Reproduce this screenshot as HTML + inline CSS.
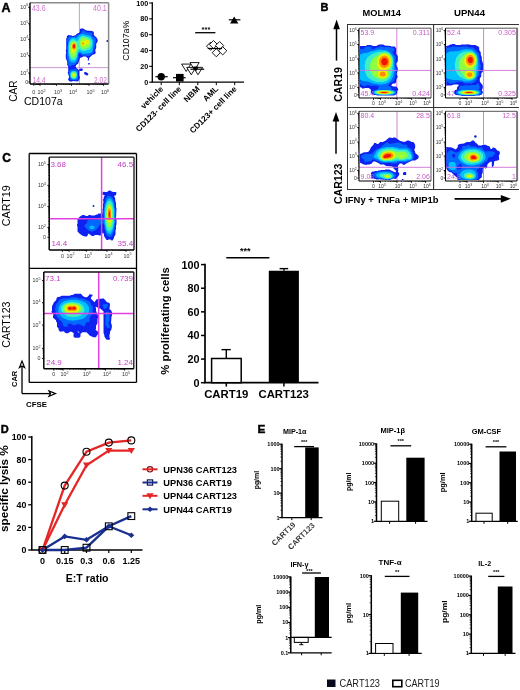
<!DOCTYPE html>
<html><head><meta charset="utf-8"><style>
html,body{margin:0;padding:0;background:#fff;width:520px;height:690px;overflow:hidden}
svg{display:block;font-family:"Liberation Sans", sans-serif;filter:blur(0.3px)}
</style></head><body>
<svg width="520" height="690" viewBox="0 0 520 690">
<defs><filter id="bl" x="-5%" y="-5%" width="110%" height="110%"><feGaussianBlur stdDeviation="0.45"/></filter></defs>
<rect width="520" height="690" fill="#fff"/>
<text x="1.5" y="11.6" font-size="12.5" font-weight="bold" fill="#000" stroke="#000" stroke-width="0.45">A</text>
<line x1="152.3" y1="2.2" x2="152.3" y2="82.2" stroke="#000" stroke-width="1.3"/>
<line x1="151.6" y1="82.2" x2="244" y2="82.2" stroke="#000" stroke-width="1.3"/>
<line x1="149.2" y1="82.2" x2="152.3" y2="82.2" stroke="#000" stroke-width="1.1"/>
<text x="148.3" y="84.8" font-size="7.2" font-weight="bold" text-anchor="end" fill="#000">0</text>
<line x1="149.2" y1="66.36" x2="152.3" y2="66.36" stroke="#000" stroke-width="1.1"/>
<text x="148.3" y="68.96" font-size="7.2" font-weight="bold" text-anchor="end" fill="#000">20</text>
<line x1="149.2" y1="50.52" x2="152.3" y2="50.52" stroke="#000" stroke-width="1.1"/>
<text x="148.3" y="53.120000000000005" font-size="7.2" font-weight="bold" text-anchor="end" fill="#000">40</text>
<line x1="149.2" y1="34.68" x2="152.3" y2="34.68" stroke="#000" stroke-width="1.1"/>
<text x="148.3" y="37.28" font-size="7.2" font-weight="bold" text-anchor="end" fill="#000">60</text>
<line x1="149.2" y1="18.840000000000003" x2="152.3" y2="18.840000000000003" stroke="#000" stroke-width="1.1"/>
<text x="148.3" y="21.440000000000005" font-size="7.2" font-weight="bold" text-anchor="end" fill="#000">80</text>
<line x1="149.2" y1="3.0" x2="152.3" y2="3.0" stroke="#000" stroke-width="1.1"/>
<text x="148.3" y="5.6" font-size="7.2" font-weight="bold" text-anchor="end" fill="#000">100</text>
<line x1="161.2" y1="82.2" x2="161.2" y2="85.2" stroke="#000" stroke-width="1"/>
<line x1="179.3" y1="82.2" x2="179.3" y2="85.2" stroke="#000" stroke-width="1"/>
<line x1="197.8" y1="82.2" x2="197.8" y2="85.2" stroke="#000" stroke-width="1"/>
<line x1="216.3" y1="82.2" x2="216.3" y2="85.2" stroke="#000" stroke-width="1"/>
<line x1="234.7" y1="82.2" x2="234.7" y2="85.2" stroke="#000" stroke-width="1"/>
<text x="128.7" y="40.7" font-size="9.8" text-anchor="middle" fill="#000" transform="rotate(-90 128.7 40.7)" textLength="40" lengthAdjust="spacingAndGlyphs">CD107a%</text>
<text x="163.7" y="89.5" font-size="8.2" font-weight="bold" text-anchor="end" fill="#000" transform="rotate(-45 163.7 89.5)">vehicle</text>
<text x="181.8" y="89.5" font-size="8.2" font-weight="bold" text-anchor="end" fill="#000" transform="rotate(-45 181.8 89.5)">CD123- cell line</text>
<text x="200.3" y="89.5" font-size="8.2" font-weight="bold" text-anchor="end" fill="#000" transform="rotate(-45 200.3 89.5)">NBM</text>
<text x="218.8" y="89.5" font-size="8.2" font-weight="bold" text-anchor="end" fill="#000" transform="rotate(-45 218.8 89.5)">AML</text>
<text x="237.2" y="89.5" font-size="8.2" font-weight="bold" text-anchor="end" fill="#000" transform="rotate(-45 237.2 89.5)">CD123+ cell line</text>
<circle cx="161.2" cy="76.7" r="3.7" fill="#000"/>
<line x1="155.4" y1="76.7" x2="167.7" y2="76.7" stroke="#000" stroke-width="1.2"/>
<rect x="176.0" y="73.9" width="7.6" height="7.6" fill="#000" stroke="none" stroke-width="1"/>
<line x1="173" y1="77.7" x2="185.6" y2="77.7" stroke="#000" stroke-width="1.2"/>
<path d="M181.6,64.08 L190.79999999999998,64.08 L186.2,71.44 Z" fill="#fff" stroke="#000" stroke-width="0.9"/>
<path d="M186.70000000000002,67.38 L195.9,67.38 L191.3,74.74 Z" fill="#fff" stroke="#000" stroke-width="0.9"/>
<path d="M190.0,62.58 L199.2,62.58 L194.6,69.94 Z" fill="#fff" stroke="#000" stroke-width="0.9"/>
<path d="M193.4,67.38 L202.6,67.38 L198,74.74 Z" fill="#fff" stroke="#000" stroke-width="0.9"/>
<path d="M193.4,67.02 L198.20000000000002,67.02 L195.8,70.86 Z" fill="#000" stroke="#000" stroke-width="0.9"/>
<line x1="190.4" y1="69.2" x2="204.2" y2="69.2" stroke="#000" stroke-width="1.2"/>
<path d="M210.6,42.1 L214.7,46.2 L210.6,50.300000000000004 L206.5,46.2 Z" fill="#fff" stroke="#000" stroke-width="0.9"/>
<path d="M213.5,40.5 L217.6,44.6 L213.5,48.7 L209.4,44.6 Z" fill="#fff" stroke="#000" stroke-width="0.9"/>
<path d="M219.6,41.5 L223.7,45.6 L219.6,49.7 L215.5,45.6 Z" fill="#fff" stroke="#000" stroke-width="0.9"/>
<path d="M216.3,48.6 L220.4,52.7 L216.3,56.800000000000004 L212.20000000000002,52.7 Z" fill="#fff" stroke="#000" stroke-width="0.9"/>
<path d="M222.7,46.699999999999996 L226.79999999999998,50.8 L222.7,54.9 L218.6,50.8 Z" fill="#fff" stroke="#000" stroke-width="0.9"/>
<line x1="207.7" y1="48.5" x2="222" y2="48.5" stroke="#000" stroke-width="1.2"/>
<path d="M234.2,16.6 L238.4,23.6 L230,23.6 Z" fill="#000"/>
<line x1="228.8" y1="19.8" x2="240.4" y2="19.8" stroke="#000" stroke-width="1.2"/>
<text x="206" y="32.2" font-size="7.5" font-weight="bold" text-anchor="middle" fill="#000">***</text>
<line x1="195.2" y1="32.7" x2="215.4" y2="32.7" stroke="#000" stroke-width="1.3"/>
<line x1="79.4" y1="2.7" x2="79.4" y2="84" stroke="#c080c8" stroke-width="0.8"/>
<line x1="30" y1="67.6" x2="108.6" y2="67.6" stroke="#c080c8" stroke-width="0.8"/>
<g filter="url(#bl)"><path d="M83.8,73.0 L84.8,74.5 L86.8,75.5 L88.2,75.0 L88.2,73.5 L85.8,72.0 L84.8,72.0ZM88.2,63.0 L88.2,64.5 L89.8,64.5 L89.8,63.0ZM92.2,30.9 L86.2,30.4 L83.2,28.4 L80.8,28.4 L79.8,29.4 L79.8,31.9 L78.8,33.0 L77.2,33.5 L75.2,35.5 L72.2,36.0 L71.8,35.5 L68.2,35.0 L66.8,36.5 L66.8,38.0 L66.2,38.5 L66.2,49.5 L65.8,50.0 L66.2,53.5 L65.8,54.0 L65.8,58.5 L67.2,61.5 L67.2,65.0 L68.2,66.5 L68.2,71.5 L67.8,72.0 L67.8,73.0 L69.2,77.0 L68.2,79.0 L68.2,80.0 L69.8,81.5 L72.2,81.5 L72.8,81.0 L77.8,81.5 L79.2,80.0 L79.2,79.0 L79.8,78.5 L79.8,76.5 L79.2,76.0 L79.2,71.0 L79.8,70.5 L80.2,71.0 L81.8,71.0 L82.8,70.0 L82.8,69.0 L82.2,68.5 L80.2,68.5 L78.8,70.0 L75.8,67.5 L75.8,66.0 L76.2,65.0 L78.2,63.5 L79.8,58.5 L80.8,57.5 L81.8,57.5 L83.2,56.5 L85.8,56.5 L88.2,58.5 L87.8,59.0 L87.8,60.5 L88.8,60.5 L89.2,58.0 L92.2,55.0 L94.8,54.0 L95.8,53.0 L95.2,50.0 L96.2,48.0 L96.2,43.5 L97.2,42.5 L97.8,40.0 L96.2,37.0 L95.8,37.0 L93.8,35.0 L93.8,31.9Z" fill="#1020f0" fill-rule="evenodd"/><path d="M70.2,69.5 L68.8,71.5 L68.8,74.0 L70.2,77.5 L70.2,79.5 L70.8,80.0 L77.2,80.5 L78.2,79.0 L78.2,77.0 L77.8,76.5 L78.2,71.5 L77.8,70.5 L75.8,69.0ZM88.8,63.5 L88.8,64.0 L89.2,64.0 L89.2,63.5ZM91.2,32.5 L86.8,32.5 L84.2,30.4 L82.2,30.4 L80.8,33.5 L77.2,35.0 L75.8,36.5 L74.8,36.5 L74.2,37.0 L69.2,36.5 L67.8,38.0 L67.8,39.5 L67.2,40.0 L67.2,41.5 L67.8,42.0 L67.8,45.5 L67.2,46.0 L67.2,54.5 L66.8,55.0 L66.8,58.5 L67.8,60.0 L67.8,61.0 L68.2,61.5 L68.2,64.0 L69.2,66.0 L70.2,66.5 L72.8,65.0 L74.2,65.0 L77.2,62.5 L78.2,60.0 L78.2,58.5 L78.8,58.0 L78.8,56.0 L78.2,55.5 L78.8,55.0 L78.8,54.0 L79.8,53.0 L82.2,55.5 L86.8,55.5 L87.2,56.0 L88.8,56.0 L93.2,53.0 L93.8,52.0 L93.8,51.0 L93.2,50.5 L94.8,47.5 L94.8,44.5 L95.8,42.0 L95.8,39.0 L94.8,37.5 L93.2,37.0 L92.2,36.0 L92.2,33.5Z" fill="#0068ff" fill-rule="evenodd"/><path d="M71.8,71.0 L70.2,73.0 L70.2,77.0 L71.8,79.0 L72.8,79.0 L73.2,79.5 L75.8,79.0 L77.2,77.0 L77.2,73.0 L76.8,72.0 L75.2,71.0ZM91.2,36.5 L89.2,35.5 L85.2,35.0 L83.8,34.0 L81.2,34.0 L78.8,35.5 L76.2,38.5 L74.2,37.5 L72.2,37.5 L69.8,39.5 L68.2,43.5 L68.2,55.5 L68.8,56.0 L69.2,60.0 L71.2,62.5 L74.2,62.5 L75.8,61.5 L77.8,56.5 L78.2,53.0 L79.2,52.0 L80.2,52.0 L81.2,53.0 L83.8,54.0 L84.8,53.5 L88.2,53.5 L88.8,53.0 L90.2,53.0 L91.8,52.0 L92.8,50.0 L92.8,47.0 L93.2,46.5 L93.2,40.5Z" fill="#00c0ff" fill-rule="evenodd"/><path d="M72.8,71.5 L71.8,72.0 L70.8,73.5 L70.8,76.5 L72.2,78.5 L75.2,78.5 L76.8,76.5 L76.8,73.5 L75.8,72.0 L74.8,71.5ZM90.2,38.0 L84.8,36.0 L81.8,36.0 L79.2,38.0 L78.8,39.5 L77.2,41.0 L76.2,41.0 L73.8,39.0 L71.8,39.5 L70.2,41.0 L69.2,43.0 L69.2,45.0 L68.8,45.5 L68.8,53.5 L69.2,54.0 L69.8,57.5 L71.8,60.0 L74.8,60.0 L75.8,59.0 L76.8,57.0 L77.8,51.5 L79.2,49.5 L80.2,49.5 L81.8,51.0 L85.2,51.0 L87.2,50.0 L88.8,50.0 L90.8,48.5 L92.2,44.5 L92.2,42.0 L91.8,41.5 L91.8,40.0Z" fill="#40f0c0" fill-rule="evenodd"/><path d="M74.8,72.5 L72.8,72.5 L71.2,74.0 L71.2,76.0 L72.2,77.5 L73.2,77.5 L73.8,78.0 L75.8,77.0 L76.2,74.5ZM72.2,41.5 L70.8,43.0 L70.2,45.5 L69.8,46.0 L69.8,52.5 L70.2,53.0 L70.8,56.0 L72.2,57.5 L74.2,57.5 L76.2,54.5 L76.2,53.0 L76.8,52.5 L76.8,47.0 L77.2,46.0 L76.8,45.5 L76.2,43.0 L74.8,41.5ZM82.8,37.5 L81.8,38.0 L80.2,40.0 L80.2,41.0 L79.8,41.5 L79.8,45.0 L80.2,45.5 L80.2,46.5 L81.8,48.5 L84.2,49.0 L88.2,47.5 L89.8,46.0 L90.2,45.0 L90.2,41.0 L87.2,38.5Z" fill="#90ff40" fill-rule="evenodd"/><path d="M73.8,73.5 L72.8,74.0 L72.8,76.0 L73.2,76.5 L74.2,76.5 L74.8,76.0 L74.8,74.0ZM75.2,42.5 L73.2,42.5 L72.2,43.5 L71.8,46.0 L71.2,46.5 L71.8,47.5 L71.8,51.5 L73.2,53.5 L74.2,53.0 L74.8,51.0 L76.2,48.5 L76.2,44.0ZM89.2,41.0 L88.2,40.0 L86.8,40.0 L85.2,41.0 L83.2,40.5 L81.2,42.5 L81.2,44.5 L81.8,45.5 L83.8,46.0 L86.2,44.0 L88.2,43.5 L89.2,42.5Z" fill="#f0f000" fill-rule="evenodd"/><path d="M73.8,43.0 L72.2,45.0 L72.2,48.0 L73.2,49.5 L74.8,49.5 L75.8,48.0 L75.8,44.5 L75.2,43.5ZM82.8,42.5 L82.2,43.0 L82.2,44.5 L83.8,44.5 L84.2,43.5 L83.8,42.5ZM87.8,41.5 L86.8,42.0 L87.8,42.0Z" fill="#ff8c00" fill-rule="evenodd"/><path d="M73.8,44.0 L72.8,45.5 L72.8,47.0 L73.2,48.0 L74.2,48.5 L75.2,47.5 L75.2,45.0Z" fill="#f01800" fill-rule="evenodd"/></g>
<circle cx="107.3" cy="41" r="0.9" fill="#102080"/>
<line x1="30" y1="2.7" x2="108.6" y2="2.7" stroke="#8a8a8a" stroke-width="1.5"/>
<line x1="108.6" y1="2.7" x2="108.6" y2="84" stroke="#8a8a8a" stroke-width="1.5"/>
<line x1="30" y1="2.7" x2="30" y2="84" stroke="#000" stroke-width="1.4"/>
<line x1="30" y1="84" x2="108.6" y2="84" stroke="#000" stroke-width="1.4"/>
<line x1="28.2" y1="7.3" x2="30" y2="7.3" stroke="#000" stroke-width="0.9"/>
<text x="28.3" y="8.9" font-size="5.4" text-anchor="end" fill="#333">10<tspan font-size="3.78" dy="-2.43">6</tspan></text>
<line x1="28.2" y1="23.7" x2="30" y2="23.7" stroke="#000" stroke-width="0.9"/>
<text x="28.3" y="25.3" font-size="5.4" text-anchor="end" fill="#333">10<tspan font-size="3.78" dy="-2.43">5</tspan></text>
<line x1="28.2" y1="39.3" x2="30" y2="39.3" stroke="#000" stroke-width="0.9"/>
<text x="28.3" y="40.9" font-size="5.4" text-anchor="end" fill="#333">10<tspan font-size="3.78" dy="-2.43">4</tspan></text>
<line x1="28.2" y1="55.7" x2="30" y2="55.7" stroke="#000" stroke-width="0.9"/>
<text x="28.3" y="57.300000000000004" font-size="5.4" text-anchor="end" fill="#333">10<tspan font-size="3.78" dy="-2.43">3</tspan></text>
<line x1="28.2" y1="73.0" x2="30" y2="73.0" stroke="#000" stroke-width="0.9"/>
<text x="28.3" y="74.6" font-size="5.4" text-anchor="end" fill="#333">10<tspan font-size="3.78" dy="-2.43">2</tspan></text>
<line x1="28.2" y1="82.0" x2="30" y2="82.0" stroke="#000" stroke-width="0.9"/>
<text x="28.3" y="83.6" font-size="5.4" text-anchor="end" fill="#333">0</text>
<line x1="33.8" y1="84" x2="33.8" y2="85.8" stroke="#000" stroke-width="0.9"/>
<text x="33.8" y="94.0" font-size="5.4" text-anchor="middle" fill="#333">0</text>
<line x1="40.0" y1="84" x2="40.0" y2="85.8" stroke="#000" stroke-width="0.9"/>
<text x="41.5" y="94.0" font-size="5.4" text-anchor="middle" fill="#333">10<tspan font-size="3.78" dy="-2.43">2</tspan></text>
<line x1="56.5" y1="84" x2="56.5" y2="85.8" stroke="#000" stroke-width="0.9"/>
<text x="58.0" y="94.0" font-size="5.4" text-anchor="middle" fill="#333">10<tspan font-size="3.78" dy="-2.43">3</tspan></text>
<line x1="71.5" y1="84" x2="71.5" y2="85.8" stroke="#000" stroke-width="0.9"/>
<text x="73.0" y="94.0" font-size="5.4" text-anchor="middle" fill="#333">10<tspan font-size="3.78" dy="-2.43">4</tspan></text>
<line x1="89.0" y1="84" x2="89.0" y2="85.8" stroke="#000" stroke-width="0.9"/>
<text x="90.5" y="94.0" font-size="5.4" text-anchor="middle" fill="#333">10<tspan font-size="3.78" dy="-2.43">5</tspan></text>
<line x1="103.5" y1="84" x2="103.5" y2="85.8" stroke="#000" stroke-width="0.9"/>
<text x="105.0" y="94.0" font-size="5.4" text-anchor="middle" fill="#333">10<tspan font-size="3.78" dy="-2.43">6</tspan></text>
<line x1="29.0" y1="18.763108071110707" x2="30" y2="18.763108071110707" stroke="#000" stroke-width="0.6"/>
<line x1="29.0" y1="15.875211422597536" x2="30" y2="15.875211422597536" stroke="#000" stroke-width="0.6"/>
<line x1="29.0" y1="13.826216142221417" x2="30" y2="13.826216142221417" stroke="#000" stroke-width="0.6"/>
<line x1="29.0" y1="12.23689192888929" x2="30" y2="12.23689192888929" stroke="#000" stroke-width="0.6"/>
<line x1="29.0" y1="10.938319493708244" x2="30" y2="10.938319493708244" stroke="#000" stroke-width="0.6"/>
<line x1="29.0" y1="9.84039214376619" x2="30" y2="9.84039214376619" stroke="#000" stroke-width="0.6"/>
<line x1="29.0" y1="8.889324213332127" x2="30" y2="8.889324213332127" stroke="#000" stroke-width="0.6"/>
<line x1="29.0" y1="8.050422845195072" x2="30" y2="8.050422845195072" stroke="#000" stroke-width="0.6"/>
<line x1="29.0" y1="34.60393206764189" x2="30" y2="34.60393206764189" stroke="#000" stroke-width="0.6"/>
<line x1="29.0" y1="31.856908426373266" x2="30" y2="31.856908426373266" stroke="#000" stroke-width="0.6"/>
<line x1="29.0" y1="29.907864135283784" x2="30" y2="29.907864135283784" stroke="#000" stroke-width="0.6"/>
<line x1="29.0" y1="28.396067932358104" x2="30" y2="28.396067932358104" stroke="#000" stroke-width="0.6"/>
<line x1="29.0" y1="27.160840494015158" x2="30" y2="27.160840494015158" stroke="#000" stroke-width="0.6"/>
<line x1="29.0" y1="26.11647057577759" x2="30" y2="26.11647057577759" stroke="#000" stroke-width="0.6"/>
<line x1="29.0" y1="25.21179620292568" x2="30" y2="25.21179620292568" stroke="#000" stroke-width="0.6"/>
<line x1="29.0" y1="24.413816852746532" x2="30" y2="24.413816852746532" stroke="#000" stroke-width="0.6"/>
<line x1="29.0" y1="50.76310807111071" x2="30" y2="50.76310807111071" stroke="#000" stroke-width="0.6"/>
<line x1="29.0" y1="47.87521142259754" x2="30" y2="47.87521142259754" stroke="#000" stroke-width="0.6"/>
<line x1="29.0" y1="45.82621614222141" x2="30" y2="45.82621614222141" stroke="#000" stroke-width="0.6"/>
<line x1="29.0" y1="44.23689192888929" x2="30" y2="44.23689192888929" stroke="#000" stroke-width="0.6"/>
<line x1="29.0" y1="42.93831949370824" x2="30" y2="42.93831949370824" stroke="#000" stroke-width="0.6"/>
<line x1="29.0" y1="41.84039214376619" x2="30" y2="41.84039214376619" stroke="#000" stroke-width="0.6"/>
<line x1="29.0" y1="40.889324213332124" x2="30" y2="40.889324213332124" stroke="#000" stroke-width="0.6"/>
<line x1="29.0" y1="40.05042284519507" x2="30" y2="40.05042284519507" stroke="#000" stroke-width="0.6"/>
<line x1="29.0" y1="67.79218107501313" x2="30" y2="67.79218107501313" stroke="#000" stroke-width="0.6"/>
<line x1="29.0" y1="64.74580229334984" x2="30" y2="64.74580229334984" stroke="#000" stroke-width="0.6"/>
<line x1="29.0" y1="62.58436215002625" x2="30" y2="62.58436215002625" stroke="#000" stroke-width="0.6"/>
<line x1="29.0" y1="60.90781892498688" x2="30" y2="60.90781892498688" stroke="#000" stroke-width="0.6"/>
<line x1="29.0" y1="59.537983368362966" x2="30" y2="59.537983368362966" stroke="#000" stroke-width="0.6"/>
<line x1="29.0" y1="58.379803907753356" x2="30" y2="58.379803907753356" stroke="#000" stroke-width="0.6"/>
<line x1="29.0" y1="57.37654322503938" x2="30" y2="57.37654322503938" stroke="#000" stroke-width="0.6"/>
<line x1="29.0" y1="56.49160458669968" x2="30" y2="56.49160458669968" stroke="#000" stroke-width="0.6"/>
<line x1="29.0" y1="79.29073003902417" x2="30" y2="79.29073003902417" stroke="#000" stroke-width="0.6"/>
<line x1="29.0" y1="77.70590870752304" x2="30" y2="77.70590870752304" stroke="#000" stroke-width="0.6"/>
<line x1="29.0" y1="76.58146007804834" x2="30" y2="76.58146007804834" stroke="#000" stroke-width="0.6"/>
<line x1="29.0" y1="75.70926996097583" x2="30" y2="75.70926996097583" stroke="#000" stroke-width="0.6"/>
<line x1="29.0" y1="74.9966387465472" x2="30" y2="74.9966387465472" stroke="#000" stroke-width="0.6"/>
<line x1="29.0" y1="74.3941176398717" x2="30" y2="74.3941176398717" stroke="#000" stroke-width="0.6"/>
<line x1="29.0" y1="73.8721901170725" x2="30" y2="73.8721901170725" stroke="#000" stroke-width="0.6"/>
<line x1="29.0" y1="73.41181741504607" x2="30" y2="73.41181741504607" stroke="#000" stroke-width="0.6"/>
<line x1="35.66638597311668" y1="84" x2="35.66638597311668" y2="85.0" stroke="#000" stroke-width="0.6"/>
<line x1="36.75815177926191" y1="84" x2="36.75815177926191" y2="85.0" stroke="#000" stroke-width="0.6"/>
<line x1="37.53277194623337" y1="84" x2="37.53277194623337" y2="85.0" stroke="#000" stroke-width="0.6"/>
<line x1="38.133614026883315" y1="84" x2="38.133614026883315" y2="85.0" stroke="#000" stroke-width="0.6"/>
<line x1="38.624537752378586" y1="84" x2="38.624537752378586" y2="85.0" stroke="#000" stroke-width="0.6"/>
<line x1="39.039607848088394" y1="84" x2="39.039607848088394" y2="85.0" stroke="#000" stroke-width="0.6"/>
<line x1="39.39915791935005" y1="84" x2="39.39915791935005" y2="85.0" stroke="#000" stroke-width="0.6"/>
<line x1="39.71630355852381" y1="84" x2="39.71630355852381" y2="85.0" stroke="#000" stroke-width="0.6"/>
<line x1="44.96699492845569" y1="84" x2="44.96699492845569" y2="85.0" stroke="#000" stroke-width="0.6"/>
<line x1="47.87250070287443" y1="84" x2="47.87250070287443" y2="85.0" stroke="#000" stroke-width="0.6"/>
<line x1="49.93398985691138" y1="84" x2="49.93398985691138" y2="85.0" stroke="#000" stroke-width="0.6"/>
<line x1="51.53300507154431" y1="84" x2="51.53300507154431" y2="85.0" stroke="#000" stroke-width="0.6"/>
<line x1="52.839495631330124" y1="84" x2="52.839495631330124" y2="85.0" stroke="#000" stroke-width="0.6"/>
<line x1="53.944117660235236" y1="84" x2="53.944117660235236" y2="85.0" stroke="#000" stroke-width="0.6"/>
<line x1="54.90098478536707" y1="84" x2="54.90098478536707" y2="85.0" stroke="#000" stroke-width="0.6"/>
<line x1="55.74500140574886" y1="84" x2="55.74500140574886" y2="85.0" stroke="#000" stroke-width="0.6"/>
<line x1="61.01544993495972" y1="84" x2="61.01544993495972" y2="85.0" stroke="#000" stroke-width="0.6"/>
<line x1="63.65681882079494" y1="84" x2="63.65681882079494" y2="85.0" stroke="#000" stroke-width="0.6"/>
<line x1="65.53089986991944" y1="84" x2="65.53089986991944" y2="85.0" stroke="#000" stroke-width="0.6"/>
<line x1="66.98455006504028" y1="84" x2="66.98455006504028" y2="85.0" stroke="#000" stroke-width="0.6"/>
<line x1="68.17226875575466" y1="84" x2="68.17226875575466" y2="85.0" stroke="#000" stroke-width="0.6"/>
<line x1="69.17647060021385" y1="84" x2="69.17647060021385" y2="85.0" stroke="#000" stroke-width="0.6"/>
<line x1="70.04634980487916" y1="84" x2="70.04634980487916" y2="85.0" stroke="#000" stroke-width="0.6"/>
<line x1="70.81363764158988" y1="84" x2="70.81363764158988" y2="85.0" stroke="#000" stroke-width="0.6"/>
<line x1="76.76802492411967" y1="84" x2="76.76802492411967" y2="85.0" stroke="#000" stroke-width="0.6"/>
<line x1="79.8496219575941" y1="84" x2="79.8496219575941" y2="85.0" stroke="#000" stroke-width="0.6"/>
<line x1="82.03604984823934" y1="84" x2="82.03604984823934" y2="85.0" stroke="#000" stroke-width="0.6"/>
<line x1="83.73197507588033" y1="84" x2="83.73197507588033" y2="85.0" stroke="#000" stroke-width="0.6"/>
<line x1="85.11764688171377" y1="84" x2="85.11764688171377" y2="85.0" stroke="#000" stroke-width="0.6"/>
<line x1="86.2892157002495" y1="84" x2="86.2892157002495" y2="85.0" stroke="#000" stroke-width="0.6"/>
<line x1="87.30407477235902" y1="84" x2="87.30407477235902" y2="85.0" stroke="#000" stroke-width="0.6"/>
<line x1="88.19924391518819" y1="84" x2="88.19924391518819" y2="85.0" stroke="#000" stroke-width="0.6"/>
<line x1="93.36493493712773" y1="84" x2="93.36493493712773" y2="85.0" stroke="#000" stroke-width="0.6"/>
<line x1="95.91825819343511" y1="84" x2="95.91825819343511" y2="85.0" stroke="#000" stroke-width="0.6"/>
<line x1="97.72986987425546" y1="84" x2="97.72986987425546" y2="85.0" stroke="#000" stroke-width="0.6"/>
<line x1="99.13506506287227" y1="84" x2="99.13506506287227" y2="85.0" stroke="#000" stroke-width="0.6"/>
<line x1="100.28319313056284" y1="84" x2="100.28319313056284" y2="85.0" stroke="#000" stroke-width="0.6"/>
<line x1="101.25392158020672" y1="84" x2="101.25392158020672" y2="85.0" stroke="#000" stroke-width="0.6"/>
<line x1="102.09480481138318" y1="84" x2="102.09480481138318" y2="85.0" stroke="#000" stroke-width="0.6"/>
<line x1="102.83651638687022" y1="84" x2="102.83651638687022" y2="85.0" stroke="#000" stroke-width="0.6"/>
<text x="31.9" y="11.1" font-size="8.4" fill="#d070d0" textLength="13.7" lengthAdjust="spacingAndGlyphs">43.6</text>
<text x="106.8" y="11.1" font-size="8.4" text-anchor="end" fill="#d070d0" textLength="13.8" lengthAdjust="spacingAndGlyphs">40.1</text>
<text x="32.4" y="83.3" font-size="8.4" fill="#d070d0" textLength="13.2" lengthAdjust="spacingAndGlyphs">14.4</text>
<text x="106.8" y="83.3" font-size="8.4" text-anchor="end" fill="#d070d0" textLength="12.8" lengthAdjust="spacingAndGlyphs">2.02</text>
<text x="17.0" y="91.0" font-size="10.2" text-anchor="middle" fill="#000" transform="rotate(-90 17.0 91.0)" textLength="21.4" lengthAdjust="spacingAndGlyphs">CAR</text>
<text x="24.0" y="105.3" font-size="10.5" fill="#000" textLength="38.6" lengthAdjust="spacingAndGlyphs">CD107a</text>
<text x="320.6" y="11.0" font-size="11" font-weight="bold" fill="#000" stroke="#000" stroke-width="0.45">B</text>
<text x="362.5" y="16.3" font-size="9.25" font-weight="bold" fill="#000" textLength="38.5" lengthAdjust="spacingAndGlyphs">MOLM14</text>
<text x="454" y="16.3" font-size="9.5" font-weight="bold" fill="#000" textLength="31" lengthAdjust="spacingAndGlyphs">UPN44</text>
<line x1="347" y1="24.5" x2="519" y2="24.5" stroke="#333" stroke-width="1.0"/>
<line x1="347.5" y1="24.5" x2="347.5" y2="189.5" stroke="#333" stroke-width="1.0"/>
<line x1="433.6" y1="24.5" x2="433.6" y2="189.5" stroke="#333" stroke-width="1.1"/>
<line x1="347" y1="107.5" x2="519" y2="107.5" stroke="#333" stroke-width="1.0"/>
<line x1="347" y1="189.5" x2="519" y2="189.5" stroke="#333" stroke-width="1.0"/>
<line x1="517.2" y1="27.8" x2="517.2" y2="98" stroke="#999" stroke-width="1.8"/>
<line x1="517.2" y1="111.3" x2="517.2" y2="181" stroke="#999" stroke-width="1.8"/>
<line x1="396.8" y1="28.2" x2="396.8" y2="98" stroke="#d070d8" stroke-width="0.9"/>
<g filter="url(#bl)"><path d="M359.8,46.0 L359.8,87.0 L361.2,87.5 L362.2,88.5 L364.2,88.5 L364.8,88.0 L368.8,88.0 L371.2,90.0 L370.8,91.0 L370.8,93.0 L371.8,94.0 L374.2,95.0 L376.2,95.0 L376.8,95.5 L393.8,95.5 L396.2,94.5 L397.2,93.0 L397.2,91.0 L398.2,90.0 L398.2,89.0 L396.8,87.0 L395.8,86.5 L393.2,86.5 L391.2,85.5 L392.2,84.0 L393.2,83.5 L395.2,83.5 L396.2,82.0 L396.2,79.5 L396.8,79.0 L396.8,78.0 L397.8,77.0 L396.8,74.5 L396.8,73.0 L397.8,70.5 L397.8,68.5 L396.2,65.0 L396.2,63.5 L397.8,61.0 L397.8,56.0 L396.2,54.0 L396.2,48.5 L394.8,46.5 L391.2,46.5 L390.8,46.0 L384.8,45.5 L383.2,44.5 L379.2,44.5 L376.2,46.0 L373.2,46.0 L370.8,45.0 L367.2,45.0 L365.8,46.0Z" fill="#1020f0" fill-rule="evenodd"/><path d="M359.8,49.0 L359.8,84.0 L361.2,84.5 L362.8,86.0 L365.2,86.0 L366.8,85.0 L369.2,85.0 L370.8,86.0 L372.2,86.0 L372.8,85.5 L378.2,86.0 L378.8,86.5 L377.8,89.0 L377.2,89.5 L373.2,90.5 L372.2,92.0 L372.8,93.5 L374.8,94.5 L376.2,94.5 L376.8,95.0 L393.2,95.0 L395.8,94.0 L396.2,91.5 L395.2,90.5 L392.2,90.0 L391.2,87.5 L390.2,86.5 L387.8,85.5 L390.8,82.5 L393.8,81.0 L395.2,77.0 L395.2,75.0 L395.8,74.5 L395.8,71.5 L396.2,71.0 L396.2,68.0 L395.2,65.5 L395.8,57.0 L392.2,52.0 L394.2,50.5 L394.2,48.5 L392.2,47.5 L390.2,47.5 L389.8,47.0 L385.2,47.0 L384.8,47.5 L382.2,46.5 L379.8,46.5 L379.2,47.0 L376.8,47.5 L375.2,48.5 L371.8,49.0 L371.2,48.5 L371.8,48.0 L371.2,47.0 L370.2,46.5 L366.8,46.5 L364.8,47.5 L363.2,49.5 L362.2,49.0Z" fill="#0068ff" fill-rule="evenodd"/><path d="M373.8,91.5 L373.8,93.0 L374.2,93.5 L376.8,94.5 L380.2,94.5 L380.8,95.0 L387.8,95.0 L388.2,94.5 L392.2,94.5 L395.2,93.0 L395.2,92.0 L393.2,90.5 L391.2,90.5 L390.8,90.0 L377.8,90.0ZM392.2,55.0 L388.8,51.5 L384.8,50.0 L382.2,50.0 L381.8,49.5 L375.8,50.0 L375.2,50.5 L370.2,51.5 L366.8,53.0 L363.8,53.0 L363.2,53.5 L360.8,54.0 L359.8,55.0 L359.8,79.0 L360.8,80.0 L363.2,81.0 L368.2,81.5 L373.2,83.5 L377.8,84.0 L378.2,84.5 L382.8,84.5 L383.2,84.0 L385.2,84.0 L389.2,82.0 L391.2,80.0 L393.2,76.0 L393.8,72.5 L394.2,72.0 L394.2,62.0 L393.8,61.5 L393.8,59.0Z" fill="#00c0ff" fill-rule="evenodd"/><path d="M374.8,92.0 L374.8,93.0 L375.2,93.5 L378.2,94.0 L378.8,94.5 L389.8,94.5 L390.2,94.0 L392.2,94.0 L393.8,93.0 L393.8,92.0 L392.8,91.0 L391.2,91.0 L390.8,90.5 L386.8,90.5 L386.2,90.0 L377.2,90.5 L376.8,91.0 L375.8,91.0ZM385.8,51.5 L377.2,52.0 L376.8,52.5 L375.2,52.5 L373.8,53.5 L372.8,53.5 L367.8,57.0 L365.2,61.5 L365.2,64.0 L364.8,64.5 L364.8,69.5 L365.2,70.0 L365.2,72.5 L365.8,73.0 L365.8,74.0 L367.2,76.5 L369.2,78.5 L373.8,81.0 L374.8,81.0 L376.8,82.0 L383.8,82.0 L384.2,81.5 L385.2,81.5 L387.2,80.5 L389.8,78.0 L391.2,75.0 L391.8,72.0 L392.2,71.5 L392.2,67.0 L392.8,66.5 L392.8,63.5 L393.2,63.0 L392.8,58.5 L390.8,54.5 L389.2,53.0Z" fill="#40f0c0" fill-rule="evenodd"/><path d="M375.8,92.0 L376.8,93.5 L377.8,93.5 L378.2,94.0 L382.8,94.0 L383.2,94.5 L384.8,94.5 L385.2,94.0 L389.8,94.0 L390.2,93.5 L391.8,93.5 L392.8,92.5 L390.8,91.0 L388.2,91.0 L387.8,90.5 L380.2,90.5 L379.8,91.0 L377.8,91.0ZM385.2,52.5 L381.2,53.0 L377.2,56.0 L374.8,57.0 L371.2,61.0 L371.2,62.0 L370.2,64.0 L370.2,70.0 L371.8,74.0 L374.8,77.0 L380.8,79.5 L384.2,79.5 L386.2,78.5 L388.2,76.5 L388.8,75.5 L388.8,71.0 L391.8,65.5 L391.8,63.5 L392.2,63.0 L392.2,60.5 L391.8,60.0 L391.2,57.0 L388.8,54.0Z" fill="#90ff40" fill-rule="evenodd"/><path d="M377.2,92.0 L377.8,93.0 L378.8,93.5 L380.8,93.5 L381.2,94.0 L386.8,94.0 L387.2,93.5 L390.8,93.0 L390.8,92.0 L388.2,91.5 L387.8,91.0 L380.2,91.0 L379.8,91.5ZM385.8,54.0 L382.8,54.0 L380.8,55.0 L378.2,57.5 L377.2,60.0 L377.2,65.0 L378.2,67.5 L379.8,69.0 L379.8,70.0 L377.8,72.5 L377.8,75.0 L378.2,76.0 L380.8,78.0 L384.8,78.0 L386.8,76.5 L387.2,75.5 L387.2,72.5 L386.2,71.0 L386.2,70.0 L389.2,67.5 L390.8,64.5 L390.8,59.0 L388.8,55.5Z" fill="#f0f000" fill-rule="evenodd"/><path d="M379.2,92.0 L379.8,93.0 L380.8,93.0 L381.2,93.5 L386.8,93.5 L389.2,92.5 L387.2,91.5 L380.8,91.5 L380.2,92.0ZM380.8,72.0 L379.8,73.5 L379.8,75.0 L381.2,76.5 L384.2,76.5 L385.8,75.0 L385.2,72.5 L383.8,71.5ZM383.8,55.5 L383.2,56.0 L382.2,56.0 L380.2,58.0 L379.2,60.0 L379.2,63.5 L380.8,66.5 L382.2,67.5 L384.8,68.0 L387.2,67.0 L388.2,66.0 L389.2,64.0 L389.2,59.0 L387.2,56.5 L385.2,55.5Z" fill="#ff8c00" fill-rule="evenodd"/><path d="M381.2,92.5 L382.2,93.0 L385.8,93.0 L386.8,92.5 L386.2,92.0 L381.8,92.0ZM383.2,58.0 L381.2,60.5 L381.2,62.5 L381.8,63.0 L381.8,64.0 L382.8,65.0 L384.8,65.5 L386.8,64.5 L387.8,62.5 L387.8,60.5 L385.8,58.0Z" fill="#f01800" fill-rule="evenodd"/></g>
<line x1="359" y1="70.4" x2="431" y2="70.4" stroke="#d070d8" stroke-width="0.9"/>
<line x1="359" y1="28.2" x2="431" y2="28.2" stroke="#555" stroke-width="1.0"/>
<line x1="431" y1="28.2" x2="431" y2="98" stroke="#555" stroke-width="1.0"/>
<line x1="359" y1="28.2" x2="359" y2="98" stroke="#000" stroke-width="1.1"/>
<line x1="359" y1="98" x2="431" y2="98" stroke="#000" stroke-width="1.1"/>
<line x1="357.2" y1="30.599999999999998" x2="359" y2="30.599999999999998" stroke="#000" stroke-width="0.9"/>
<text x="356.8" y="32.199999999999996" font-size="5.0" text-anchor="end" fill="#333">10<tspan font-size="3.50" dy="-2.25">6</tspan></text>
<line x1="357.2" y1="44.5" x2="359" y2="44.5" stroke="#000" stroke-width="0.9"/>
<text x="356.8" y="46.1" font-size="5.0" text-anchor="end" fill="#333">10<tspan font-size="3.50" dy="-2.25">5</tspan></text>
<line x1="357.2" y1="59.0" x2="359" y2="59.0" stroke="#000" stroke-width="0.9"/>
<text x="356.8" y="60.6" font-size="5.0" text-anchor="end" fill="#333">10<tspan font-size="3.50" dy="-2.25">4</tspan></text>
<line x1="357.2" y1="72.9" x2="359" y2="72.9" stroke="#000" stroke-width="0.9"/>
<text x="356.8" y="74.5" font-size="5.0" text-anchor="end" fill="#333">10<tspan font-size="3.50" dy="-2.25">3</tspan></text>
<line x1="357.2" y1="87.4" x2="359" y2="87.4" stroke="#000" stroke-width="0.9"/>
<text x="356.8" y="89.0" font-size="5.0" text-anchor="end" fill="#333">10<tspan font-size="3.50" dy="-2.25">2</tspan></text>
<line x1="357.2" y1="94.9" x2="359" y2="94.9" stroke="#000" stroke-width="0.9"/>
<text x="356.8" y="96.5" font-size="5.0" text-anchor="end" fill="#333">0</text>
<line x1="373.5" y1="98" x2="373.5" y2="99.8" stroke="#000" stroke-width="0.9"/>
<text x="373.5" y="105.2" font-size="5.0" text-anchor="middle" fill="#333">0</text>
<line x1="380.5" y1="98" x2="380.5" y2="99.8" stroke="#000" stroke-width="0.9"/>
<text x="382.0" y="105.2" font-size="5.0" text-anchor="middle" fill="#333">10<tspan font-size="3.50" dy="-2.25">3</tspan></text>
<line x1="397" y1="98" x2="397" y2="99.8" stroke="#000" stroke-width="0.9"/>
<text x="398.5" y="105.2" font-size="5.0" text-anchor="middle" fill="#333">10<tspan font-size="3.50" dy="-2.25">4</tspan></text>
<line x1="411.6" y1="98" x2="411.6" y2="99.8" stroke="#000" stroke-width="0.9"/>
<text x="413.1" y="105.2" font-size="5.0" text-anchor="middle" fill="#333">10<tspan font-size="3.50" dy="-2.25">5</tspan></text>
<line x1="425.5" y1="98" x2="425.5" y2="99.8" stroke="#000" stroke-width="0.9"/>
<text x="427.0" y="105.2" font-size="5.0" text-anchor="middle" fill="#333">10<tspan font-size="3.50" dy="-2.25">6</tspan></text>
<line x1="358.0" y1="40.31568306027066" x2="359" y2="40.31568306027066" stroke="#000" stroke-width="0.6"/>
<line x1="358.0" y1="37.86801455939669" x2="359" y2="37.86801455939669" stroke="#000" stroke-width="0.6"/>
<line x1="358.0" y1="36.13136612054132" x2="359" y2="36.13136612054132" stroke="#000" stroke-width="0.6"/>
<line x1="358.0" y1="34.78431693972934" x2="359" y2="34.78431693972934" stroke="#000" stroke-width="0.6"/>
<line x1="358.0" y1="33.683697619667356" x2="359" y2="33.683697619667356" stroke="#000" stroke-width="0.6"/>
<line x1="358.0" y1="32.75313724380183" x2="359" y2="32.75313724380183" stroke="#000" stroke-width="0.6"/>
<line x1="358.0" y1="31.94704918081198" x2="359" y2="31.94704918081198" stroke="#000" stroke-width="0.6"/>
<line x1="358.0" y1="31.236029118793383" x2="359" y2="31.236029118793383" stroke="#000" stroke-width="0.6"/>
<line x1="358.0" y1="54.63506506287227" x2="359" y2="54.63506506287227" stroke="#000" stroke-width="0.6"/>
<line x1="358.0" y1="52.08174180656489" x2="359" y2="52.08174180656489" stroke="#000" stroke-width="0.6"/>
<line x1="358.0" y1="50.270130125744544" x2="359" y2="50.270130125744544" stroke="#000" stroke-width="0.6"/>
<line x1="358.0" y1="48.86493493712773" x2="359" y2="48.86493493712773" stroke="#000" stroke-width="0.6"/>
<line x1="358.0" y1="47.716806869437164" x2="359" y2="47.716806869437164" stroke="#000" stroke-width="0.6"/>
<line x1="358.0" y1="46.74607841979328" x2="359" y2="46.74607841979328" stroke="#000" stroke-width="0.6"/>
<line x1="358.0" y1="45.905195188616815" x2="359" y2="45.905195188616815" stroke="#000" stroke-width="0.6"/>
<line x1="358.0" y1="45.16348361312979" x2="359" y2="45.16348361312979" stroke="#000" stroke-width="0.6"/>
<line x1="358.0" y1="68.71568306027066" x2="359" y2="68.71568306027066" stroke="#000" stroke-width="0.6"/>
<line x1="358.0" y1="66.26801455939669" x2="359" y2="66.26801455939669" stroke="#000" stroke-width="0.6"/>
<line x1="358.0" y1="64.53136612054132" x2="359" y2="64.53136612054132" stroke="#000" stroke-width="0.6"/>
<line x1="358.0" y1="63.18431693972934" x2="359" y2="63.18431693972934" stroke="#000" stroke-width="0.6"/>
<line x1="358.0" y1="62.083697619667355" x2="359" y2="62.083697619667355" stroke="#000" stroke-width="0.6"/>
<line x1="358.0" y1="61.15313724380183" x2="359" y2="61.15313724380183" stroke="#000" stroke-width="0.6"/>
<line x1="358.0" y1="60.347049180811986" x2="359" y2="60.347049180811986" stroke="#000" stroke-width="0.6"/>
<line x1="358.0" y1="59.63602911879339" x2="359" y2="59.63602911879339" stroke="#000" stroke-width="0.6"/>
<line x1="358.0" y1="83.03506506287228" x2="359" y2="83.03506506287228" stroke="#000" stroke-width="0.6"/>
<line x1="358.0" y1="80.4817418065649" x2="359" y2="80.4817418065649" stroke="#000" stroke-width="0.6"/>
<line x1="358.0" y1="78.67013012574455" x2="359" y2="78.67013012574455" stroke="#000" stroke-width="0.6"/>
<line x1="358.0" y1="77.26493493712773" x2="359" y2="77.26493493712773" stroke="#000" stroke-width="0.6"/>
<line x1="358.0" y1="76.11680686943717" x2="359" y2="76.11680686943717" stroke="#000" stroke-width="0.6"/>
<line x1="358.0" y1="75.14607841979328" x2="359" y2="75.14607841979328" stroke="#000" stroke-width="0.6"/>
<line x1="358.0" y1="74.30519518861682" x2="359" y2="74.30519518861682" stroke="#000" stroke-width="0.6"/>
<line x1="358.0" y1="73.56348361312979" x2="359" y2="73.56348361312979" stroke="#000" stroke-width="0.6"/>
<line x1="358.0" y1="92.64227503252015" x2="359" y2="92.64227503252015" stroke="#000" stroke-width="0.6"/>
<line x1="358.0" y1="91.32159058960254" x2="359" y2="91.32159058960254" stroke="#000" stroke-width="0.6"/>
<line x1="358.0" y1="90.38455006504029" x2="359" y2="90.38455006504029" stroke="#000" stroke-width="0.6"/>
<line x1="358.0" y1="89.65772496747987" x2="359" y2="89.65772496747987" stroke="#000" stroke-width="0.6"/>
<line x1="358.0" y1="89.06386562212268" x2="359" y2="89.06386562212268" stroke="#000" stroke-width="0.6"/>
<line x1="358.0" y1="88.56176469989308" x2="359" y2="88.56176469989308" stroke="#000" stroke-width="0.6"/>
<line x1="358.0" y1="88.12682509756043" x2="359" y2="88.12682509756043" stroke="#000" stroke-width="0.6"/>
<line x1="358.0" y1="87.74318117920507" x2="359" y2="87.74318117920507" stroke="#000" stroke-width="0.6"/>
<line x1="375.60720996964784" y1="98" x2="375.60720996964784" y2="99.0" stroke="#000" stroke-width="0.6"/>
<line x1="376.8398487830376" y1="98" x2="376.8398487830376" y2="99.0" stroke="#000" stroke-width="0.6"/>
<line x1="377.71441993929574" y1="98" x2="377.71441993929574" y2="99.0" stroke="#000" stroke-width="0.6"/>
<line x1="378.39279003035216" y1="98" x2="378.39279003035216" y2="99.0" stroke="#000" stroke-width="0.6"/>
<line x1="378.9470587526855" y1="98" x2="378.9470587526855" y2="99.0" stroke="#000" stroke-width="0.6"/>
<line x1="379.4156862800998" y1="98" x2="379.4156862800998" y2="99.0" stroke="#000" stroke-width="0.6"/>
<line x1="379.8216299089436" y1="98" x2="379.8216299089436" y2="99.0" stroke="#000" stroke-width="0.6"/>
<line x1="380.1796975660753" y1="98" x2="380.1796975660753" y2="99.0" stroke="#000" stroke-width="0.6"/>
<line x1="385.4669949284557" y1="98" x2="385.4669949284557" y2="99.0" stroke="#000" stroke-width="0.6"/>
<line x1="388.37250070287445" y1="98" x2="388.37250070287445" y2="99.0" stroke="#000" stroke-width="0.6"/>
<line x1="390.43398985691135" y1="98" x2="390.43398985691135" y2="99.0" stroke="#000" stroke-width="0.6"/>
<line x1="392.0330050715443" y1="98" x2="392.0330050715443" y2="99.0" stroke="#000" stroke-width="0.6"/>
<line x1="393.3394956313301" y1="98" x2="393.3394956313301" y2="99.0" stroke="#000" stroke-width="0.6"/>
<line x1="394.44411766023524" y1="98" x2="394.44411766023524" y2="99.0" stroke="#000" stroke-width="0.6"/>
<line x1="395.4009847853671" y1="98" x2="395.4009847853671" y2="99.0" stroke="#000" stroke-width="0.6"/>
<line x1="396.24500140574884" y1="98" x2="396.24500140574884" y2="99.0" stroke="#000" stroke-width="0.6"/>
<line x1="401.3950379366941" y1="98" x2="401.3950379366941" y2="99.0" stroke="#000" stroke-width="0.6"/>
<line x1="403.96597031890707" y1="98" x2="403.96597031890707" y2="99.0" stroke="#000" stroke-width="0.6"/>
<line x1="405.7900758733883" y1="98" x2="405.7900758733883" y2="99.0" stroke="#000" stroke-width="0.6"/>
<line x1="407.2049620633059" y1="98" x2="407.2049620633059" y2="99.0" stroke="#000" stroke-width="0.6"/>
<line x1="408.36100825560123" y1="98" x2="408.36100825560123" y2="99.0" stroke="#000" stroke-width="0.6"/>
<line x1="409.33843138420815" y1="98" x2="409.33843138420815" y2="99.0" stroke="#000" stroke-width="0.6"/>
<line x1="410.1851138100824" y1="98" x2="410.1851138100824" y2="99.0" stroke="#000" stroke-width="0.6"/>
<line x1="410.93194063781414" y1="98" x2="410.93194063781414" y2="99.0" stroke="#000" stroke-width="0.6"/>
<line x1="415.78431693972937" y1="98" x2="415.78431693972937" y2="99.0" stroke="#000" stroke-width="0.6"/>
<line x1="418.2319854406033" y1="98" x2="418.2319854406033" y2="99.0" stroke="#000" stroke-width="0.6"/>
<line x1="419.9686338794587" y1="98" x2="419.9686338794587" y2="99.0" stroke="#000" stroke-width="0.6"/>
<line x1="421.31568306027066" y1="98" x2="421.31568306027066" y2="99.0" stroke="#000" stroke-width="0.6"/>
<line x1="422.41630238033264" y1="98" x2="422.41630238033264" y2="99.0" stroke="#000" stroke-width="0.6"/>
<line x1="423.34686275619816" y1="98" x2="423.34686275619816" y2="99.0" stroke="#000" stroke-width="0.6"/>
<line x1="424.152950819188" y1="98" x2="424.152950819188" y2="99.0" stroke="#000" stroke-width="0.6"/>
<line x1="424.8639708812066" y1="98" x2="424.8639708812066" y2="99.0" stroke="#000" stroke-width="0.6"/>
<text x="360.6" y="34.5" font-size="7.0" fill="#c858c8">53.9</text>
<text x="429.8" y="34.5" font-size="7.0" text-anchor="end" fill="#c858c8">0.311</text>
<text x="360.6" y="96.2" font-size="7.0" fill="#c858c8">45.4</text>
<text x="429.8" y="96.2" font-size="7.0" text-anchor="end" fill="#c858c8">0.424</text>
<line x1="483.6" y1="28.2" x2="483.6" y2="98" stroke="#d070d8" stroke-width="0.9"/>
<g filter="url(#bl)"><path d="M446.2,46.0 L446.2,86.0 L447.2,85.5 L451.2,85.5 L453.8,84.5 L458.2,84.5 L458.8,85.5 L457.2,87.0 L456.8,89.5 L456.2,90.0 L455.2,90.0 L454.2,91.0 L454.2,93.5 L455.8,95.0 L461.2,95.5 L461.8,96.0 L466.2,96.0 L466.8,95.5 L467.8,96.0 L474.2,96.0 L474.8,95.5 L479.8,95.5 L480.2,95.0 L481.2,95.0 L482.8,93.0 L482.8,91.5 L481.8,90.5 L482.8,88.0 L482.8,85.5 L479.8,81.5 L479.8,78.5 L481.2,76.5 L481.2,73.5 L483.2,71.0 L483.2,68.0 L482.8,67.5 L483.2,67.0 L483.2,64.0 L481.8,60.0 L481.8,57.0 L480.8,55.0 L480.8,52.5 L479.2,50.0 L479.2,47.5 L478.2,46.5 L475.2,45.0 L470.8,45.0 L470.2,44.5 L467.8,44.5 L467.2,44.0 L466.8,44.5 L461.2,44.5 L460.8,45.0 L456.2,45.0 L454.2,44.0 L452.2,44.0 L451.8,44.5 L450.2,44.5 L448.8,45.5Z" fill="#1020f0" fill-rule="evenodd"/><path d="M481.2,92.0 L480.8,91.0 L478.8,89.5 L479.2,89.0 L479.8,86.5 L478.8,85.5 L478.8,84.0 L478.2,83.5 L477.2,83.5 L476.2,85.0 L470.2,85.0 L469.8,85.5 L466.2,85.5 L465.2,85.0 L464.8,85.5 L460.2,86.0 L458.8,88.0 L459.8,89.5 L457.2,90.5 L456.2,91.5 L455.8,93.0 L456.2,94.0 L457.2,94.5 L458.2,94.5 L458.8,95.0 L461.2,95.0 L461.8,95.5 L475.8,95.5 L476.2,95.0 L478.8,95.0 L480.8,94.0ZM446.2,48.0 L446.2,81.5 L450.2,83.5 L452.8,83.5 L453.2,83.0 L454.8,83.0 L457.2,82.0 L461.8,82.0 L464.8,83.5 L471.8,83.5 L475.2,81.5 L476.2,80.5 L477.2,77.5 L479.2,75.0 L479.2,71.0 L480.8,67.5 L480.8,65.5 L479.8,63.0 L479.8,58.0 L479.2,57.5 L479.2,55.0 L478.8,54.5 L478.8,53.5 L473.8,48.0 L472.8,47.5 L468.8,47.5 L467.2,46.5 L461.2,46.5 L460.8,47.0 L452.2,46.5 L450.2,47.5 L447.8,47.5 L447.2,48.0Z" fill="#0068ff" fill-rule="evenodd"/><path d="M457.2,92.5 L458.2,94.0 L459.2,94.5 L461.2,94.5 L461.8,95.0 L475.8,95.0 L476.2,94.5 L477.8,94.5 L479.8,93.0 L479.8,92.0 L478.8,91.0 L475.8,90.5 L475.2,90.0 L461.8,90.0 L461.2,90.5 L458.2,91.0ZM475.8,53.0 L472.8,50.5 L470.8,49.5 L468.8,49.5 L468.2,49.0 L462.8,49.5 L459.2,51.0 L450.2,51.5 L446.8,53.0 L446.2,53.5 L446.2,77.5 L448.2,79.0 L449.2,79.0 L449.8,79.5 L452.2,79.5 L452.8,80.0 L459.8,80.0 L460.2,80.5 L461.8,80.5 L464.2,81.5 L469.2,81.5 L469.8,81.0 L472.2,80.5 L474.8,79.0 L476.8,76.0 L476.8,74.0 L477.2,73.5 L477.8,69.0 L478.2,68.5 L478.2,59.5 L477.8,59.0 L477.2,55.5Z" fill="#00c0ff" fill-rule="evenodd"/><path d="M458.8,92.5 L458.8,93.0 L460.2,94.0 L461.2,94.0 L461.8,94.5 L464.2,94.5 L464.8,95.0 L473.2,95.0 L473.8,94.5 L476.2,94.5 L478.8,93.0 L478.8,92.5 L476.8,91.0 L475.8,91.0 L475.2,90.5 L471.8,90.5 L471.2,90.0 L462.2,90.5 L461.8,91.0 L460.2,91.0ZM469.8,51.0 L468.8,51.5 L464.2,51.5 L459.2,54.0 L456.8,57.0 L455.8,59.0 L455.2,62.5 L454.8,63.0 L455.2,70.0 L457.8,75.0 L460.8,77.5 L465.8,79.5 L467.2,79.5 L467.8,80.0 L470.8,80.0 L471.2,79.5 L472.2,79.5 L474.2,78.5 L475.8,76.5 L475.8,70.5 L476.2,70.0 L476.2,66.5 L476.8,66.0 L476.8,64.0 L477.2,63.5 L477.2,57.5 L476.2,55.0 L473.2,52.0 L472.2,51.5 L470.2,51.5Z" fill="#40f0c0" fill-rule="evenodd"/><path d="M460.2,92.5 L460.8,93.5 L463.8,94.0 L464.2,94.5 L473.8,94.5 L474.2,94.0 L475.8,94.0 L477.2,93.0 L477.2,92.0 L475.2,91.0 L472.8,91.0 L472.2,90.5 L465.8,90.5 L465.2,91.0 L462.8,91.0 L462.2,91.5 L461.2,91.5ZM468.2,52.5 L464.8,54.5 L460.8,58.5 L459.2,62.5 L459.2,67.5 L461.2,72.5 L463.2,74.5 L464.8,77.5 L467.2,79.0 L471.8,79.0 L474.8,76.5 L474.8,75.5 L475.2,75.0 L474.8,72.5 L473.2,69.5 L474.8,66.0 L475.8,65.0 L476.2,62.0 L476.8,61.5 L476.8,59.0 L475.2,55.0 L473.2,53.0 L472.2,53.0 L471.8,52.5Z" fill="#90ff40" fill-rule="evenodd"/><path d="M462.2,92.0 L462.2,93.0 L464.2,94.0 L473.8,94.0 L475.8,93.0 L475.2,92.0 L472.8,91.5 L472.2,91.0 L465.8,91.0 L465.2,91.5 L463.2,91.5ZM467.2,70.5 L465.2,72.5 L465.2,73.5 L464.8,74.0 L465.2,76.0 L467.8,78.0 L471.8,78.0 L473.8,76.0 L473.8,73.0 L470.8,70.5ZM469.2,53.5 L468.8,54.0 L467.8,54.0 L465.2,56.5 L464.8,59.0 L464.2,59.5 L464.2,62.5 L465.8,66.0 L467.8,67.5 L471.2,67.5 L474.2,65.0 L475.8,61.5 L475.8,58.5 L474.8,56.0 L472.8,54.0Z" fill="#f0f000" fill-rule="evenodd"/><path d="M464.2,92.5 L464.2,93.0 L465.2,93.5 L472.8,93.5 L473.8,93.0 L473.2,92.0 L472.2,92.0 L471.8,91.5 L466.2,91.5ZM466.8,74.0 L467.2,76.0 L469.2,77.0 L470.2,77.0 L472.2,75.5 L472.2,74.0 L471.8,73.0 L470.8,72.5 L468.2,72.5ZM469.2,55.0 L468.2,55.5 L466.2,58.0 L466.2,62.5 L468.2,65.0 L469.2,65.5 L471.2,65.5 L473.2,64.0 L474.2,62.0 L474.2,58.0 L472.2,55.5 L471.2,55.0Z" fill="#ff8c00" fill-rule="evenodd"/><path d="M466.2,92.5 L466.2,93.0 L471.8,93.0 L471.8,92.5 L470.8,92.0 L467.2,92.0ZM471.2,57.0 L469.2,57.0 L467.8,59.0 L467.8,61.5 L470.2,63.5 L470.8,63.0 L471.8,63.0 L472.8,61.5 L472.8,58.5Z" fill="#f01800" fill-rule="evenodd"/></g>
<line x1="445.5" y1="70.4" x2="517" y2="70.4" stroke="#d070d8" stroke-width="0.9"/>
<line x1="445.5" y1="28.2" x2="517" y2="28.2" stroke="#555" stroke-width="1.0"/>
<line x1="517" y1="28.2" x2="517" y2="98" stroke="#555" stroke-width="1.0"/>
<line x1="445.5" y1="28.2" x2="445.5" y2="98" stroke="#000" stroke-width="1.1"/>
<line x1="445.5" y1="98" x2="517" y2="98" stroke="#000" stroke-width="1.1"/>
<line x1="443.7" y1="30.599999999999998" x2="445.5" y2="30.599999999999998" stroke="#000" stroke-width="0.9"/>
<text x="443.3" y="32.199999999999996" font-size="5.0" text-anchor="end" fill="#333">10<tspan font-size="3.50" dy="-2.25">6</tspan></text>
<line x1="443.7" y1="44.5" x2="445.5" y2="44.5" stroke="#000" stroke-width="0.9"/>
<text x="443.3" y="46.1" font-size="5.0" text-anchor="end" fill="#333">10<tspan font-size="3.50" dy="-2.25">5</tspan></text>
<line x1="443.7" y1="59.0" x2="445.5" y2="59.0" stroke="#000" stroke-width="0.9"/>
<text x="443.3" y="60.6" font-size="5.0" text-anchor="end" fill="#333">10<tspan font-size="3.50" dy="-2.25">4</tspan></text>
<line x1="443.7" y1="72.9" x2="445.5" y2="72.9" stroke="#000" stroke-width="0.9"/>
<text x="443.3" y="74.5" font-size="5.0" text-anchor="end" fill="#333">10<tspan font-size="3.50" dy="-2.25">3</tspan></text>
<line x1="443.7" y1="87.4" x2="445.5" y2="87.4" stroke="#000" stroke-width="0.9"/>
<text x="443.3" y="89.0" font-size="5.0" text-anchor="end" fill="#333">10<tspan font-size="3.50" dy="-2.25">2</tspan></text>
<line x1="443.7" y1="94.9" x2="445.5" y2="94.9" stroke="#000" stroke-width="0.9"/>
<text x="443.3" y="96.5" font-size="5.0" text-anchor="end" fill="#333">0</text>
<line x1="460.0" y1="98" x2="460.0" y2="99.8" stroke="#000" stroke-width="0.9"/>
<text x="460.0" y="105.2" font-size="5.0" text-anchor="middle" fill="#333">0</text>
<line x1="467.0" y1="98" x2="467.0" y2="99.8" stroke="#000" stroke-width="0.9"/>
<text x="468.5" y="105.2" font-size="5.0" text-anchor="middle" fill="#333">10<tspan font-size="3.50" dy="-2.25">3</tspan></text>
<line x1="483.5" y1="98" x2="483.5" y2="99.8" stroke="#000" stroke-width="0.9"/>
<text x="485.0" y="105.2" font-size="5.0" text-anchor="middle" fill="#333">10<tspan font-size="3.50" dy="-2.25">4</tspan></text>
<line x1="498.1" y1="98" x2="498.1" y2="99.8" stroke="#000" stroke-width="0.9"/>
<text x="499.6" y="105.2" font-size="5.0" text-anchor="middle" fill="#333">10<tspan font-size="3.50" dy="-2.25">5</tspan></text>
<line x1="512.0" y1="98" x2="512.0" y2="99.8" stroke="#000" stroke-width="0.9"/>
<text x="513.5" y="105.2" font-size="5.0" text-anchor="middle" fill="#333">10<tspan font-size="3.50" dy="-2.25">6</tspan></text>
<line x1="444.5" y1="40.31568306027066" x2="445.5" y2="40.31568306027066" stroke="#000" stroke-width="0.6"/>
<line x1="444.5" y1="37.86801455939669" x2="445.5" y2="37.86801455939669" stroke="#000" stroke-width="0.6"/>
<line x1="444.5" y1="36.13136612054132" x2="445.5" y2="36.13136612054132" stroke="#000" stroke-width="0.6"/>
<line x1="444.5" y1="34.78431693972934" x2="445.5" y2="34.78431693972934" stroke="#000" stroke-width="0.6"/>
<line x1="444.5" y1="33.683697619667356" x2="445.5" y2="33.683697619667356" stroke="#000" stroke-width="0.6"/>
<line x1="444.5" y1="32.75313724380183" x2="445.5" y2="32.75313724380183" stroke="#000" stroke-width="0.6"/>
<line x1="444.5" y1="31.94704918081198" x2="445.5" y2="31.94704918081198" stroke="#000" stroke-width="0.6"/>
<line x1="444.5" y1="31.236029118793383" x2="445.5" y2="31.236029118793383" stroke="#000" stroke-width="0.6"/>
<line x1="444.5" y1="54.63506506287227" x2="445.5" y2="54.63506506287227" stroke="#000" stroke-width="0.6"/>
<line x1="444.5" y1="52.08174180656489" x2="445.5" y2="52.08174180656489" stroke="#000" stroke-width="0.6"/>
<line x1="444.5" y1="50.270130125744544" x2="445.5" y2="50.270130125744544" stroke="#000" stroke-width="0.6"/>
<line x1="444.5" y1="48.86493493712773" x2="445.5" y2="48.86493493712773" stroke="#000" stroke-width="0.6"/>
<line x1="444.5" y1="47.716806869437164" x2="445.5" y2="47.716806869437164" stroke="#000" stroke-width="0.6"/>
<line x1="444.5" y1="46.74607841979328" x2="445.5" y2="46.74607841979328" stroke="#000" stroke-width="0.6"/>
<line x1="444.5" y1="45.905195188616815" x2="445.5" y2="45.905195188616815" stroke="#000" stroke-width="0.6"/>
<line x1="444.5" y1="45.16348361312979" x2="445.5" y2="45.16348361312979" stroke="#000" stroke-width="0.6"/>
<line x1="444.5" y1="68.71568306027066" x2="445.5" y2="68.71568306027066" stroke="#000" stroke-width="0.6"/>
<line x1="444.5" y1="66.26801455939669" x2="445.5" y2="66.26801455939669" stroke="#000" stroke-width="0.6"/>
<line x1="444.5" y1="64.53136612054132" x2="445.5" y2="64.53136612054132" stroke="#000" stroke-width="0.6"/>
<line x1="444.5" y1="63.18431693972934" x2="445.5" y2="63.18431693972934" stroke="#000" stroke-width="0.6"/>
<line x1="444.5" y1="62.083697619667355" x2="445.5" y2="62.083697619667355" stroke="#000" stroke-width="0.6"/>
<line x1="444.5" y1="61.15313724380183" x2="445.5" y2="61.15313724380183" stroke="#000" stroke-width="0.6"/>
<line x1="444.5" y1="60.347049180811986" x2="445.5" y2="60.347049180811986" stroke="#000" stroke-width="0.6"/>
<line x1="444.5" y1="59.63602911879339" x2="445.5" y2="59.63602911879339" stroke="#000" stroke-width="0.6"/>
<line x1="444.5" y1="83.03506506287228" x2="445.5" y2="83.03506506287228" stroke="#000" stroke-width="0.6"/>
<line x1="444.5" y1="80.4817418065649" x2="445.5" y2="80.4817418065649" stroke="#000" stroke-width="0.6"/>
<line x1="444.5" y1="78.67013012574455" x2="445.5" y2="78.67013012574455" stroke="#000" stroke-width="0.6"/>
<line x1="444.5" y1="77.26493493712773" x2="445.5" y2="77.26493493712773" stroke="#000" stroke-width="0.6"/>
<line x1="444.5" y1="76.11680686943717" x2="445.5" y2="76.11680686943717" stroke="#000" stroke-width="0.6"/>
<line x1="444.5" y1="75.14607841979328" x2="445.5" y2="75.14607841979328" stroke="#000" stroke-width="0.6"/>
<line x1="444.5" y1="74.30519518861682" x2="445.5" y2="74.30519518861682" stroke="#000" stroke-width="0.6"/>
<line x1="444.5" y1="73.56348361312979" x2="445.5" y2="73.56348361312979" stroke="#000" stroke-width="0.6"/>
<line x1="444.5" y1="92.64227503252015" x2="445.5" y2="92.64227503252015" stroke="#000" stroke-width="0.6"/>
<line x1="444.5" y1="91.32159058960254" x2="445.5" y2="91.32159058960254" stroke="#000" stroke-width="0.6"/>
<line x1="444.5" y1="90.38455006504029" x2="445.5" y2="90.38455006504029" stroke="#000" stroke-width="0.6"/>
<line x1="444.5" y1="89.65772496747987" x2="445.5" y2="89.65772496747987" stroke="#000" stroke-width="0.6"/>
<line x1="444.5" y1="89.06386562212268" x2="445.5" y2="89.06386562212268" stroke="#000" stroke-width="0.6"/>
<line x1="444.5" y1="88.56176469989308" x2="445.5" y2="88.56176469989308" stroke="#000" stroke-width="0.6"/>
<line x1="444.5" y1="88.12682509756043" x2="445.5" y2="88.12682509756043" stroke="#000" stroke-width="0.6"/>
<line x1="444.5" y1="87.74318117920507" x2="445.5" y2="87.74318117920507" stroke="#000" stroke-width="0.6"/>
<line x1="462.10720996964784" y1="98" x2="462.10720996964784" y2="99.0" stroke="#000" stroke-width="0.6"/>
<line x1="463.3398487830376" y1="98" x2="463.3398487830376" y2="99.0" stroke="#000" stroke-width="0.6"/>
<line x1="464.21441993929574" y1="98" x2="464.21441993929574" y2="99.0" stroke="#000" stroke-width="0.6"/>
<line x1="464.89279003035216" y1="98" x2="464.89279003035216" y2="99.0" stroke="#000" stroke-width="0.6"/>
<line x1="465.4470587526855" y1="98" x2="465.4470587526855" y2="99.0" stroke="#000" stroke-width="0.6"/>
<line x1="465.9156862800998" y1="98" x2="465.9156862800998" y2="99.0" stroke="#000" stroke-width="0.6"/>
<line x1="466.3216299089436" y1="98" x2="466.3216299089436" y2="99.0" stroke="#000" stroke-width="0.6"/>
<line x1="466.6796975660753" y1="98" x2="466.6796975660753" y2="99.0" stroke="#000" stroke-width="0.6"/>
<line x1="471.9669949284557" y1="98" x2="471.9669949284557" y2="99.0" stroke="#000" stroke-width="0.6"/>
<line x1="474.87250070287445" y1="98" x2="474.87250070287445" y2="99.0" stroke="#000" stroke-width="0.6"/>
<line x1="476.93398985691135" y1="98" x2="476.93398985691135" y2="99.0" stroke="#000" stroke-width="0.6"/>
<line x1="478.5330050715443" y1="98" x2="478.5330050715443" y2="99.0" stroke="#000" stroke-width="0.6"/>
<line x1="479.8394956313301" y1="98" x2="479.8394956313301" y2="99.0" stroke="#000" stroke-width="0.6"/>
<line x1="480.94411766023524" y1="98" x2="480.94411766023524" y2="99.0" stroke="#000" stroke-width="0.6"/>
<line x1="481.9009847853671" y1="98" x2="481.9009847853671" y2="99.0" stroke="#000" stroke-width="0.6"/>
<line x1="482.74500140574884" y1="98" x2="482.74500140574884" y2="99.0" stroke="#000" stroke-width="0.6"/>
<line x1="487.8950379366941" y1="98" x2="487.8950379366941" y2="99.0" stroke="#000" stroke-width="0.6"/>
<line x1="490.46597031890707" y1="98" x2="490.46597031890707" y2="99.0" stroke="#000" stroke-width="0.6"/>
<line x1="492.2900758733883" y1="98" x2="492.2900758733883" y2="99.0" stroke="#000" stroke-width="0.6"/>
<line x1="493.7049620633059" y1="98" x2="493.7049620633059" y2="99.0" stroke="#000" stroke-width="0.6"/>
<line x1="494.86100825560123" y1="98" x2="494.86100825560123" y2="99.0" stroke="#000" stroke-width="0.6"/>
<line x1="495.83843138420815" y1="98" x2="495.83843138420815" y2="99.0" stroke="#000" stroke-width="0.6"/>
<line x1="496.6851138100824" y1="98" x2="496.6851138100824" y2="99.0" stroke="#000" stroke-width="0.6"/>
<line x1="497.43194063781414" y1="98" x2="497.43194063781414" y2="99.0" stroke="#000" stroke-width="0.6"/>
<line x1="502.28431693972937" y1="98" x2="502.28431693972937" y2="99.0" stroke="#000" stroke-width="0.6"/>
<line x1="504.7319854406033" y1="98" x2="504.7319854406033" y2="99.0" stroke="#000" stroke-width="0.6"/>
<line x1="506.4686338794587" y1="98" x2="506.4686338794587" y2="99.0" stroke="#000" stroke-width="0.6"/>
<line x1="507.81568306027066" y1="98" x2="507.81568306027066" y2="99.0" stroke="#000" stroke-width="0.6"/>
<line x1="508.91630238033264" y1="98" x2="508.91630238033264" y2="99.0" stroke="#000" stroke-width="0.6"/>
<line x1="509.84686275619816" y1="98" x2="509.84686275619816" y2="99.0" stroke="#000" stroke-width="0.6"/>
<line x1="510.652950819188" y1="98" x2="510.652950819188" y2="99.0" stroke="#000" stroke-width="0.6"/>
<line x1="511.3639708812066" y1="98" x2="511.3639708812066" y2="99.0" stroke="#000" stroke-width="0.6"/>
<text x="447.1" y="34.5" font-size="7.0" fill="#c858c8">52.4</text>
<text x="515.8" y="34.5" font-size="7.0" text-anchor="end" fill="#c858c8">0.305</text>
<text x="447.1" y="96.2" font-size="7.0" fill="#c858c8">47</text>
<text x="515.8" y="96.2" font-size="7.0" text-anchor="end" fill="#c858c8">0.325</text>
<line x1="397" y1="111.3" x2="397" y2="181" stroke="#d070d8" stroke-width="0.9"/>
<g filter="url(#bl)"><path d="M401.8,179.6 L401.8,180.1 L403.8,180.1 L403.2,179.1 L402.2,179.1ZM403.8,172.1 L402.8,173.6 L403.2,175.1 L405.8,175.1 L406.2,174.6 L406.2,172.6 L405.8,172.1ZM414.2,143.1 L413.2,142.1 L411.8,142.1 L408.8,140.6 L407.2,140.6 L405.8,141.6 L403.2,142.1 L402.8,141.6 L400.2,141.1 L395.2,137.6 L393.2,137.6 L392.8,138.1 L389.2,137.6 L385.8,140.6 L382.8,142.1 L380.2,142.1 L378.2,144.1 L377.2,144.1 L375.8,143.1 L374.2,143.1 L373.2,145.1 L370.8,147.6 L369.8,150.1 L368.2,152.1 L363.2,152.6 L361.8,153.6 L360.8,153.6 L359.8,154.6 L359.8,162.6 L363.8,164.6 L366.8,165.1 L367.2,164.6 L369.8,164.6 L370.2,164.1 L371.2,164.1 L373.2,161.6 L375.2,161.6 L379.2,163.6 L380.2,164.6 L383.8,164.6 L386.2,166.1 L392.2,166.6 L393.2,167.6 L393.8,169.1 L394.2,169.1 L396.2,171.1 L395.2,172.6 L389.2,169.6 L385.2,169.6 L384.8,170.1 L380.8,170.1 L380.2,170.6 L378.2,170.6 L377.8,171.1 L374.8,171.1 L374.2,171.6 L372.8,171.6 L371.2,172.6 L370.8,173.6 L371.2,174.1 L371.2,177.6 L372.8,178.6 L375.8,179.1 L376.2,179.6 L378.8,179.6 L379.8,179.1 L380.2,179.6 L389.8,180.1 L393.2,178.6 L395.2,179.1 L396.2,178.6 L399.2,175.1 L399.2,173.1 L397.8,171.6 L398.2,171.1 L398.2,167.1 L397.8,166.1 L399.8,163.6 L401.8,163.6 L402.8,164.6 L404.2,165.1 L406.2,163.6 L412.2,160.6 L415.2,160.6 L418.2,158.6 L418.8,156.6 L418.2,155.6 L415.2,153.1 L415.2,152.1 L414.2,150.1 L415.2,147.6 L415.2,145.1Z" fill="#1020f0" fill-rule="evenodd"/><path d="M373.8,173.6 L374.2,176.6 L375.8,178.1 L376.8,178.1 L377.2,178.6 L384.8,179.1 L385.2,179.6 L389.8,179.6 L393.8,177.6 L394.8,177.6 L395.8,176.1 L395.8,175.1 L392.2,172.1 L389.8,171.1 L380.8,171.1 L380.2,171.6 L375.8,172.1ZM361.2,156.6 L361.2,157.6 L363.8,159.6 L364.8,162.1 L366.2,162.1 L366.8,161.6 L370.8,161.6 L372.2,159.6 L374.2,159.6 L381.2,163.1 L390.8,163.1 L391.2,163.6 L396.2,163.6 L399.8,162.1 L405.2,162.6 L407.2,161.6 L408.8,161.6 L412.8,159.6 L413.8,157.6 L413.8,155.1 L411.2,148.6 L408.8,148.1 L407.2,146.6 L407.2,145.6 L406.2,144.6 L404.2,145.1 L399.2,142.6 L394.2,143.1 L393.8,143.6 L391.2,143.6 L390.8,144.1 L389.8,144.1 L387.8,142.6 L386.2,142.6 L383.8,145.1 L382.8,145.1 L380.8,147.6 L378.8,148.6 L377.8,148.6 L374.8,150.6 L372.2,153.6 L371.2,153.6 L370.8,154.1 L364.8,154.1 L362.2,155.1Z" fill="#0068ff" fill-rule="evenodd"/><path d="M376.2,174.6 L376.2,176.1 L378.2,177.6 L382.2,178.1 L382.8,178.6 L386.8,179.1 L387.2,179.6 L391.8,178.6 L393.8,176.1 L393.2,174.6 L392.2,173.6 L390.2,172.6 L386.8,172.6 L386.2,172.1 L379.2,172.6ZM373.8,156.1 L373.8,157.1 L374.8,158.1 L378.2,159.6 L380.2,161.1 L381.2,161.1 L383.2,162.1 L393.8,162.1 L394.2,161.6 L396.8,161.6 L397.2,161.1 L405.8,161.1 L406.2,160.6 L410.2,160.1 L411.2,159.6 L412.2,158.1 L412.2,155.1 L411.2,153.6 L411.2,152.6 L408.8,149.6 L406.8,148.6 L399.2,148.6 L397.2,147.6 L394.8,147.6 L394.2,147.1 L385.8,147.1 L385.2,147.6 L381.8,148.1 L377.8,150.1 L375.8,152.1 L375.2,154.1Z" fill="#00c0ff" fill-rule="evenodd"/><path d="M379.8,174.6 L379.8,176.1 L382.2,177.6 L383.2,177.6 L384.8,178.6 L388.2,179.1 L388.8,178.6 L390.2,178.6 L392.2,177.1 L392.2,175.6 L390.8,174.1 L389.8,174.1 L389.2,173.6 L381.8,173.6ZM377.2,154.1 L377.2,156.1 L378.8,158.6 L381.2,160.6 L382.2,160.6 L382.8,161.1 L391.8,161.1 L392.2,160.6 L394.8,160.6 L397.2,159.6 L398.2,159.6 L398.8,160.1 L404.2,160.1 L406.8,159.1 L410.2,159.1 L411.2,158.1 L411.2,156.1 L409.8,153.1 L407.2,150.6 L406.2,150.6 L405.8,150.1 L398.2,150.1 L397.8,149.6 L396.2,149.6 L393.8,148.6 L385.8,148.6 L385.2,149.1 L383.8,149.1 L380.2,150.6Z" fill="#40f0c0" fill-rule="evenodd"/><path d="M383.8,175.6 L383.8,176.6 L385.8,178.1 L389.8,178.1 L390.8,177.1 L390.8,175.6 L389.2,174.6 L385.2,174.6ZM379.8,155.1 L379.8,157.1 L380.8,159.1 L382.2,160.1 L383.8,160.1 L384.2,160.6 L391.8,160.1 L396.8,157.6 L399.8,159.1 L403.2,159.1 L407.2,156.6 L408.2,156.6 L406.8,153.6 L404.8,152.1 L403.8,152.1 L403.2,151.6 L396.2,152.1 L394.8,151.1 L390.8,150.6 L390.2,150.1 L387.8,150.1 L387.2,150.6 L383.8,151.1 L382.8,151.6Z" fill="#90ff40" fill-rule="evenodd"/><path d="M386.2,176.1 L386.2,177.1 L387.2,177.6 L389.2,177.1 L389.2,176.1 L388.2,175.6 L386.8,175.6ZM400.8,155.6 L400.2,156.6 L401.8,157.6 L402.2,157.1 L402.2,155.6ZM381.2,155.1 L381.2,158.1 L383.2,159.6 L390.2,159.6 L390.8,159.1 L393.2,158.6 L395.2,156.6 L395.2,154.1 L393.8,152.6 L391.8,151.6 L385.8,151.6 L383.8,152.6Z" fill="#f0f000" fill-rule="evenodd"/><path d="M382.2,157.6 L384.2,159.1 L389.8,158.6 L392.2,157.6 L393.2,156.6 L393.2,154.6 L390.8,152.6 L386.8,152.6 L386.2,153.1 L385.2,153.1 L382.8,155.1Z" fill="#ff8c00" fill-rule="evenodd"/><path d="M383.2,157.1 L384.2,158.1 L386.8,158.1 L390.8,156.6 L391.2,155.1 L390.2,154.1 L386.8,154.1 L386.2,154.6 L385.2,154.6 L383.2,156.6Z" fill="#f01800" fill-rule="evenodd"/></g>
<line x1="359" y1="167.3" x2="431" y2="167.3" stroke="#d070d8" stroke-width="0.9"/>
<line x1="359" y1="111.3" x2="431" y2="111.3" stroke="#555" stroke-width="1.0"/>
<line x1="431" y1="111.3" x2="431" y2="181" stroke="#555" stroke-width="1.0"/>
<line x1="359" y1="111.3" x2="359" y2="181" stroke="#000" stroke-width="1.1"/>
<line x1="359" y1="181" x2="431" y2="181" stroke="#000" stroke-width="1.1"/>
<line x1="357.2" y1="113.7" x2="359" y2="113.7" stroke="#000" stroke-width="0.9"/>
<text x="356.8" y="115.3" font-size="5.0" text-anchor="end" fill="#333">10<tspan font-size="3.50" dy="-2.25">6</tspan></text>
<line x1="357.2" y1="127.6" x2="359" y2="127.6" stroke="#000" stroke-width="0.9"/>
<text x="356.8" y="129.2" font-size="5.0" text-anchor="end" fill="#333">10<tspan font-size="3.50" dy="-2.25">5</tspan></text>
<line x1="357.2" y1="142.1" x2="359" y2="142.1" stroke="#000" stroke-width="0.9"/>
<text x="356.8" y="143.7" font-size="5.0" text-anchor="end" fill="#333">10<tspan font-size="3.50" dy="-2.25">4</tspan></text>
<line x1="357.2" y1="156.0" x2="359" y2="156.0" stroke="#000" stroke-width="0.9"/>
<text x="356.8" y="157.6" font-size="5.0" text-anchor="end" fill="#333">10<tspan font-size="3.50" dy="-2.25">3</tspan></text>
<line x1="357.2" y1="170.5" x2="359" y2="170.5" stroke="#000" stroke-width="0.9"/>
<text x="356.8" y="172.1" font-size="5.0" text-anchor="end" fill="#333">10<tspan font-size="3.50" dy="-2.25">2</tspan></text>
<line x1="357.2" y1="178.0" x2="359" y2="178.0" stroke="#000" stroke-width="0.9"/>
<text x="356.8" y="179.6" font-size="5.0" text-anchor="end" fill="#333">0</text>
<line x1="373.5" y1="181" x2="373.5" y2="182.8" stroke="#000" stroke-width="0.9"/>
<text x="373.5" y="188.2" font-size="5.0" text-anchor="middle" fill="#333">0</text>
<line x1="380.5" y1="181" x2="380.5" y2="182.8" stroke="#000" stroke-width="0.9"/>
<text x="382.0" y="188.2" font-size="5.0" text-anchor="middle" fill="#333">10<tspan font-size="3.50" dy="-2.25">3</tspan></text>
<line x1="397" y1="181" x2="397" y2="182.8" stroke="#000" stroke-width="0.9"/>
<text x="398.5" y="188.2" font-size="5.0" text-anchor="middle" fill="#333">10<tspan font-size="3.50" dy="-2.25">4</tspan></text>
<line x1="411.6" y1="181" x2="411.6" y2="182.8" stroke="#000" stroke-width="0.9"/>
<text x="413.1" y="188.2" font-size="5.0" text-anchor="middle" fill="#333">10<tspan font-size="3.50" dy="-2.25">5</tspan></text>
<line x1="425.5" y1="181" x2="425.5" y2="182.8" stroke="#000" stroke-width="0.9"/>
<text x="427.0" y="188.2" font-size="5.0" text-anchor="middle" fill="#333">10<tspan font-size="3.50" dy="-2.25">6</tspan></text>
<line x1="358.0" y1="123.41568306027065" x2="359" y2="123.41568306027065" stroke="#000" stroke-width="0.6"/>
<line x1="358.0" y1="120.96801455939669" x2="359" y2="120.96801455939669" stroke="#000" stroke-width="0.6"/>
<line x1="358.0" y1="119.23136612054132" x2="359" y2="119.23136612054132" stroke="#000" stroke-width="0.6"/>
<line x1="358.0" y1="117.88431693972933" x2="359" y2="117.88431693972933" stroke="#000" stroke-width="0.6"/>
<line x1="358.0" y1="116.78369761966735" x2="359" y2="116.78369761966735" stroke="#000" stroke-width="0.6"/>
<line x1="358.0" y1="115.85313724380183" x2="359" y2="115.85313724380183" stroke="#000" stroke-width="0.6"/>
<line x1="358.0" y1="115.04704918081198" x2="359" y2="115.04704918081198" stroke="#000" stroke-width="0.6"/>
<line x1="358.0" y1="114.33602911879339" x2="359" y2="114.33602911879339" stroke="#000" stroke-width="0.6"/>
<line x1="358.0" y1="137.73506506287228" x2="359" y2="137.73506506287228" stroke="#000" stroke-width="0.6"/>
<line x1="358.0" y1="135.1817418065649" x2="359" y2="135.1817418065649" stroke="#000" stroke-width="0.6"/>
<line x1="358.0" y1="133.37013012574454" x2="359" y2="133.37013012574454" stroke="#000" stroke-width="0.6"/>
<line x1="358.0" y1="131.9649349371277" x2="359" y2="131.9649349371277" stroke="#000" stroke-width="0.6"/>
<line x1="358.0" y1="130.81680686943716" x2="359" y2="130.81680686943716" stroke="#000" stroke-width="0.6"/>
<line x1="358.0" y1="129.84607841979326" x2="359" y2="129.84607841979326" stroke="#000" stroke-width="0.6"/>
<line x1="358.0" y1="129.00519518861682" x2="359" y2="129.00519518861682" stroke="#000" stroke-width="0.6"/>
<line x1="358.0" y1="128.26348361312978" x2="359" y2="128.26348361312978" stroke="#000" stroke-width="0.6"/>
<line x1="358.0" y1="151.81568306027066" x2="359" y2="151.81568306027066" stroke="#000" stroke-width="0.6"/>
<line x1="358.0" y1="149.3680145593967" x2="359" y2="149.3680145593967" stroke="#000" stroke-width="0.6"/>
<line x1="358.0" y1="147.63136612054132" x2="359" y2="147.63136612054132" stroke="#000" stroke-width="0.6"/>
<line x1="358.0" y1="146.28431693972934" x2="359" y2="146.28431693972934" stroke="#000" stroke-width="0.6"/>
<line x1="358.0" y1="145.18369761966736" x2="359" y2="145.18369761966736" stroke="#000" stroke-width="0.6"/>
<line x1="358.0" y1="144.25313724380183" x2="359" y2="144.25313724380183" stroke="#000" stroke-width="0.6"/>
<line x1="358.0" y1="143.44704918081197" x2="359" y2="143.44704918081197" stroke="#000" stroke-width="0.6"/>
<line x1="358.0" y1="142.73602911879337" x2="359" y2="142.73602911879337" stroke="#000" stroke-width="0.6"/>
<line x1="358.0" y1="166.1350650628723" x2="359" y2="166.1350650628723" stroke="#000" stroke-width="0.6"/>
<line x1="358.0" y1="163.5817418065649" x2="359" y2="163.5817418065649" stroke="#000" stroke-width="0.6"/>
<line x1="358.0" y1="161.77013012574454" x2="359" y2="161.77013012574454" stroke="#000" stroke-width="0.6"/>
<line x1="358.0" y1="160.3649349371277" x2="359" y2="160.3649349371277" stroke="#000" stroke-width="0.6"/>
<line x1="358.0" y1="159.21680686943716" x2="359" y2="159.21680686943716" stroke="#000" stroke-width="0.6"/>
<line x1="358.0" y1="158.24607841979326" x2="359" y2="158.24607841979326" stroke="#000" stroke-width="0.6"/>
<line x1="358.0" y1="157.40519518861683" x2="359" y2="157.40519518861683" stroke="#000" stroke-width="0.6"/>
<line x1="358.0" y1="156.66348361312978" x2="359" y2="156.66348361312978" stroke="#000" stroke-width="0.6"/>
<line x1="358.0" y1="175.74227503252015" x2="359" y2="175.74227503252015" stroke="#000" stroke-width="0.6"/>
<line x1="358.0" y1="174.42159058960254" x2="359" y2="174.42159058960254" stroke="#000" stroke-width="0.6"/>
<line x1="358.0" y1="173.48455006504028" x2="359" y2="173.48455006504028" stroke="#000" stroke-width="0.6"/>
<line x1="358.0" y1="172.75772496747985" x2="359" y2="172.75772496747985" stroke="#000" stroke-width="0.6"/>
<line x1="358.0" y1="172.16386562212267" x2="359" y2="172.16386562212267" stroke="#000" stroke-width="0.6"/>
<line x1="358.0" y1="171.66176469989307" x2="359" y2="171.66176469989307" stroke="#000" stroke-width="0.6"/>
<line x1="358.0" y1="171.22682509756044" x2="359" y2="171.22682509756044" stroke="#000" stroke-width="0.6"/>
<line x1="358.0" y1="170.84318117920506" x2="359" y2="170.84318117920506" stroke="#000" stroke-width="0.6"/>
<line x1="375.60720996964784" y1="181" x2="375.60720996964784" y2="182.0" stroke="#000" stroke-width="0.6"/>
<line x1="376.8398487830376" y1="181" x2="376.8398487830376" y2="182.0" stroke="#000" stroke-width="0.6"/>
<line x1="377.71441993929574" y1="181" x2="377.71441993929574" y2="182.0" stroke="#000" stroke-width="0.6"/>
<line x1="378.39279003035216" y1="181" x2="378.39279003035216" y2="182.0" stroke="#000" stroke-width="0.6"/>
<line x1="378.9470587526855" y1="181" x2="378.9470587526855" y2="182.0" stroke="#000" stroke-width="0.6"/>
<line x1="379.4156862800998" y1="181" x2="379.4156862800998" y2="182.0" stroke="#000" stroke-width="0.6"/>
<line x1="379.8216299089436" y1="181" x2="379.8216299089436" y2="182.0" stroke="#000" stroke-width="0.6"/>
<line x1="380.1796975660753" y1="181" x2="380.1796975660753" y2="182.0" stroke="#000" stroke-width="0.6"/>
<line x1="385.4669949284557" y1="181" x2="385.4669949284557" y2="182.0" stroke="#000" stroke-width="0.6"/>
<line x1="388.37250070287445" y1="181" x2="388.37250070287445" y2="182.0" stroke="#000" stroke-width="0.6"/>
<line x1="390.43398985691135" y1="181" x2="390.43398985691135" y2="182.0" stroke="#000" stroke-width="0.6"/>
<line x1="392.0330050715443" y1="181" x2="392.0330050715443" y2="182.0" stroke="#000" stroke-width="0.6"/>
<line x1="393.3394956313301" y1="181" x2="393.3394956313301" y2="182.0" stroke="#000" stroke-width="0.6"/>
<line x1="394.44411766023524" y1="181" x2="394.44411766023524" y2="182.0" stroke="#000" stroke-width="0.6"/>
<line x1="395.4009847853671" y1="181" x2="395.4009847853671" y2="182.0" stroke="#000" stroke-width="0.6"/>
<line x1="396.24500140574884" y1="181" x2="396.24500140574884" y2="182.0" stroke="#000" stroke-width="0.6"/>
<line x1="401.3950379366941" y1="181" x2="401.3950379366941" y2="182.0" stroke="#000" stroke-width="0.6"/>
<line x1="403.96597031890707" y1="181" x2="403.96597031890707" y2="182.0" stroke="#000" stroke-width="0.6"/>
<line x1="405.7900758733883" y1="181" x2="405.7900758733883" y2="182.0" stroke="#000" stroke-width="0.6"/>
<line x1="407.2049620633059" y1="181" x2="407.2049620633059" y2="182.0" stroke="#000" stroke-width="0.6"/>
<line x1="408.36100825560123" y1="181" x2="408.36100825560123" y2="182.0" stroke="#000" stroke-width="0.6"/>
<line x1="409.33843138420815" y1="181" x2="409.33843138420815" y2="182.0" stroke="#000" stroke-width="0.6"/>
<line x1="410.1851138100824" y1="181" x2="410.1851138100824" y2="182.0" stroke="#000" stroke-width="0.6"/>
<line x1="410.93194063781414" y1="181" x2="410.93194063781414" y2="182.0" stroke="#000" stroke-width="0.6"/>
<line x1="415.78431693972937" y1="181" x2="415.78431693972937" y2="182.0" stroke="#000" stroke-width="0.6"/>
<line x1="418.2319854406033" y1="181" x2="418.2319854406033" y2="182.0" stroke="#000" stroke-width="0.6"/>
<line x1="419.9686338794587" y1="181" x2="419.9686338794587" y2="182.0" stroke="#000" stroke-width="0.6"/>
<line x1="421.31568306027066" y1="181" x2="421.31568306027066" y2="182.0" stroke="#000" stroke-width="0.6"/>
<line x1="422.41630238033264" y1="181" x2="422.41630238033264" y2="182.0" stroke="#000" stroke-width="0.6"/>
<line x1="423.34686275619816" y1="181" x2="423.34686275619816" y2="182.0" stroke="#000" stroke-width="0.6"/>
<line x1="424.152950819188" y1="181" x2="424.152950819188" y2="182.0" stroke="#000" stroke-width="0.6"/>
<line x1="424.8639708812066" y1="181" x2="424.8639708812066" y2="182.0" stroke="#000" stroke-width="0.6"/>
<text x="360.6" y="117.6" font-size="7.0" fill="#c858c8">80.4</text>
<text x="429.8" y="117.6" font-size="7.0" text-anchor="end" fill="#c858c8">28.5</text>
<text x="360.6" y="179.2" font-size="7.0" fill="#c858c8">9.08</text>
<text x="429.8" y="179.2" font-size="7.0" text-anchor="end" fill="#c858c8">2.06</text>
<line x1="483.5" y1="111.3" x2="483.5" y2="181" stroke="#d070d8" stroke-width="0.9"/>
<g filter="url(#bl)"><path d="M499.8,152.1 L498.8,151.1 L497.2,150.6 L495.8,148.6 L493.8,147.6 L492.8,147.6 L491.8,149.1 L490.8,149.1 L489.2,146.1 L488.2,146.1 L484.8,144.6 L484.2,145.1 L482.2,145.1 L481.8,145.6 L478.8,145.6 L476.2,143.1 L475.8,143.1 L473.8,140.6 L472.2,140.6 L470.2,142.1 L466.8,142.1 L463.8,143.6 L459.8,144.1 L457.8,145.1 L457.8,147.1 L455.8,149.6 L451.8,147.6 L446.2,147.1 L446.2,168.1 L447.2,170.1 L449.2,172.1 L451.8,172.6 L452.8,174.1 L456.8,177.6 L457.8,180.1 L478.8,180.1 L480.8,178.1 L481.2,178.1 L481.8,177.1 L481.8,174.6 L482.8,172.6 L482.8,169.1 L483.8,168.1 L484.8,168.1 L485.2,168.6 L486.8,168.1 L487.2,167.6 L487.2,165.1 L487.8,164.1 L489.2,162.6 L491.2,161.6 L491.8,162.1 L491.8,166.1 L492.2,167.1 L492.8,167.1 L493.8,165.6 L494.2,161.6 L494.8,161.1 L497.8,160.6 L499.2,159.6 L498.8,155.6 L499.8,154.1Z" fill="#1020f0" fill-rule="evenodd"/><path d="M449.2,150.6 L446.2,154.6 L446.8,155.1 L446.8,157.6 L447.2,158.1 L446.2,162.1 L447.2,163.6 L447.2,167.1 L447.8,167.6 L447.8,168.6 L449.2,170.6 L451.2,171.1 L454.2,173.1 L456.2,173.1 L458.2,174.6 L458.8,178.6 L460.2,180.1 L472.8,180.1 L473.2,179.6 L473.8,180.1 L475.8,180.1 L476.8,179.6 L478.2,178.1 L478.2,173.1 L476.8,171.1 L476.8,169.6 L478.8,168.6 L478.8,167.6 L480.2,165.6 L482.8,164.6 L486.2,161.1 L486.8,161.1 L487.8,159.6 L487.8,158.6 L489.8,157.1 L491.8,157.1 L493.2,156.1 L495.2,153.6 L494.8,152.6 L493.2,151.6 L490.8,151.6 L490.2,151.1 L485.2,151.6 L483.2,149.6 L482.2,147.6 L477.2,147.6 L475.8,146.6 L471.2,146.6 L469.2,145.1 L467.8,145.1 L466.2,146.1 L463.2,146.1 L462.2,147.1 L461.8,149.1 L457.8,152.6 L455.8,152.6 L451.8,150.6ZM460.8,164.1 L462.2,166.1 L462.2,167.6 L460.8,169.1 L457.8,169.6 L456.8,168.6 L457.2,166.6 L459.8,164.1ZM452.8,154.1 L454.8,154.1 L455.2,154.6 L455.2,157.1 L454.2,158.1 L452.8,157.1 L451.8,155.6Z" fill="#0068ff" fill-rule="evenodd"/><path d="M460.2,173.6 L460.2,176.1 L462.2,178.1 L466.2,179.6 L472.2,179.6 L474.8,178.6 L476.2,176.6 L476.2,174.6 L474.8,171.6 L473.8,170.6 L471.2,169.6 L465.8,169.6 L465.2,170.1 L464.2,170.1 L462.2,171.1ZM450.2,162.1 L448.8,163.6 L448.8,167.1 L449.2,167.6 L449.2,168.6 L450.2,169.6 L451.2,169.6 L451.8,170.1 L454.8,170.1 L455.8,168.6 L455.8,164.1 L454.2,162.1ZM458.2,156.6 L458.2,158.1 L460.8,161.6 L462.8,163.1 L466.8,165.1 L468.2,165.1 L468.8,165.6 L474.8,165.6 L475.2,165.1 L478.2,164.6 L482.2,162.6 L484.8,160.1 L485.8,157.6 L485.2,154.6 L483.8,152.1 L479.8,149.6 L476.8,149.1 L476.2,148.6 L468.2,148.6 L467.8,149.1 L464.8,149.6 L460.8,152.1Z" fill="#00c0ff" fill-rule="evenodd"/><path d="M463.8,174.6 L463.8,176.6 L465.2,178.1 L467.8,178.6 L468.2,179.1 L471.2,179.1 L471.8,178.6 L472.8,178.6 L473.8,178.1 L474.8,176.6 L474.8,175.1 L473.2,173.6 L470.8,172.6 L467.2,172.6 L464.8,173.6ZM460.8,156.6 L461.2,159.1 L464.2,162.1 L467.8,163.6 L470.2,163.6 L470.8,164.1 L477.8,163.1 L480.8,161.6 L483.2,158.6 L483.2,155.1 L482.8,154.1 L480.8,152.1 L475.8,150.1 L468.2,150.1 L467.8,150.6 L465.2,151.1 L461.8,154.1Z" fill="#40f0c0" fill-rule="evenodd"/><path d="M466.2,175.1 L466.2,177.1 L467.8,178.1 L471.8,178.1 L473.2,177.1 L473.2,175.6 L471.2,174.1 L468.2,174.1ZM464.2,155.6 L464.2,158.1 L465.8,160.1 L467.8,161.1 L468.8,161.1 L470.2,162.1 L475.8,162.1 L478.8,160.6 L480.2,158.6 L480.2,155.6 L477.8,153.1 L476.8,153.1 L474.8,152.1 L469.2,152.1 L465.2,154.1Z" fill="#90ff40" fill-rule="evenodd"/><path d="M467.8,176.1 L468.2,177.1 L471.2,177.1 L471.8,176.6 L471.8,176.1 L470.2,175.1 L469.2,175.1ZM468.2,156.1 L468.2,158.6 L469.8,160.6 L472.2,161.6 L475.8,161.1 L477.8,160.1 L478.8,158.6 L478.2,156.1 L476.2,154.1 L475.2,154.1 L474.8,153.6 L471.2,153.6 L468.8,155.1Z" fill="#f0f000" fill-rule="evenodd"/><path d="M469.8,156.1 L469.8,158.6 L470.2,159.6 L472.2,160.6 L475.8,160.1 L477.8,158.6 L477.8,157.1 L474.8,154.6 L471.8,154.6Z" fill="#ff8c00" fill-rule="evenodd"/><path d="M471.2,156.6 L471.2,158.6 L471.8,159.1 L475.2,159.1 L476.2,158.6 L476.2,157.1 L473.8,155.6 L472.8,155.6Z" fill="#f01800" fill-rule="evenodd"/></g>
<line x1="445.5" y1="167.3" x2="517" y2="167.3" stroke="#d070d8" stroke-width="0.9"/>
<line x1="445.5" y1="111.3" x2="517" y2="111.3" stroke="#555" stroke-width="1.0"/>
<line x1="517" y1="111.3" x2="517" y2="181" stroke="#555" stroke-width="1.0"/>
<line x1="445.5" y1="111.3" x2="445.5" y2="181" stroke="#000" stroke-width="1.1"/>
<line x1="445.5" y1="181" x2="517" y2="181" stroke="#000" stroke-width="1.1"/>
<line x1="443.7" y1="113.7" x2="445.5" y2="113.7" stroke="#000" stroke-width="0.9"/>
<text x="443.3" y="115.3" font-size="5.0" text-anchor="end" fill="#333">10<tspan font-size="3.50" dy="-2.25">6</tspan></text>
<line x1="443.7" y1="127.6" x2="445.5" y2="127.6" stroke="#000" stroke-width="0.9"/>
<text x="443.3" y="129.2" font-size="5.0" text-anchor="end" fill="#333">10<tspan font-size="3.50" dy="-2.25">5</tspan></text>
<line x1="443.7" y1="142.1" x2="445.5" y2="142.1" stroke="#000" stroke-width="0.9"/>
<text x="443.3" y="143.7" font-size="5.0" text-anchor="end" fill="#333">10<tspan font-size="3.50" dy="-2.25">4</tspan></text>
<line x1="443.7" y1="156.0" x2="445.5" y2="156.0" stroke="#000" stroke-width="0.9"/>
<text x="443.3" y="157.6" font-size="5.0" text-anchor="end" fill="#333">10<tspan font-size="3.50" dy="-2.25">3</tspan></text>
<line x1="443.7" y1="170.5" x2="445.5" y2="170.5" stroke="#000" stroke-width="0.9"/>
<text x="443.3" y="172.1" font-size="5.0" text-anchor="end" fill="#333">10<tspan font-size="3.50" dy="-2.25">2</tspan></text>
<line x1="443.7" y1="178.0" x2="445.5" y2="178.0" stroke="#000" stroke-width="0.9"/>
<text x="443.3" y="179.6" font-size="5.0" text-anchor="end" fill="#333">0</text>
<line x1="460.0" y1="181" x2="460.0" y2="182.8" stroke="#000" stroke-width="0.9"/>
<text x="460.0" y="188.2" font-size="5.0" text-anchor="middle" fill="#333">0</text>
<line x1="467.0" y1="181" x2="467.0" y2="182.8" stroke="#000" stroke-width="0.9"/>
<text x="468.5" y="188.2" font-size="5.0" text-anchor="middle" fill="#333">10<tspan font-size="3.50" dy="-2.25">3</tspan></text>
<line x1="483.5" y1="181" x2="483.5" y2="182.8" stroke="#000" stroke-width="0.9"/>
<text x="485.0" y="188.2" font-size="5.0" text-anchor="middle" fill="#333">10<tspan font-size="3.50" dy="-2.25">4</tspan></text>
<line x1="498.1" y1="181" x2="498.1" y2="182.8" stroke="#000" stroke-width="0.9"/>
<text x="499.6" y="188.2" font-size="5.0" text-anchor="middle" fill="#333">10<tspan font-size="3.50" dy="-2.25">5</tspan></text>
<line x1="512.0" y1="181" x2="512.0" y2="182.8" stroke="#000" stroke-width="0.9"/>
<text x="513.5" y="188.2" font-size="5.0" text-anchor="middle" fill="#333">10<tspan font-size="3.50" dy="-2.25">6</tspan></text>
<line x1="444.5" y1="123.41568306027065" x2="445.5" y2="123.41568306027065" stroke="#000" stroke-width="0.6"/>
<line x1="444.5" y1="120.96801455939669" x2="445.5" y2="120.96801455939669" stroke="#000" stroke-width="0.6"/>
<line x1="444.5" y1="119.23136612054132" x2="445.5" y2="119.23136612054132" stroke="#000" stroke-width="0.6"/>
<line x1="444.5" y1="117.88431693972933" x2="445.5" y2="117.88431693972933" stroke="#000" stroke-width="0.6"/>
<line x1="444.5" y1="116.78369761966735" x2="445.5" y2="116.78369761966735" stroke="#000" stroke-width="0.6"/>
<line x1="444.5" y1="115.85313724380183" x2="445.5" y2="115.85313724380183" stroke="#000" stroke-width="0.6"/>
<line x1="444.5" y1="115.04704918081198" x2="445.5" y2="115.04704918081198" stroke="#000" stroke-width="0.6"/>
<line x1="444.5" y1="114.33602911879339" x2="445.5" y2="114.33602911879339" stroke="#000" stroke-width="0.6"/>
<line x1="444.5" y1="137.73506506287228" x2="445.5" y2="137.73506506287228" stroke="#000" stroke-width="0.6"/>
<line x1="444.5" y1="135.1817418065649" x2="445.5" y2="135.1817418065649" stroke="#000" stroke-width="0.6"/>
<line x1="444.5" y1="133.37013012574454" x2="445.5" y2="133.37013012574454" stroke="#000" stroke-width="0.6"/>
<line x1="444.5" y1="131.9649349371277" x2="445.5" y2="131.9649349371277" stroke="#000" stroke-width="0.6"/>
<line x1="444.5" y1="130.81680686943716" x2="445.5" y2="130.81680686943716" stroke="#000" stroke-width="0.6"/>
<line x1="444.5" y1="129.84607841979326" x2="445.5" y2="129.84607841979326" stroke="#000" stroke-width="0.6"/>
<line x1="444.5" y1="129.00519518861682" x2="445.5" y2="129.00519518861682" stroke="#000" stroke-width="0.6"/>
<line x1="444.5" y1="128.26348361312978" x2="445.5" y2="128.26348361312978" stroke="#000" stroke-width="0.6"/>
<line x1="444.5" y1="151.81568306027066" x2="445.5" y2="151.81568306027066" stroke="#000" stroke-width="0.6"/>
<line x1="444.5" y1="149.3680145593967" x2="445.5" y2="149.3680145593967" stroke="#000" stroke-width="0.6"/>
<line x1="444.5" y1="147.63136612054132" x2="445.5" y2="147.63136612054132" stroke="#000" stroke-width="0.6"/>
<line x1="444.5" y1="146.28431693972934" x2="445.5" y2="146.28431693972934" stroke="#000" stroke-width="0.6"/>
<line x1="444.5" y1="145.18369761966736" x2="445.5" y2="145.18369761966736" stroke="#000" stroke-width="0.6"/>
<line x1="444.5" y1="144.25313724380183" x2="445.5" y2="144.25313724380183" stroke="#000" stroke-width="0.6"/>
<line x1="444.5" y1="143.44704918081197" x2="445.5" y2="143.44704918081197" stroke="#000" stroke-width="0.6"/>
<line x1="444.5" y1="142.73602911879337" x2="445.5" y2="142.73602911879337" stroke="#000" stroke-width="0.6"/>
<line x1="444.5" y1="166.1350650628723" x2="445.5" y2="166.1350650628723" stroke="#000" stroke-width="0.6"/>
<line x1="444.5" y1="163.5817418065649" x2="445.5" y2="163.5817418065649" stroke="#000" stroke-width="0.6"/>
<line x1="444.5" y1="161.77013012574454" x2="445.5" y2="161.77013012574454" stroke="#000" stroke-width="0.6"/>
<line x1="444.5" y1="160.3649349371277" x2="445.5" y2="160.3649349371277" stroke="#000" stroke-width="0.6"/>
<line x1="444.5" y1="159.21680686943716" x2="445.5" y2="159.21680686943716" stroke="#000" stroke-width="0.6"/>
<line x1="444.5" y1="158.24607841979326" x2="445.5" y2="158.24607841979326" stroke="#000" stroke-width="0.6"/>
<line x1="444.5" y1="157.40519518861683" x2="445.5" y2="157.40519518861683" stroke="#000" stroke-width="0.6"/>
<line x1="444.5" y1="156.66348361312978" x2="445.5" y2="156.66348361312978" stroke="#000" stroke-width="0.6"/>
<line x1="444.5" y1="175.74227503252015" x2="445.5" y2="175.74227503252015" stroke="#000" stroke-width="0.6"/>
<line x1="444.5" y1="174.42159058960254" x2="445.5" y2="174.42159058960254" stroke="#000" stroke-width="0.6"/>
<line x1="444.5" y1="173.48455006504028" x2="445.5" y2="173.48455006504028" stroke="#000" stroke-width="0.6"/>
<line x1="444.5" y1="172.75772496747985" x2="445.5" y2="172.75772496747985" stroke="#000" stroke-width="0.6"/>
<line x1="444.5" y1="172.16386562212267" x2="445.5" y2="172.16386562212267" stroke="#000" stroke-width="0.6"/>
<line x1="444.5" y1="171.66176469989307" x2="445.5" y2="171.66176469989307" stroke="#000" stroke-width="0.6"/>
<line x1="444.5" y1="171.22682509756044" x2="445.5" y2="171.22682509756044" stroke="#000" stroke-width="0.6"/>
<line x1="444.5" y1="170.84318117920506" x2="445.5" y2="170.84318117920506" stroke="#000" stroke-width="0.6"/>
<line x1="462.10720996964784" y1="181" x2="462.10720996964784" y2="182.0" stroke="#000" stroke-width="0.6"/>
<line x1="463.3398487830376" y1="181" x2="463.3398487830376" y2="182.0" stroke="#000" stroke-width="0.6"/>
<line x1="464.21441993929574" y1="181" x2="464.21441993929574" y2="182.0" stroke="#000" stroke-width="0.6"/>
<line x1="464.89279003035216" y1="181" x2="464.89279003035216" y2="182.0" stroke="#000" stroke-width="0.6"/>
<line x1="465.4470587526855" y1="181" x2="465.4470587526855" y2="182.0" stroke="#000" stroke-width="0.6"/>
<line x1="465.9156862800998" y1="181" x2="465.9156862800998" y2="182.0" stroke="#000" stroke-width="0.6"/>
<line x1="466.3216299089436" y1="181" x2="466.3216299089436" y2="182.0" stroke="#000" stroke-width="0.6"/>
<line x1="466.6796975660753" y1="181" x2="466.6796975660753" y2="182.0" stroke="#000" stroke-width="0.6"/>
<line x1="471.9669949284557" y1="181" x2="471.9669949284557" y2="182.0" stroke="#000" stroke-width="0.6"/>
<line x1="474.87250070287445" y1="181" x2="474.87250070287445" y2="182.0" stroke="#000" stroke-width="0.6"/>
<line x1="476.93398985691135" y1="181" x2="476.93398985691135" y2="182.0" stroke="#000" stroke-width="0.6"/>
<line x1="478.5330050715443" y1="181" x2="478.5330050715443" y2="182.0" stroke="#000" stroke-width="0.6"/>
<line x1="479.8394956313301" y1="181" x2="479.8394956313301" y2="182.0" stroke="#000" stroke-width="0.6"/>
<line x1="480.94411766023524" y1="181" x2="480.94411766023524" y2="182.0" stroke="#000" stroke-width="0.6"/>
<line x1="481.9009847853671" y1="181" x2="481.9009847853671" y2="182.0" stroke="#000" stroke-width="0.6"/>
<line x1="482.74500140574884" y1="181" x2="482.74500140574884" y2="182.0" stroke="#000" stroke-width="0.6"/>
<line x1="487.8950379366941" y1="181" x2="487.8950379366941" y2="182.0" stroke="#000" stroke-width="0.6"/>
<line x1="490.46597031890707" y1="181" x2="490.46597031890707" y2="182.0" stroke="#000" stroke-width="0.6"/>
<line x1="492.2900758733883" y1="181" x2="492.2900758733883" y2="182.0" stroke="#000" stroke-width="0.6"/>
<line x1="493.7049620633059" y1="181" x2="493.7049620633059" y2="182.0" stroke="#000" stroke-width="0.6"/>
<line x1="494.86100825560123" y1="181" x2="494.86100825560123" y2="182.0" stroke="#000" stroke-width="0.6"/>
<line x1="495.83843138420815" y1="181" x2="495.83843138420815" y2="182.0" stroke="#000" stroke-width="0.6"/>
<line x1="496.6851138100824" y1="181" x2="496.6851138100824" y2="182.0" stroke="#000" stroke-width="0.6"/>
<line x1="497.43194063781414" y1="181" x2="497.43194063781414" y2="182.0" stroke="#000" stroke-width="0.6"/>
<line x1="502.28431693972937" y1="181" x2="502.28431693972937" y2="182.0" stroke="#000" stroke-width="0.6"/>
<line x1="504.7319854406033" y1="181" x2="504.7319854406033" y2="182.0" stroke="#000" stroke-width="0.6"/>
<line x1="506.4686338794587" y1="181" x2="506.4686338794587" y2="182.0" stroke="#000" stroke-width="0.6"/>
<line x1="507.81568306027066" y1="181" x2="507.81568306027066" y2="182.0" stroke="#000" stroke-width="0.6"/>
<line x1="508.91630238033264" y1="181" x2="508.91630238033264" y2="182.0" stroke="#000" stroke-width="0.6"/>
<line x1="509.84686275619816" y1="181" x2="509.84686275619816" y2="182.0" stroke="#000" stroke-width="0.6"/>
<line x1="510.652950819188" y1="181" x2="510.652950819188" y2="182.0" stroke="#000" stroke-width="0.6"/>
<line x1="511.3639708812066" y1="181" x2="511.3639708812066" y2="182.0" stroke="#000" stroke-width="0.6"/>
<text x="447.1" y="117.6" font-size="7.0" fill="#c858c8">61.8</text>
<text x="515.8" y="117.6" font-size="7.0" text-anchor="end" fill="#c858c8">12.5</text>
<text x="447.1" y="179.2" font-size="7.0" fill="#c858c8">24.8</text>
<text x="515.8" y="179.2" font-size="7.0" text-anchor="end" fill="#c858c8">1</text>
<circle cx="475.4" cy="136.5" r="1.3" fill="#1030c0"/>
<line x1="336.5" y1="27" x2="336.5" y2="60.6" stroke="#000" stroke-width="1.5"/>
<path d="M336.6,19.6 L339.9,29.3 L333.3,29.3 Z" fill="#000"/>
<line x1="336" y1="119" x2="336" y2="153.7" stroke="#000" stroke-width="1.5"/>
<path d="M336,111.9 L339.4,121.4 L332.6,121.4 Z" fill="#000"/>
<text x="342.0" y="84.5" font-size="10.3" font-weight="bold" text-anchor="middle" fill="#000" transform="rotate(-90 342.0 84.5)" textLength="34.5" lengthAdjust="spacingAndGlyphs">CAR19</text>
<text x="341.8" y="183.8" font-size="10.3" font-weight="bold" text-anchor="middle" fill="#000" transform="rotate(-90 341.8 183.8)" textLength="40.4" lengthAdjust="spacingAndGlyphs">CAR123</text>
<text x="345.2" y="203.0" font-size="9.45" font-weight="bold" fill="#000" textLength="93.4" lengthAdjust="spacingAndGlyphs">IFNy + TNFa + MIP1b</text>
<line x1="454.6" y1="198.8" x2="503" y2="198.8" stroke="#000" stroke-width="1.8"/>
<path d="M510.8,198.8 L500.8,194.9 L500.8,202.7 Z" fill="#000"/>
<line x1="29.2" y1="153.5" x2="136.5" y2="153.5" stroke="#000" stroke-width="1.3"/>
<line x1="29.2" y1="153.5" x2="29.2" y2="382.4" stroke="#000" stroke-width="1.3"/>
<line x1="136.5" y1="153.5" x2="136.5" y2="382.4" stroke="#000" stroke-width="1.3"/>
<line x1="29.2" y1="268.4" x2="136.5" y2="268.4" stroke="#000" stroke-width="1.3"/>
<line x1="29.2" y1="382.4" x2="136.5" y2="382.4" stroke="#000" stroke-width="1.3"/>
<g filter="url(#bl)"><path d="M116.5,192.4 L115.5,191.9 L113.0,191.9 L110.0,190.4 L109.0,190.4 L107.0,191.9 L104.5,191.9 L104.0,191.4 L102.5,192.4 L102.5,194.4 L105.0,195.4 L104.0,196.4 L103.5,198.9 L103.0,199.4 L103.5,202.9 L103.0,203.4 L103.0,208.4 L102.5,208.9 L102.5,212.9 L102.0,213.4 L98.5,213.4 L97.5,214.4 L96.5,214.4 L94.5,215.4 L91.0,215.4 L90.5,214.9 L89.0,214.9 L87.5,215.9 L86.0,215.9 L84.0,214.9 L82.5,214.9 L80.0,216.4 L77.5,218.9 L77.5,223.9 L77.0,224.4 L77.0,225.9 L77.5,226.4 L77.5,231.4 L80.0,233.9 L83.0,235.9 L84.0,235.9 L84.5,236.4 L87.0,236.4 L88.5,233.4 L92.0,235.9 L93.5,235.9 L95.0,234.9 L98.5,234.9 L99.0,235.4 L100.0,235.4 L101.0,234.9 L103.0,232.4 L104.0,234.4 L104.0,235.9 L106.5,239.9 L108.0,239.9 L108.5,239.4 L110.5,239.4 L111.5,240.4 L112.5,240.4 L114.0,237.9 L114.0,236.9 L115.5,234.4 L115.5,229.9 L116.0,229.4 L116.0,224.9 L116.5,224.4 L116.5,218.4 L116.0,217.9 L116.5,207.9 L116.0,207.4 L116.0,202.4 L115.5,201.9 L115.0,197.4 L114.0,196.4 L114.5,195.4 L115.5,195.4 L116.0,194.9Z" fill="#1020f0" fill-rule="evenodd"/><path d="M108.0,195.4 L106.5,196.9 L105.5,198.9 L105.5,201.4 L104.0,204.9 L104.0,209.4 L103.5,209.9 L103.5,218.9 L103.0,219.4 L102.5,218.4 L100.0,217.9 L97.0,219.9 L95.0,219.9 L94.5,219.4 L93.5,219.4 L93.0,219.9 L88.5,219.9 L87.5,220.4 L87.0,222.9 L85.0,224.4 L84.5,226.4 L88.5,230.4 L91.0,231.4 L92.5,231.4 L96.0,229.9 L99.0,226.4 L99.0,225.4 L100.0,224.4 L101.5,224.4 L103.5,223.4 L104.0,223.9 L104.0,226.4 L104.5,226.9 L104.5,228.9 L105.0,229.4 L105.5,232.9 L106.5,234.9 L109.0,236.9 L111.0,236.9 L113.0,233.9 L113.0,232.9 L114.5,229.4 L114.5,226.9 L115.0,226.4 L115.0,222.4 L115.5,221.9 L115.5,215.9 L115.0,215.4 L115.5,214.4 L115.5,209.4 L115.0,208.9 L114.5,202.9 L114.0,202.4 L113.0,198.4 L110.5,195.9Z" fill="#0068ff" fill-rule="evenodd"/><path d="M89.5,226.4 L89.5,227.9 L90.5,228.9 L93.5,228.9 L94.5,227.9 L94.5,226.9 L92.5,225.4 L91.5,225.4ZM108.5,198.4 L106.5,200.4 L106.5,201.4 L105.5,203.4 L105.5,204.9 L105.0,205.4 L105.0,207.9 L104.5,208.4 L104.5,223.9 L105.0,224.4 L105.5,228.9 L107.0,232.4 L108.0,233.4 L110.0,233.9 L111.0,233.4 L112.5,231.4 L112.5,230.4 L113.5,228.4 L113.5,226.9 L114.0,226.4 L114.0,223.4 L114.5,222.9 L114.5,208.9 L114.0,208.4 L113.5,203.4 L112.0,199.9 L110.5,198.4Z" fill="#00c0ff" fill-rule="evenodd"/><path d="M110.5,200.9 L108.5,200.9 L107.5,201.9 L106.0,205.4 L106.0,206.9 L105.5,207.4 L105.5,210.9 L105.0,211.4 L105.0,220.4 L105.5,220.9 L105.5,224.4 L106.0,224.9 L106.0,226.4 L106.5,226.9 L107.0,229.4 L109.0,231.4 L110.5,230.9 L112.5,227.9 L113.0,224.4 L113.5,223.9 L113.5,219.4 L114.0,218.9 L113.5,207.9 L113.0,207.4 L112.5,203.9Z" fill="#40f0c0" fill-rule="evenodd"/><path d="M109.5,203.9 L108.5,204.4 L107.5,205.9 L107.0,208.9 L106.5,209.4 L106.5,212.9 L106.0,213.4 L106.5,222.4 L107.0,222.9 L107.5,225.9 L109.0,227.4 L110.0,227.4 L111.0,226.4 L112.0,223.9 L112.0,222.4 L112.5,221.9 L112.5,209.9 L112.0,209.4 L112.0,207.4 L110.5,204.4Z" fill="#90ff40" fill-rule="evenodd"/><path d="M109.5,205.9 L108.0,207.4 L107.5,210.9 L107.0,211.4 L107.0,217.4 L107.5,217.9 L108.0,221.4 L109.0,222.9 L110.0,222.9 L111.0,221.4 L111.0,220.4 L111.5,219.9 L111.5,216.9 L112.0,216.4 L111.5,209.4 L110.5,206.9Z" fill="#f0f000" fill-rule="evenodd"/><path d="M110.0,208.4 L109.0,208.4 L108.0,210.4 L108.0,217.9 L108.5,218.4 L108.5,219.4 L109.5,220.4 L110.5,219.4 L110.5,218.4 L111.0,217.9 L111.0,210.9Z" fill="#ff8c00" fill-rule="evenodd"/><path d="M109.0,211.4 L108.5,214.9 L109.5,217.4 L110.0,216.9 L110.0,211.9Z" fill="#f01800" fill-rule="evenodd"/></g>
<line x1="101.6" y1="157.2" x2="101.6" y2="250" stroke="#e040e0" stroke-width="1.5"/>
<line x1="49.2" y1="218.8" x2="134" y2="218.8" stroke="#e040e0" stroke-width="1.5"/>
<line x1="49.2" y1="157.2" x2="134" y2="157.2" stroke="#111" stroke-width="1.3"/>
<line x1="134" y1="157.2" x2="134" y2="250" stroke="#111" stroke-width="1.3"/>
<line x1="49.2" y1="157.2" x2="49.2" y2="250" stroke="#000" stroke-width="1.5"/>
<line x1="49.2" y1="250" x2="134" y2="250" stroke="#000" stroke-width="1.5"/>
<line x1="47.400000000000006" y1="164.6" x2="49.2" y2="164.6" stroke="#000" stroke-width="0.9"/>
<text x="45.900000000000006" y="166.2" font-size="5.3" text-anchor="end" fill="#333">10<tspan font-size="3.71" dy="-2.38">5</tspan></text>
<line x1="47.400000000000006" y1="185.4" x2="49.2" y2="185.4" stroke="#000" stroke-width="0.9"/>
<text x="45.900000000000006" y="187.0" font-size="5.3" text-anchor="end" fill="#333">10<tspan font-size="3.71" dy="-2.38">4</tspan></text>
<line x1="47.400000000000006" y1="206.5" x2="49.2" y2="206.5" stroke="#000" stroke-width="0.9"/>
<text x="45.900000000000006" y="208.1" font-size="5.3" text-anchor="end" fill="#333">10<tspan font-size="3.71" dy="-2.38">3</tspan></text>
<line x1="47.400000000000006" y1="227.5" x2="49.2" y2="227.5" stroke="#000" stroke-width="0.9"/>
<text x="45.900000000000006" y="229.1" font-size="5.3" text-anchor="end" fill="#333">10<tspan font-size="3.71" dy="-2.38">2</tspan></text>
<line x1="47.400000000000006" y1="237.3" x2="49.2" y2="237.3" stroke="#000" stroke-width="0.9"/>
<text x="45.900000000000006" y="238.9" font-size="5.3" text-anchor="end" fill="#333">0</text>
<line x1="62.4" y1="250" x2="62.4" y2="251.8" stroke="#000" stroke-width="0.9"/>
<text x="62.4" y="257.5" font-size="5.3" text-anchor="middle" fill="#333">0</text>
<line x1="69.1" y1="250" x2="69.1" y2="251.8" stroke="#000" stroke-width="0.9"/>
<text x="70.6" y="257.5" font-size="5.3" text-anchor="middle" fill="#333">10<tspan font-size="3.71" dy="-2.38">2</tspan></text>
<line x1="86.4" y1="250" x2="86.4" y2="251.8" stroke="#000" stroke-width="0.9"/>
<text x="87.9" y="257.5" font-size="5.3" text-anchor="middle" fill="#333">10<tspan font-size="3.71" dy="-2.38">3</tspan></text>
<line x1="107" y1="250" x2="107" y2="251.8" stroke="#000" stroke-width="0.9"/>
<text x="108.5" y="257.5" font-size="5.3" text-anchor="middle" fill="#333">10<tspan font-size="3.71" dy="-2.38">4</tspan></text>
<line x1="126" y1="250" x2="126" y2="251.8" stroke="#000" stroke-width="0.9"/>
<text x="127.5" y="257.5" font-size="5.3" text-anchor="middle" fill="#333">10<tspan font-size="3.71" dy="-2.38">5</tspan></text>
<line x1="48.2" y1="179.1385760901892" x2="49.2" y2="179.1385760901892" stroke="#000" stroke-width="0.6"/>
<line x1="48.2" y1="175.475877901831" x2="49.2" y2="175.475877901831" stroke="#000" stroke-width="0.6"/>
<line x1="48.2" y1="172.87715218037837" x2="49.2" y2="172.87715218037837" stroke="#000" stroke-width="0.6"/>
<line x1="48.2" y1="170.8614239098108" x2="49.2" y2="170.8614239098108" stroke="#000" stroke-width="0.6"/>
<line x1="48.2" y1="169.2144539920202" x2="49.2" y2="169.2144539920202" stroke="#000" stroke-width="0.6"/>
<line x1="48.2" y1="167.82196076770344" x2="49.2" y2="167.82196076770344" stroke="#000" stroke-width="0.6"/>
<line x1="48.2" y1="166.61572827056756" x2="49.2" y2="166.61572827056756" stroke="#000" stroke-width="0.6"/>
<line x1="48.2" y1="165.55175580366205" x2="49.2" y2="165.55175580366205" stroke="#000" stroke-width="0.6"/>
<line x1="48.2" y1="200.14826709149" x2="49.2" y2="200.14826709149" stroke="#000" stroke-width="0.6"/>
<line x1="48.2" y1="196.4327415254151" x2="49.2" y2="196.4327415254151" stroke="#000" stroke-width="0.6"/>
<line x1="48.2" y1="193.79653418298" x2="49.2" y2="193.79653418298" stroke="#000" stroke-width="0.6"/>
<line x1="48.2" y1="191.75173290851" x2="49.2" y2="191.75173290851" stroke="#000" stroke-width="0.6"/>
<line x1="48.2" y1="190.08100861690514" x2="49.2" y2="190.08100861690514" stroke="#000" stroke-width="0.6"/>
<line x1="48.2" y1="188.6684313556992" x2="49.2" y2="188.6684313556992" stroke="#000" stroke-width="0.6"/>
<line x1="48.2" y1="187.44480127447" x2="49.2" y2="187.44480127447" stroke="#000" stroke-width="0.6"/>
<line x1="48.2" y1="186.36548305083025" x2="49.2" y2="186.36548305083025" stroke="#000" stroke-width="0.6"/>
<line x1="48.2" y1="221.1783700910564" x2="49.2" y2="221.1783700910564" stroke="#000" stroke-width="0.6"/>
<line x1="48.2" y1="217.48045365088709" x2="49.2" y2="217.48045365088709" stroke="#000" stroke-width="0.6"/>
<line x1="48.2" y1="214.8567401821128" x2="49.2" y2="214.8567401821128" stroke="#000" stroke-width="0.6"/>
<line x1="48.2" y1="212.8216299089436" x2="49.2" y2="212.8216299089436" stroke="#000" stroke-width="0.6"/>
<line x1="48.2" y1="211.15882374194348" x2="49.2" y2="211.15882374194348" stroke="#000" stroke-width="0.6"/>
<line x1="48.2" y1="209.7529411597006" x2="49.2" y2="209.7529411597006" stroke="#000" stroke-width="0.6"/>
<line x1="48.2" y1="208.53511027316918" x2="49.2" y2="208.53511027316918" stroke="#000" stroke-width="0.6"/>
<line x1="48.2" y1="207.46090730177417" x2="49.2" y2="207.46090730177417" stroke="#000" stroke-width="0.6"/>
<line x1="48.2" y1="234.349906042493" x2="49.2" y2="234.349906042493" stroke="#000" stroke-width="0.6"/>
<line x1="48.2" y1="232.6242117037473" x2="49.2" y2="232.6242117037473" stroke="#000" stroke-width="0.6"/>
<line x1="48.2" y1="231.39981208498597" x2="49.2" y2="231.39981208498597" stroke="#000" stroke-width="0.6"/>
<line x1="48.2" y1="230.45009395750702" x2="49.2" y2="230.45009395750702" stroke="#000" stroke-width="0.6"/>
<line x1="48.2" y1="229.67411774624028" x2="49.2" y2="229.67411774624028" stroke="#000" stroke-width="0.6"/>
<line x1="48.2" y1="229.01803920786028" x2="49.2" y2="229.01803920786028" stroke="#000" stroke-width="0.6"/>
<line x1="48.2" y1="228.44971812747895" x2="49.2" y2="228.44971812747895" stroke="#000" stroke-width="0.6"/>
<line x1="48.2" y1="227.94842340749463" x2="49.2" y2="227.94842340749463" stroke="#000" stroke-width="0.6"/>
<line x1="64.41690097094867" y1="250" x2="64.41690097094867" y2="251.0" stroke="#000" stroke-width="0.6"/>
<line x1="65.59671240662173" y1="250" x2="65.59671240662173" y2="251.0" stroke="#000" stroke-width="0.6"/>
<line x1="66.43380194189734" y1="250" x2="66.43380194189734" y2="251.0" stroke="#000" stroke-width="0.6"/>
<line x1="67.08309902905133" y1="250" x2="67.08309902905133" y2="251.0" stroke="#000" stroke-width="0.6"/>
<line x1="67.6136133775704" y1="250" x2="67.6136133775704" y2="251.0" stroke="#000" stroke-width="0.6"/>
<line x1="68.06215686809551" y1="250" x2="68.06215686809551" y2="251.0" stroke="#000" stroke-width="0.6"/>
<line x1="68.45070291284601" y1="250" x2="68.45070291284601" y2="251.0" stroke="#000" stroke-width="0.6"/>
<line x1="68.79342481324348" y1="250" x2="68.79342481324348" y2="251.0" stroke="#000" stroke-width="0.6"/>
<line x1="74.30781892498688" y1="250" x2="74.30781892498688" y2="251.0" stroke="#000" stroke-width="0.6"/>
<line x1="77.35419770665015" y1="250" x2="77.35419770665015" y2="251.0" stroke="#000" stroke-width="0.6"/>
<line x1="79.51563784997376" y1="250" x2="79.51563784997376" y2="251.0" stroke="#000" stroke-width="0.6"/>
<line x1="81.19218107501312" y1="250" x2="81.19218107501312" y2="251.0" stroke="#000" stroke-width="0.6"/>
<line x1="82.56201663163704" y1="250" x2="82.56201663163704" y2="251.0" stroke="#000" stroke-width="0.6"/>
<line x1="83.72019609224665" y1="250" x2="83.72019609224665" y2="251.0" stroke="#000" stroke-width="0.6"/>
<line x1="84.72345677496062" y1="250" x2="84.72345677496062" y2="251.0" stroke="#000" stroke-width="0.6"/>
<line x1="85.60839541330033" y1="250" x2="85.60839541330033" y2="251.0" stroke="#000" stroke-width="0.6"/>
<line x1="92.60121791067802" y1="250" x2="92.60121791067802" y2="251.0" stroke="#000" stroke-width="0.6"/>
<line x1="96.22869784722505" y1="250" x2="96.22869784722505" y2="251.0" stroke="#000" stroke-width="0.6"/>
<line x1="98.80243582135603" y1="250" x2="98.80243582135603" y2="251.0" stroke="#000" stroke-width="0.6"/>
<line x1="100.79878208932199" y1="250" x2="100.79878208932199" y2="251.0" stroke="#000" stroke-width="0.6"/>
<line x1="102.42991575790306" y1="250" x2="102.42991575790306" y2="251.0" stroke="#000" stroke-width="0.6"/>
<line x1="103.80901962429368" y1="250" x2="103.80901962429368" y2="251.0" stroke="#000" stroke-width="0.6"/>
<line x1="105.00365373203404" y1="250" x2="105.00365373203404" y2="251.0" stroke="#000" stroke-width="0.6"/>
<line x1="106.0573956944501" y1="250" x2="106.0573956944501" y2="251.0" stroke="#000" stroke-width="0.6"/>
<line x1="112.71956991761564" y1="250" x2="112.71956991761564" y2="251.0" stroke="#000" stroke-width="0.6"/>
<line x1="116.06530383967359" y1="250" x2="116.06530383967359" y2="251.0" stroke="#000" stroke-width="0.6"/>
<line x1="118.43913983523129" y1="250" x2="118.43913983523129" y2="251.0" stroke="#000" stroke-width="0.6"/>
<line x1="120.28043008238436" y1="250" x2="120.28043008238436" y2="251.0" stroke="#000" stroke-width="0.6"/>
<line x1="121.78487375728923" y1="250" x2="121.78487375728923" y2="251.0" stroke="#000" stroke-width="0.6"/>
<line x1="123.05686276027087" y1="250" x2="123.05686276027087" y2="251.0" stroke="#000" stroke-width="0.6"/>
<line x1="124.15870975284693" y1="250" x2="124.15870975284693" y2="251.0" stroke="#000" stroke-width="0.6"/>
<line x1="125.13060767934718" y1="250" x2="125.13060767934718" y2="251.0" stroke="#000" stroke-width="0.6"/>
<text x="50.400000000000006" y="166.5" font-size="8.0" fill="#c040c0">3.68</text>
<text x="133.2" y="166.5" font-size="8.0" text-anchor="end" fill="#c040c0">46.5</text>
<text x="51.6" y="246.0" font-size="8.0" fill="#c040c0">14.4</text>
<text x="133.2" y="246.0" font-size="8.0" text-anchor="end" fill="#c040c0">35.4</text>
<circle cx="93.5" cy="206" r="1" fill="#1030c0"/>
<g filter="url(#bl)"><path d="M57.0,297.2 L56.0,300.2 L54.0,302.2 L52.0,306.2 L52.0,310.8 L51.5,311.2 L51.5,312.2 L53.5,314.8 L53.0,315.8 L53.0,317.8 L56.0,320.2 L56.0,321.2 L57.0,322.8 L57.0,326.8 L58.5,328.2 L58.5,329.8 L60.0,331.8 L64.0,331.2 L64.5,332.2 L66.0,333.2 L68.0,333.2 L70.0,331.8 L71.5,331.8 L74.0,333.2 L73.5,333.8 L73.5,336.2 L74.0,337.2 L75.0,337.8 L79.0,337.8 L80.0,337.2 L80.5,336.2 L80.5,333.8 L82.5,332.2 L86.5,332.2 L90.0,335.8 L93.5,337.2 L96.0,337.2 L97.0,335.2 L98.5,333.8 L98.0,331.8 L95.5,329.8 L96.0,328.8 L96.0,325.8 L97.5,323.2 L97.5,318.8 L98.0,318.2 L98.0,315.8 L96.0,310.8 L96.0,308.2 L95.5,307.8 L96.0,306.8 L100.0,308.8 L101.0,308.8 L101.5,309.8 L103.5,311.2 L103.5,333.2 L104.0,333.8 L104.5,336.8 L106.5,339.8 L109.0,339.8 L110.0,339.2 L110.0,338.2 L109.5,337.8 L109.5,334.2 L110.0,333.8 L110.0,331.8 L111.5,329.2 L111.5,327.8 L112.0,327.2 L111.5,323.8 L111.0,323.2 L111.5,316.2 L112.0,315.8 L112.0,312.2 L111.0,310.2 L109.5,309.2 L110.0,303.8 L109.0,302.8 L107.0,302.2 L104.0,298.8 L102.5,298.2 L102.0,298.8 L98.5,298.8 L98.0,299.2 L96.5,299.2 L94.5,302.2 L91.0,298.8 L91.0,297.2 L92.5,295.8 L92.5,294.8 L90.0,294.2 L89.0,294.8 L89.0,295.2 L87.0,297.2 L85.5,297.2 L83.0,296.2 L81.0,293.8 L74.5,293.8 L73.5,294.8 L70.5,295.2 L70.0,295.8 L61.5,295.8 L60.0,296.8ZM78.0,332.2 L78.5,331.8 L79.5,332.2 L79.0,332.8ZM77.5,331.8 L78.0,331.2 L78.5,331.8 L78.0,332.2Z" fill="#1020f0" fill-rule="evenodd"/><path d="M106.0,311.8 L105.5,312.2 L105.5,315.8 L106.0,316.2 L105.5,317.2 L105.5,325.2 L107.5,327.8 L109.0,328.2 L110.0,326.8 L108.5,323.8 L108.5,322.2 L109.5,320.8 L109.5,313.2 L109.0,312.2 L108.0,311.8ZM107.5,304.2 L105.5,303.8 L104.0,304.8 L103.5,304.2 L102.5,304.8 L102.5,305.8 L103.5,306.2 L103.5,308.2 L104.0,308.8 L105.5,308.8 L108.0,305.8 L108.0,304.8ZM60.0,299.2 L56.5,303.8 L55.5,305.8 L55.5,308.2 L55.0,308.8 L55.0,309.8 L55.5,310.2 L56.0,314.8 L57.0,316.8 L62.5,322.8 L63.0,325.2 L65.0,326.8 L67.5,326.8 L67.5,324.2 L68.0,323.8 L71.0,323.8 L73.0,325.2 L75.0,325.2 L77.0,324.2 L79.5,324.2 L82.0,325.2 L83.0,326.2 L84.5,326.2 L85.5,324.2 L85.5,323.2 L86.5,322.2 L88.5,322.2 L89.5,321.8 L89.5,318.2 L90.0,317.8 L90.0,316.8 L93.0,313.2 L93.0,311.8 L92.5,311.2 L93.0,307.2 L91.0,304.8 L90.5,302.8 L89.5,301.2 L87.5,300.2 L86.5,300.2 L84.0,298.8 L82.5,298.8 L82.0,298.2 L78.5,298.2 L76.5,297.2 L71.5,297.2 L69.0,298.2 L63.0,298.2 L62.5,298.8Z" fill="#0068ff" fill-rule="evenodd"/><path d="M58.5,307.2 L58.5,311.8 L60.5,315.8 L63.5,318.2 L68.5,320.2 L74.0,320.8 L74.5,320.2 L78.0,320.2 L78.5,319.8 L81.5,319.2 L84.5,317.8 L88.0,314.2 L89.0,311.8 L89.0,307.8 L88.0,305.2 L85.5,302.8 L81.5,300.8 L77.5,300.2 L77.0,299.8 L69.0,299.8 L68.5,300.2 L67.0,300.2 L66.5,300.8 L64.0,301.2 L60.5,303.8Z" fill="#00c0ff" fill-rule="evenodd"/><path d="M61.0,307.8 L61.0,309.8 L62.0,311.8 L65.0,314.8 L67.5,316.2 L68.5,316.2 L69.0,316.8 L72.0,316.8 L72.5,317.2 L73.5,317.2 L74.0,316.8 L77.0,316.8 L81.0,315.2 L83.5,312.8 L84.5,310.8 L84.0,307.2 L81.5,304.2 L78.5,302.8 L74.0,302.2 L73.5,301.8 L71.0,301.8 L70.5,302.2 L68.0,302.2 L67.5,302.8 L66.5,302.8 L63.5,304.2 L62.0,305.8Z" fill="#40f0c0" fill-rule="evenodd"/><path d="M63.0,307.2 L63.0,309.8 L63.5,310.8 L65.5,312.8 L69.5,314.2 L75.0,314.2 L75.5,313.8 L77.0,313.8 L79.0,312.8 L81.5,309.8 L81.5,307.8 L81.0,306.8 L79.0,304.8 L75.5,303.2 L69.0,303.2 L68.5,303.8 L66.0,304.2 L64.5,305.2Z" fill="#90ff40" fill-rule="evenodd"/><path d="M65.0,307.8 L65.5,310.2 L67.0,311.8 L69.5,312.8 L75.0,312.8 L78.0,311.2 L79.0,309.8 L79.0,307.2 L77.0,305.2 L74.0,304.8 L73.5,304.2 L68.5,304.8 L66.5,305.8Z" fill="#f0f000" fill-rule="evenodd"/><path d="M67.0,307.8 L67.0,309.2 L68.5,310.8 L72.5,310.8 L73.5,311.2 L74.0,310.8 L75.5,310.8 L77.0,309.2 L76.5,306.8 L74.5,305.8 L73.0,305.8 L72.5,306.2 L70.0,305.8 L67.5,306.8Z" fill="#ff8c00" fill-rule="evenodd"/><path d="M68.0,307.8 L68.0,308.8 L69.0,309.8 L71.0,309.8 L71.5,309.2 L75.0,309.8 L76.0,308.8 L76.0,307.8 L74.5,306.8 L73.5,306.8 L72.0,307.8 L69.5,306.8Z" fill="#f01800" fill-rule="evenodd"/></g>
<line x1="98.7" y1="272" x2="98.7" y2="368.8" stroke="#e040e0" stroke-width="1.5"/>
<line x1="43.8" y1="313.5" x2="133.8" y2="313.5" stroke="#e040e0" stroke-width="1.5"/>
<line x1="43.8" y1="272" x2="133.8" y2="272" stroke="#111" stroke-width="1.3"/>
<line x1="133.8" y1="272" x2="133.8" y2="368.8" stroke="#111" stroke-width="1.3"/>
<line x1="43.8" y1="272" x2="43.8" y2="368.8" stroke="#000" stroke-width="1.5"/>
<line x1="43.8" y1="368.8" x2="133.8" y2="368.8" stroke="#000" stroke-width="1.5"/>
<line x1="42.0" y1="280.4" x2="43.8" y2="280.4" stroke="#000" stroke-width="0.9"/>
<text x="40.5" y="282.0" font-size="5.3" text-anchor="end" fill="#333">10<tspan font-size="3.71" dy="-2.38">5</tspan></text>
<line x1="42.0" y1="302.7" x2="43.8" y2="302.7" stroke="#000" stroke-width="0.9"/>
<text x="40.5" y="304.3" font-size="5.3" text-anchor="end" fill="#333">10<tspan font-size="3.71" dy="-2.38">4</tspan></text>
<line x1="42.0" y1="325" x2="43.8" y2="325" stroke="#000" stroke-width="0.9"/>
<text x="40.5" y="326.6" font-size="5.3" text-anchor="end" fill="#333">10<tspan font-size="3.71" dy="-2.38">3</tspan></text>
<line x1="42.0" y1="348.3" x2="43.8" y2="348.3" stroke="#000" stroke-width="0.9"/>
<text x="40.5" y="349.90000000000003" font-size="5.3" text-anchor="end" fill="#333">10<tspan font-size="3.71" dy="-2.38">2</tspan></text>
<line x1="42.0" y1="358.4" x2="43.8" y2="358.4" stroke="#000" stroke-width="0.9"/>
<text x="40.5" y="360.0" font-size="5.3" text-anchor="end" fill="#333">0</text>
<line x1="53.8" y1="368.8" x2="53.8" y2="370.6" stroke="#000" stroke-width="0.9"/>
<text x="53.8" y="376.3" font-size="5.3" text-anchor="middle" fill="#333">0</text>
<line x1="63" y1="368.8" x2="63" y2="370.6" stroke="#000" stroke-width="0.9"/>
<text x="64.5" y="376.3" font-size="5.3" text-anchor="middle" fill="#333">10<tspan font-size="3.71" dy="-2.38">2</tspan></text>
<line x1="85.2" y1="368.8" x2="85.2" y2="370.6" stroke="#000" stroke-width="0.9"/>
<text x="86.7" y="376.3" font-size="5.3" text-anchor="middle" fill="#333">10<tspan font-size="3.71" dy="-2.38">3</tspan></text>
<line x1="105.4" y1="368.8" x2="105.4" y2="370.6" stroke="#000" stroke-width="0.9"/>
<text x="106.9" y="376.3" font-size="5.3" text-anchor="middle" fill="#333">10<tspan font-size="3.71" dy="-2.38">4</tspan></text>
<line x1="124.6" y1="368.8" x2="124.6" y2="370.6" stroke="#000" stroke-width="0.9"/>
<text x="126.1" y="376.3" font-size="5.3" text-anchor="middle" fill="#333">10<tspan font-size="3.71" dy="-2.38">5</tspan></text>
<line x1="42.8" y1="295.9870310966932" x2="43.8" y2="295.9870310966932" stroke="#000" stroke-width="0.6"/>
<line x1="42.8" y1="292.0601960197515" x2="43.8" y2="292.0601960197515" stroke="#000" stroke-width="0.6"/>
<line x1="42.8" y1="289.27406219338644" x2="43.8" y2="289.27406219338644" stroke="#000" stroke-width="0.6"/>
<line x1="42.8" y1="287.11296890330675" x2="43.8" y2="287.11296890330675" stroke="#000" stroke-width="0.6"/>
<line x1="42.8" y1="285.34722711644474" x2="43.8" y2="285.34722711644474" stroke="#000" stroke-width="0.6"/>
<line x1="42.8" y1="283.8543137076821" x2="43.8" y2="283.8543137076821" stroke="#000" stroke-width="0.6"/>
<line x1="42.8" y1="282.5610932900796" x2="43.8" y2="282.5610932900796" stroke="#000" stroke-width="0.6"/>
<line x1="42.8" y1="281.42039203950304" x2="43.8" y2="281.42039203950304" stroke="#000" stroke-width="0.6"/>
<line x1="42.8" y1="318.2870310966932" x2="43.8" y2="318.2870310966932" stroke="#000" stroke-width="0.6"/>
<line x1="42.8" y1="314.3601960197515" x2="43.8" y2="314.3601960197515" stroke="#000" stroke-width="0.6"/>
<line x1="42.8" y1="311.57406219338645" x2="43.8" y2="311.57406219338645" stroke="#000" stroke-width="0.6"/>
<line x1="42.8" y1="309.41296890330676" x2="43.8" y2="309.41296890330676" stroke="#000" stroke-width="0.6"/>
<line x1="42.8" y1="307.64722711644475" x2="43.8" y2="307.64722711644475" stroke="#000" stroke-width="0.6"/>
<line x1="42.8" y1="306.15431370768204" x2="43.8" y2="306.15431370768204" stroke="#000" stroke-width="0.6"/>
<line x1="42.8" y1="304.8610932900796" x2="43.8" y2="304.8610932900796" stroke="#000" stroke-width="0.6"/>
<line x1="42.8" y1="303.72039203950305" x2="43.8" y2="303.72039203950305" stroke="#000" stroke-width="0.6"/>
<line x1="42.8" y1="341.2860011010292" x2="43.8" y2="341.2860011010292" stroke="#000" stroke-width="0.6"/>
<line x1="42.8" y1="337.18307476503185" x2="43.8" y2="337.18307476503185" stroke="#000" stroke-width="0.6"/>
<line x1="42.8" y1="334.2720022020585" x2="43.8" y2="334.2720022020585" stroke="#000" stroke-width="0.6"/>
<line x1="42.8" y1="332.0139988989708" x2="43.8" y2="332.0139988989708" stroke="#000" stroke-width="0.6"/>
<line x1="42.8" y1="330.1690758660611" x2="43.8" y2="330.1690758660611" stroke="#000" stroke-width="0.6"/>
<line x1="42.8" y1="328.6092156676678" x2="43.8" y2="328.6092156676678" stroke="#000" stroke-width="0.6"/>
<line x1="42.8" y1="327.2580033030877" x2="43.8" y2="327.2580033030877" stroke="#000" stroke-width="0.6"/>
<line x1="42.8" y1="326.06614953006374" x2="43.8" y2="326.06614953006374" stroke="#000" stroke-width="0.6"/>
<line x1="42.8" y1="355.35959704379377" x2="43.8" y2="355.35959704379377" stroke="#000" stroke-width="0.6"/>
<line x1="42.8" y1="353.5810753273314" x2="43.8" y2="353.5810753273314" stroke="#000" stroke-width="0.6"/>
<line x1="42.8" y1="352.31919408758756" x2="43.8" y2="352.31919408758756" stroke="#000" stroke-width="0.6"/>
<line x1="42.8" y1="351.3404029562062" x2="43.8" y2="351.3404029562062" stroke="#000" stroke-width="0.6"/>
<line x1="42.8" y1="350.5406723711252" x2="43.8" y2="350.5406723711252" stroke="#000" stroke-width="0.6"/>
<line x1="42.8" y1="349.864509795856" x2="43.8" y2="349.864509795856" stroke="#000" stroke-width="0.6"/>
<line x1="42.8" y1="349.27879113138135" x2="43.8" y2="349.27879113138135" stroke="#000" stroke-width="0.6"/>
<line x1="42.8" y1="348.76215065466283" x2="43.8" y2="348.76215065466283" stroke="#000" stroke-width="0.6"/>
<line x1="56.569475960108626" y1="368.8" x2="56.569475960108626" y2="369.8" stroke="#000" stroke-width="0.6"/>
<line x1="58.189515543420896" y1="368.8" x2="58.189515543420896" y2="369.8" stroke="#000" stroke-width="0.6"/>
<line x1="59.338951920217255" y1="368.8" x2="59.338951920217255" y2="369.8" stroke="#000" stroke-width="0.6"/>
<line x1="60.23052403989137" y1="368.8" x2="60.23052403989137" y2="369.8" stroke="#000" stroke-width="0.6"/>
<line x1="60.95899150352952" y1="368.8" x2="60.95899150352952" y2="369.8" stroke="#000" stroke-width="0.6"/>
<line x1="61.574901968131165" y1="368.8" x2="61.574901968131165" y2="369.8" stroke="#000" stroke-width="0.6"/>
<line x1="62.10842788032588" y1="368.8" x2="62.10842788032588" y2="369.8" stroke="#000" stroke-width="0.6"/>
<line x1="62.57903108684179" y1="368.8" x2="62.57903108684179" y2="369.8" stroke="#000" stroke-width="0.6"/>
<line x1="69.68286590374038" y1="368.8" x2="69.68286590374038" y2="369.8" stroke="#000" stroke-width="0.6"/>
<line x1="73.59209185477651" y1="368.8" x2="73.59209185477651" y2="369.8" stroke="#000" stroke-width="0.6"/>
<line x1="76.36573180748077" y1="368.8" x2="76.36573180748077" y2="369.8" stroke="#000" stroke-width="0.6"/>
<line x1="78.51713409625962" y1="368.8" x2="78.51713409625962" y2="369.8" stroke="#000" stroke-width="0.6"/>
<line x1="80.27495775851689" y1="368.8" x2="80.27495775851689" y2="369.8" stroke="#000" stroke-width="0.6"/>
<line x1="81.76117648831651" y1="368.8" x2="81.76117648831651" y2="369.8" stroke="#000" stroke-width="0.6"/>
<line x1="83.04859771122115" y1="368.8" x2="83.04859771122115" y2="369.8" stroke="#000" stroke-width="0.6"/>
<line x1="84.18418370955301" y1="368.8" x2="84.18418370955301" y2="369.8" stroke="#000" stroke-width="0.6"/>
<line x1="91.28080591241242" y1="368.8" x2="91.28080591241242" y2="369.8" stroke="#000" stroke-width="0.6"/>
<line x1="94.83784934533719" y1="368.8" x2="94.83784934533719" y2="369.8" stroke="#000" stroke-width="0.6"/>
<line x1="97.36161182482485" y1="368.8" x2="97.36161182482485" y2="369.8" stroke="#000" stroke-width="0.6"/>
<line x1="99.31919408758759" y1="368.8" x2="99.31919408758759" y2="369.8" stroke="#000" stroke-width="0.6"/>
<line x1="100.9186552577496" y1="368.8" x2="100.9186552577496" y2="369.8" stroke="#000" stroke-width="0.6"/>
<line x1="102.270980408288" y1="368.8" x2="102.270980408288" y2="369.8" stroke="#000" stroke-width="0.6"/>
<line x1="103.44241773723726" y1="368.8" x2="103.44241773723726" y2="369.8" stroke="#000" stroke-width="0.6"/>
<line x1="104.47569869067436" y1="368.8" x2="104.47569869067436" y2="369.8" stroke="#000" stroke-width="0.6"/>
<line x1="111.17977591674844" y1="368.8" x2="111.17977591674844" y2="369.8" stroke="#000" stroke-width="0.6"/>
<line x1="114.56072809061752" y1="368.8" x2="114.56072809061752" y2="369.8" stroke="#000" stroke-width="0.6"/>
<line x1="116.95955183349687" y1="368.8" x2="116.95955183349687" y2="369.8" stroke="#000" stroke-width="0.6"/>
<line x1="118.82022408325156" y1="368.8" x2="118.82022408325156" y2="369.8" stroke="#000" stroke-width="0.6"/>
<line x1="120.34050400736595" y1="368.8" x2="120.34050400736595" y2="369.8" stroke="#000" stroke-width="0.6"/>
<line x1="121.62588236827372" y1="368.8" x2="121.62588236827372" y2="369.8" stroke="#000" stroke-width="0.6"/>
<line x1="122.73932775024531" y1="368.8" x2="122.73932775024531" y2="369.8" stroke="#000" stroke-width="0.6"/>
<line x1="123.72145618123503" y1="368.8" x2="123.72145618123503" y2="369.8" stroke="#000" stroke-width="0.6"/>
<text x="45.0" y="281.3" font-size="8.0" fill="#c040c0">73.1</text>
<text x="133.0" y="281.3" font-size="8.0" text-anchor="end" fill="#c040c0">0.739</text>
<text x="46.199999999999996" y="364.8" font-size="8.0" fill="#c040c0">24.9</text>
<text x="133.0" y="364.8" font-size="8.0" text-anchor="end" fill="#c040c0">1.24</text>
<text x="10.1" y="205.7" font-size="10.6" text-anchor="middle" fill="#000" transform="rotate(-90 10.1 205.7)" textLength="41" lengthAdjust="spacingAndGlyphs">CART19</text>
<text x="10.1" y="324.7" font-size="10.6" text-anchor="middle" fill="#000" transform="rotate(-90 10.1 324.7)" textLength="46.1" lengthAdjust="spacingAndGlyphs">CART123</text>
<line x1="22" y1="366" x2="22" y2="393.6" stroke="#000" stroke-width="1.3"/>
<path d="M22,361 L24.6,367.5 L22,366 L19.4,367.5 Z" fill="none" stroke="#000" stroke-width="1.2"/>
<line x1="22" y1="393.6" x2="51" y2="393.6" stroke="#000" stroke-width="1.3"/>
<path d="M55.5,393.6 L49,391 L50.5,393.6 L49,396.2 Z" fill="none" stroke="#000" stroke-width="1.2"/>
<text x="17.3" y="378.9" font-size="7.2" font-weight="bold" text-anchor="middle" fill="#000" transform="rotate(-90 17.3 378.9)" textLength="16.2" lengthAdjust="spacingAndGlyphs">CAR</text>
<text x="26" y="407" font-size="7.8" font-weight="bold" fill="#000" textLength="21" lengthAdjust="spacingAndGlyphs">CFSE</text>
<text x="2.2" y="161.5" font-size="12" font-weight="bold" fill="#000" stroke="#000" stroke-width="0.45">C</text>
<line x1="205" y1="263.8" x2="205" y2="382.7" stroke="#000" stroke-width="1.7"/>
<line x1="204.2" y1="382.7" x2="318.5" y2="382.7" stroke="#000" stroke-width="1.7"/>
<line x1="201" y1="382.7" x2="205" y2="382.7" stroke="#000" stroke-width="1.5"/>
<text x="199.4" y="386.59999999999997" font-size="10.8" font-weight="bold" text-anchor="end" fill="#000">0</text>
<line x1="201" y1="359.08" x2="205" y2="359.08" stroke="#000" stroke-width="1.5"/>
<text x="199.4" y="362.97999999999996" font-size="10.8" font-weight="bold" text-anchor="end" fill="#000">20</text>
<line x1="201" y1="335.46" x2="205" y2="335.46" stroke="#000" stroke-width="1.5"/>
<text x="199.4" y="339.35999999999996" font-size="10.8" font-weight="bold" text-anchor="end" fill="#000">40</text>
<line x1="201" y1="311.84" x2="205" y2="311.84" stroke="#000" stroke-width="1.5"/>
<text x="199.4" y="315.73999999999995" font-size="10.8" font-weight="bold" text-anchor="end" fill="#000">60</text>
<line x1="201" y1="288.21999999999997" x2="205" y2="288.21999999999997" stroke="#000" stroke-width="1.5"/>
<text x="199.4" y="292.11999999999995" font-size="10.8" font-weight="bold" text-anchor="end" fill="#000">80</text>
<line x1="201" y1="264.59999999999997" x2="205" y2="264.59999999999997" stroke="#000" stroke-width="1.5"/>
<text x="199.4" y="268.49999999999994" font-size="10.8" font-weight="bold" text-anchor="end" fill="#000">100</text>
<line x1="226.3" y1="382.7" x2="226.3" y2="386.6" stroke="#000" stroke-width="1.5"/>
<line x1="283.9" y1="382.7" x2="283.9" y2="386.6" stroke="#000" stroke-width="1.5"/>
<rect x="211.6" y="358.48949999999996" width="29.6" height="24.210500000000025" fill="#fff" stroke="#000" stroke-width="1.5"/>
<line x1="226.3" y1="358.48949999999996" x2="226.3" y2="349.632" stroke="#000" stroke-width="1.4"/>
<line x1="221.5" y1="349.632" x2="230.8" y2="349.632" stroke="#000" stroke-width="1.4"/>
<rect x="268.8" y="270.7412" width="30.1" height="111.9588" fill="#000" stroke="none" stroke-width="1"/>
<line x1="283.9" y1="270.7412" x2="283.9" y2="268.6154" stroke="#000" stroke-width="1.4"/>
<line x1="279.6" y1="268.6154" x2="288.2" y2="268.6154" stroke="#000" stroke-width="1.4"/>
<text x="245.2" y="254.0" font-size="9" font-weight="bold" text-anchor="middle" fill="#000">***</text>
<line x1="226.3" y1="257.7" x2="269.4" y2="257.7" stroke="#000" stroke-width="1.6"/>
<text x="226.3" y="398.0" font-size="11.3" font-weight="bold" text-anchor="middle" fill="#000" textLength="44.3" lengthAdjust="spacingAndGlyphs">CART19</text>
<text x="283.7" y="398.0" font-size="11.3" font-weight="bold" text-anchor="middle" fill="#000" textLength="50.5" lengthAdjust="spacingAndGlyphs">CART123</text>
<text x="169.0" y="320.9" font-size="11.0" font-weight="bold" text-anchor="middle" fill="#000" transform="rotate(-90 169.0 320.9)" textLength="107.5" lengthAdjust="spacingAndGlyphs">% proliferating cells</text>
<text x="0.8" y="432.9" font-size="11" font-weight="bold" fill="#000" stroke="#000" stroke-width="0.45">D</text>
<line x1="31.8" y1="436" x2="31.8" y2="550" stroke="#000" stroke-width="1.5"/>
<line x1="31.2" y1="550" x2="142.5" y2="550" stroke="#000" stroke-width="1.5"/>
<line x1="28.2" y1="550.0" x2="31.8" y2="550.0" stroke="#000" stroke-width="1.3"/>
<text x="26.4" y="553.2" font-size="8.8" font-weight="bold" text-anchor="end" fill="#000">0</text>
<line x1="28.2" y1="527.4" x2="31.8" y2="527.4" stroke="#000" stroke-width="1.3"/>
<text x="26.4" y="530.6" font-size="8.8" font-weight="bold" text-anchor="end" fill="#000">20</text>
<line x1="28.2" y1="504.8" x2="31.8" y2="504.8" stroke="#000" stroke-width="1.3"/>
<text x="26.4" y="508.0" font-size="8.8" font-weight="bold" text-anchor="end" fill="#000">40</text>
<line x1="28.2" y1="482.2" x2="31.8" y2="482.2" stroke="#000" stroke-width="1.3"/>
<text x="26.4" y="485.4" font-size="8.8" font-weight="bold" text-anchor="end" fill="#000">60</text>
<line x1="28.2" y1="459.6" x2="31.8" y2="459.6" stroke="#000" stroke-width="1.3"/>
<text x="26.4" y="462.8" font-size="8.8" font-weight="bold" text-anchor="end" fill="#000">80</text>
<line x1="28.2" y1="437.0" x2="31.8" y2="437.0" stroke="#000" stroke-width="1.3"/>
<text x="26.4" y="440.2" font-size="8.8" font-weight="bold" text-anchor="end" fill="#000">100</text>
<line x1="42.5" y1="550" x2="42.5" y2="553" stroke="#000" stroke-width="1.2"/>
<text x="42.5" y="563.6" font-size="9" font-weight="bold" text-anchor="middle" fill="#000">0</text>
<line x1="64.7" y1="550" x2="64.7" y2="553" stroke="#000" stroke-width="1.2"/>
<text x="64.7" y="563.6" font-size="9" font-weight="bold" text-anchor="middle" fill="#000">0.15</text>
<line x1="86.5" y1="550" x2="86.5" y2="553" stroke="#000" stroke-width="1.2"/>
<text x="86.5" y="563.6" font-size="9" font-weight="bold" text-anchor="middle" fill="#000">0.3</text>
<line x1="108.8" y1="550" x2="108.8" y2="553" stroke="#000" stroke-width="1.2"/>
<text x="108.8" y="563.6" font-size="9" font-weight="bold" text-anchor="middle" fill="#000">0.6</text>
<line x1="131.3" y1="550" x2="131.3" y2="553" stroke="#000" stroke-width="1.2"/>
<text x="131.3" y="563.6" font-size="9" font-weight="bold" text-anchor="middle" fill="#000">1.25</text>
<text x="8.3" y="488.6" font-size="10.2" font-weight="bold" text-anchor="middle" fill="#000" transform="rotate(-90 8.3 488.6)" textLength="86.8" lengthAdjust="spacingAndGlyphs">specific lysis %</text>
<text x="65.8" y="581.5" font-size="10.5" font-weight="bold" fill="#000" textLength="42.7" lengthAdjust="spacingAndGlyphs">E:T ratio</text>
<polyline points="42.5,550.0 64.7,485.6 86.5,451.7 108.8,442.6 131.3,440.4" fill="none" stroke="#e42626" stroke-width="2.3"/>
<polyline points="42.5,550.0 64.7,504.8 86.5,465.2 108.8,450.6 131.3,450.6" fill="none" stroke="#e42626" stroke-width="2.3"/>
<polyline points="42.5,550.0 64.7,550.0 86.5,547.7 108.8,526.3 131.3,516.1" fill="none" stroke="#1a3090" stroke-width="2.3"/>
<polyline points="42.5,550.0 64.7,536.4 86.5,539.8 108.8,526.3 131.3,535.3" fill="none" stroke="#1a3090" stroke-width="2.3"/>
<circle cx="42.5" cy="550.0" r="3.5" fill="none" stroke="#000" stroke-width="1.1"/>
<circle cx="64.7" cy="485.6" r="3.5" fill="none" stroke="#000" stroke-width="1.1"/>
<circle cx="86.5" cy="451.7" r="3.5" fill="none" stroke="#000" stroke-width="1.1"/>
<circle cx="108.8" cy="442.6" r="3.5" fill="none" stroke="#000" stroke-width="1.1"/>
<circle cx="131.3" cy="440.4" r="3.5" fill="none" stroke="#000" stroke-width="1.1"/>
<path d="M38.9,547.4 L46.1,547.4 L42.5,553.4 Z" fill="#e42626"/>
<path d="M61.1,502.2 L68.3,502.2 L64.7,508.2 Z" fill="#e42626"/>
<path d="M82.9,462.59999999999997 L90.1,462.59999999999997 L86.5,468.59999999999997 Z" fill="#e42626"/>
<path d="M105.2,448.0 L112.39999999999999,448.0 L108.8,454.0 Z" fill="#e42626"/>
<path d="M127.70000000000002,448.0 L134.9,448.0 L131.3,454.0 Z" fill="#e42626"/>
<rect x="39.1" y="546.6" width="6.8" height="6.8" fill="none" stroke="#000" stroke-width="1.1"/>
<rect x="61.300000000000004" y="546.6" width="6.8" height="6.8" fill="none" stroke="#000" stroke-width="1.1"/>
<rect x="83.1" y="544.3000000000001" width="6.8" height="6.8" fill="none" stroke="#000" stroke-width="1.1"/>
<rect x="105.39999999999999" y="522.9" width="6.8" height="6.8" fill="none" stroke="#000" stroke-width="1.1"/>
<rect x="127.9" y="512.7" width="6.8" height="6.8" fill="none" stroke="#000" stroke-width="1.1"/>
<path d="M42.5,547.2 L45.5,550.0 L42.5,552.8 L39.5,550.0 Z" fill="#1a3090"/>
<path d="M64.7,533.6 L67.7,536.4 L64.7,539.1999999999999 L61.7,536.4 Z" fill="#1a3090"/>
<path d="M86.5,537.0 L89.5,539.8 L86.5,542.5999999999999 L83.5,539.8 Z" fill="#1a3090"/>
<path d="M108.8,523.5 L111.8,526.3 L108.8,529.0999999999999 L105.8,526.3 Z" fill="#1a3090"/>
<path d="M131.3,532.5 L134.3,535.3 L131.3,538.0999999999999 L128.3,535.3 Z" fill="#1a3090"/>
<circle cx="150" cy="469.3" r="2.7" fill="#fff" stroke="#7a1010" stroke-width="1.2"/>
<line x1="142.5" y1="469.3" x2="157.5" y2="469.3" stroke="#e42626" stroke-width="2"/>
<text x="163.3" y="472.6" font-size="9.2" font-weight="bold" fill="#000" textLength="73.7" lengthAdjust="spacingAndGlyphs">UPN36 CART123</text>
<rect x="147.4" y="479.9" width="5.2" height="5.2" fill="#fff" stroke="#101850" stroke-width="1.2"/>
<line x1="142.5" y1="482.5" x2="157.5" y2="482.5" stroke="#1a3090" stroke-width="2"/>
<text x="163.3" y="485.8" font-size="9.2" font-weight="bold" fill="#000" textLength="68.5" lengthAdjust="spacingAndGlyphs">UPN36 CART19</text>
<path d="M146.4,493.2 L153.6,493.2 L150,499.2 Z" fill="#e42626"/>
<line x1="142.5" y1="495.8" x2="157.5" y2="495.8" stroke="#e42626" stroke-width="2"/>
<text x="163.3" y="499.1" font-size="9.2" font-weight="bold" fill="#000" textLength="73.7" lengthAdjust="spacingAndGlyphs">UPN44 CART123</text>
<path d="M150,506.5 L153,509.3 L150,512.1 L147,509.3 Z" fill="#1a3090"/>
<line x1="142.5" y1="509.3" x2="157.5" y2="509.3" stroke="#1a3090" stroke-width="2"/>
<text x="163.3" y="512.6" font-size="9.2" font-weight="bold" fill="#000" textLength="68.5" lengthAdjust="spacingAndGlyphs">UPN44 CART19</text>
<text x="257.4" y="432.9" font-size="11.8" font-weight="bold" fill="#000" stroke="#000" stroke-width="0.45">E</text>
<line x1="282" y1="443.7" x2="282" y2="517.6" stroke="#000" stroke-width="1.5"/>
<line x1="281.5" y1="517.6" x2="322.5" y2="517.6" stroke="#000" stroke-width="1.2"/>
<line x1="279.2" y1="444.2" x2="282" y2="444.2" stroke="#000" stroke-width="1.2"/>
<text x="279.6" y="446.2" font-size="5.5" font-weight="bold" text-anchor="end" fill="#000">1000</text>
<line x1="280.4" y1="461.3014661060879" x2="282" y2="461.3014661060879" stroke="#000" stroke-width="0.7"/>
<line x1="280.4" y1="456.99309996785894" x2="282" y2="456.99309996785894" stroke="#000" stroke-width="0.7"/>
<line x1="280.4" y1="453.9362655455092" x2="282" y2="453.9362655455092" stroke="#000" stroke-width="0.7"/>
<line x1="280.4" y1="451.5652005605787" x2="282" y2="451.5652005605787" stroke="#000" stroke-width="0.7"/>
<line x1="280.4" y1="449.62789940728015" x2="282" y2="449.62789940728015" stroke="#000" stroke-width="0.7"/>
<line x1="280.4" y1="447.9899346209845" x2="282" y2="447.9899346209845" stroke="#000" stroke-width="0.7"/>
<line x1="280.4" y1="446.57106498493044" x2="282" y2="446.57106498493044" stroke="#000" stroke-width="0.7"/>
<line x1="280.4" y1="445.3195332690512" x2="282" y2="445.3195332690512" stroke="#000" stroke-width="0.7"/>
<line x1="279.2" y1="468.6666666666667" x2="282" y2="468.6666666666667" stroke="#000" stroke-width="1.2"/>
<text x="279.6" y="470.6666666666667" font-size="5.5" font-weight="bold" text-anchor="end" fill="#000">100</text>
<line x1="280.4" y1="485.7681327727546" x2="282" y2="485.7681327727546" stroke="#000" stroke-width="0.7"/>
<line x1="280.4" y1="481.45976663452564" x2="282" y2="481.45976663452564" stroke="#000" stroke-width="0.7"/>
<line x1="280.4" y1="478.40293221217587" x2="282" y2="478.40293221217587" stroke="#000" stroke-width="0.7"/>
<line x1="280.4" y1="476.0318672272454" x2="282" y2="476.0318672272454" stroke="#000" stroke-width="0.7"/>
<line x1="280.4" y1="474.09456607394685" x2="282" y2="474.09456607394685" stroke="#000" stroke-width="0.7"/>
<line x1="280.4" y1="472.4566012876512" x2="282" y2="472.4566012876512" stroke="#000" stroke-width="0.7"/>
<line x1="280.4" y1="471.03773165159714" x2="282" y2="471.03773165159714" stroke="#000" stroke-width="0.7"/>
<line x1="280.4" y1="469.7861999357179" x2="282" y2="469.7861999357179" stroke="#000" stroke-width="0.7"/>
<line x1="279.2" y1="493.1333333333333" x2="282" y2="493.1333333333333" stroke="#000" stroke-width="1.2"/>
<text x="279.6" y="495.1333333333333" font-size="5.5" font-weight="bold" text-anchor="end" fill="#000">10</text>
<line x1="280.4" y1="510.23479943942124" x2="282" y2="510.23479943942124" stroke="#000" stroke-width="0.7"/>
<line x1="280.4" y1="505.9264333011923" x2="282" y2="505.9264333011923" stroke="#000" stroke-width="0.7"/>
<line x1="280.4" y1="502.8695988788425" x2="282" y2="502.8695988788425" stroke="#000" stroke-width="0.7"/>
<line x1="280.4" y1="500.49853389391205" x2="282" y2="500.49853389391205" stroke="#000" stroke-width="0.7"/>
<line x1="280.4" y1="498.5612327406135" x2="282" y2="498.5612327406135" stroke="#000" stroke-width="0.7"/>
<line x1="280.4" y1="496.92326795431785" x2="282" y2="496.92326795431785" stroke="#000" stroke-width="0.7"/>
<line x1="280.4" y1="495.5043983182638" x2="282" y2="495.5043983182638" stroke="#000" stroke-width="0.7"/>
<line x1="280.4" y1="494.25286660238453" x2="282" y2="494.25286660238453" stroke="#000" stroke-width="0.7"/>
<line x1="279.2" y1="517.6" x2="282" y2="517.6" stroke="#000" stroke-width="1.2"/>
<text x="279.6" y="519.6" font-size="5.5" font-weight="bold" text-anchor="end" fill="#000">1</text>
<text x="283" y="434.4" font-size="7.16" font-weight="bold" fill="#000" textLength="23.5" lengthAdjust="spacingAndGlyphs">MIP-1α</text>
<text x="258.6" y="480.1" font-size="7.6" font-weight="bold" text-anchor="middle" fill="#000" transform="rotate(-90 258.6 480.1)" textLength="18.4" lengthAdjust="spacingAndGlyphs">pg/ml</text>
<rect x="305.2" y="447.4" width="13.5" height="70.20000000000005" fill="#000" stroke="none" stroke-width="1"/>
<line x1="294.2" y1="446.6" x2="314" y2="446.6" stroke="#000" stroke-width="1.3"/>
<text x="304.1" y="443.8" font-size="5.5" font-weight="bold" text-anchor="middle" fill="#000">***</text>
<line x1="291.8" y1="517.6" x2="291.8" y2="520.1" stroke="#000" stroke-width="1"/>
<line x1="311.2" y1="517.6" x2="311.2" y2="520.1" stroke="#000" stroke-width="1"/>
<text x="296.0" y="525.2" font-size="7.7" font-weight="bold" text-anchor="end" fill="#3a3a3a" transform="rotate(-45 296.0 525.2)">CART19</text>
<text x="315.2" y="526.0" font-size="7.7" font-weight="bold" text-anchor="end" fill="#3a3a3a" transform="rotate(-45 315.2 526.0)">CART123</text>
<line x1="376.5" y1="443.3" x2="376.5" y2="521.3" stroke="#000" stroke-width="1.5"/>
<line x1="376.0" y1="521.3" x2="427.5" y2="521.3" stroke="#000" stroke-width="1.2"/>
<line x1="373.7" y1="443.8" x2="376.5" y2="443.8" stroke="#000" stroke-width="1.2"/>
<text x="374.1" y="445.8" font-size="5.5" font-weight="bold" text-anchor="end" fill="#000">10000</text>
<line x1="374.9" y1="457.34254383401037" x2="376.5" y2="457.34254383401037" stroke="#000" stroke-width="0.7"/>
<line x1="374.9" y1="453.9307756898065" x2="376.5" y2="453.9307756898065" stroke="#000" stroke-width="0.7"/>
<line x1="374.9" y1="451.51008766802073" x2="376.5" y2="451.51008766802073" stroke="#000" stroke-width="0.7"/>
<line x1="374.9" y1="449.63245616598965" x2="376.5" y2="449.63245616598965" stroke="#000" stroke-width="0.7"/>
<line x1="374.9" y1="448.09831952381694" x2="376.5" y2="448.09831952381694" stroke="#000" stroke-width="0.7"/>
<line x1="374.9" y1="446.80122547472376" x2="376.5" y2="446.80122547472376" stroke="#000" stroke-width="0.7"/>
<line x1="374.9" y1="445.6776315020311" x2="376.5" y2="445.6776315020311" stroke="#000" stroke-width="0.7"/>
<line x1="374.9" y1="444.6865513796131" x2="376.5" y2="444.6865513796131" stroke="#000" stroke-width="0.7"/>
<line x1="373.7" y1="463.175" x2="376.5" y2="463.175" stroke="#000" stroke-width="1.2"/>
<text x="374.1" y="465.175" font-size="5.5" font-weight="bold" text-anchor="end" fill="#000">1000</text>
<line x1="374.9" y1="476.71754383401037" x2="376.5" y2="476.71754383401037" stroke="#000" stroke-width="0.7"/>
<line x1="374.9" y1="473.3057756898065" x2="376.5" y2="473.3057756898065" stroke="#000" stroke-width="0.7"/>
<line x1="374.9" y1="470.88508766802073" x2="376.5" y2="470.88508766802073" stroke="#000" stroke-width="0.7"/>
<line x1="374.9" y1="469.00745616598965" x2="376.5" y2="469.00745616598965" stroke="#000" stroke-width="0.7"/>
<line x1="374.9" y1="467.47331952381694" x2="376.5" y2="467.47331952381694" stroke="#000" stroke-width="0.7"/>
<line x1="374.9" y1="466.17622547472376" x2="376.5" y2="466.17622547472376" stroke="#000" stroke-width="0.7"/>
<line x1="374.9" y1="465.0526315020311" x2="376.5" y2="465.0526315020311" stroke="#000" stroke-width="0.7"/>
<line x1="374.9" y1="464.0615513796131" x2="376.5" y2="464.0615513796131" stroke="#000" stroke-width="0.7"/>
<line x1="373.7" y1="482.54999999999995" x2="376.5" y2="482.54999999999995" stroke="#000" stroke-width="1.2"/>
<text x="374.1" y="484.54999999999995" font-size="5.5" font-weight="bold" text-anchor="end" fill="#000">100</text>
<line x1="374.9" y1="496.0925438340103" x2="376.5" y2="496.0925438340103" stroke="#000" stroke-width="0.7"/>
<line x1="374.9" y1="492.68077568980647" x2="376.5" y2="492.68077568980647" stroke="#000" stroke-width="0.7"/>
<line x1="374.9" y1="490.2600876680207" x2="376.5" y2="490.2600876680207" stroke="#000" stroke-width="0.7"/>
<line x1="374.9" y1="488.3824561659896" x2="376.5" y2="488.3824561659896" stroke="#000" stroke-width="0.7"/>
<line x1="374.9" y1="486.8483195238169" x2="376.5" y2="486.8483195238169" stroke="#000" stroke-width="0.7"/>
<line x1="374.9" y1="485.5512254747237" x2="376.5" y2="485.5512254747237" stroke="#000" stroke-width="0.7"/>
<line x1="374.9" y1="484.42763150203103" x2="376.5" y2="484.42763150203103" stroke="#000" stroke-width="0.7"/>
<line x1="374.9" y1="483.43655137961304" x2="376.5" y2="483.43655137961304" stroke="#000" stroke-width="0.7"/>
<line x1="373.7" y1="501.92499999999995" x2="376.5" y2="501.92499999999995" stroke="#000" stroke-width="1.2"/>
<text x="374.1" y="503.92499999999995" font-size="5.5" font-weight="bold" text-anchor="end" fill="#000">10</text>
<line x1="374.9" y1="515.4675438340103" x2="376.5" y2="515.4675438340103" stroke="#000" stroke-width="0.7"/>
<line x1="374.9" y1="512.0557756898065" x2="376.5" y2="512.0557756898065" stroke="#000" stroke-width="0.7"/>
<line x1="374.9" y1="509.6350876680207" x2="376.5" y2="509.6350876680207" stroke="#000" stroke-width="0.7"/>
<line x1="374.9" y1="507.7574561659896" x2="376.5" y2="507.7574561659896" stroke="#000" stroke-width="0.7"/>
<line x1="374.9" y1="506.2233195238169" x2="376.5" y2="506.2233195238169" stroke="#000" stroke-width="0.7"/>
<line x1="374.9" y1="504.9262254747237" x2="376.5" y2="504.9262254747237" stroke="#000" stroke-width="0.7"/>
<line x1="374.9" y1="503.80263150203103" x2="376.5" y2="503.80263150203103" stroke="#000" stroke-width="0.7"/>
<line x1="374.9" y1="502.81155137961304" x2="376.5" y2="502.81155137961304" stroke="#000" stroke-width="0.7"/>
<line x1="373.7" y1="521.3" x2="376.5" y2="521.3" stroke="#000" stroke-width="1.2"/>
<text x="374.1" y="523.3" font-size="5.5" font-weight="bold" text-anchor="end" fill="#000">1</text>
<text x="380.4" y="433.2" font-size="7.5" font-weight="bold" fill="#000" textLength="24.6" lengthAdjust="spacingAndGlyphs">MIP-1β</text>
<text x="350.9" y="481.8" font-size="7.6" font-weight="bold" text-anchor="middle" fill="#000" transform="rotate(-90 350.9 481.8)" textLength="18.3" lengthAdjust="spacingAndGlyphs">pg/ml</text>
<rect x="381.3" y="501.2" width="17.399999999999977" height="20.099999999999966" fill="#fff" stroke="#000" stroke-width="1.0"/>
<rect x="406.3" y="457.7" width="18.30000000000001" height="63.599999999999966" fill="#000" stroke="none" stroke-width="1"/>
<line x1="390.4" y1="445.8" x2="411.2" y2="445.8" stroke="#000" stroke-width="1.3"/>
<text x="400.79999999999995" y="443.0" font-size="5.5" font-weight="bold" text-anchor="middle" fill="#000">***</text>
<line x1="389.6" y1="521.3" x2="389.6" y2="523.8" stroke="#000" stroke-width="1"/>
<line x1="415.6" y1="521.3" x2="415.6" y2="523.8" stroke="#000" stroke-width="1"/>
<line x1="471.7" y1="443.7" x2="471.7" y2="521.3" stroke="#000" stroke-width="1.5"/>
<line x1="471.2" y1="521.3" x2="517.7" y2="521.3" stroke="#000" stroke-width="1.2"/>
<line x1="468.9" y1="444.2" x2="471.7" y2="444.2" stroke="#000" stroke-width="1.2"/>
<text x="469.3" y="446.2" font-size="5.5" font-weight="bold" text-anchor="end" fill="#000">10000</text>
<line x1="470.09999999999997" y1="457.6726468335767" x2="471.7" y2="457.6726468335767" stroke="#000" stroke-width="0.7"/>
<line x1="470.09999999999997" y1="454.2784878152785" x2="471.7" y2="454.2784878152785" stroke="#000" stroke-width="0.7"/>
<line x1="470.09999999999997" y1="451.87029366715353" x2="471.7" y2="451.87029366715353" stroke="#000" stroke-width="0.7"/>
<line x1="470.09999999999997" y1="450.00235316642323" x2="471.7" y2="450.00235316642323" stroke="#000" stroke-width="0.7"/>
<line x1="470.09999999999997" y1="448.47613464885524" x2="471.7" y2="448.47613464885524" stroke="#000" stroke-width="0.7"/>
<line x1="470.09999999999997" y1="447.1857352787252" x2="471.7" y2="447.1857352787252" stroke="#000" stroke-width="0.7"/>
<line x1="470.09999999999997" y1="446.0679405007303" x2="471.7" y2="446.0679405007303" stroke="#000" stroke-width="0.7"/>
<line x1="470.09999999999997" y1="445.081975630557" x2="471.7" y2="445.081975630557" stroke="#000" stroke-width="0.7"/>
<line x1="468.9" y1="463.47499999999997" x2="471.7" y2="463.47499999999997" stroke="#000" stroke-width="1.2"/>
<text x="469.3" y="465.47499999999997" font-size="5.5" font-weight="bold" text-anchor="end" fill="#000">1000</text>
<line x1="470.09999999999997" y1="476.9476468335767" x2="471.7" y2="476.9476468335767" stroke="#000" stroke-width="0.7"/>
<line x1="470.09999999999997" y1="473.55348781527846" x2="471.7" y2="473.55348781527846" stroke="#000" stroke-width="0.7"/>
<line x1="470.09999999999997" y1="471.1452936671535" x2="471.7" y2="471.1452936671535" stroke="#000" stroke-width="0.7"/>
<line x1="470.09999999999997" y1="469.2773531664232" x2="471.7" y2="469.2773531664232" stroke="#000" stroke-width="0.7"/>
<line x1="470.09999999999997" y1="467.7511346488552" x2="471.7" y2="467.7511346488552" stroke="#000" stroke-width="0.7"/>
<line x1="470.09999999999997" y1="466.46073527872517" x2="471.7" y2="466.46073527872517" stroke="#000" stroke-width="0.7"/>
<line x1="470.09999999999997" y1="465.34294050073026" x2="471.7" y2="465.34294050073026" stroke="#000" stroke-width="0.7"/>
<line x1="470.09999999999997" y1="464.356975630557" x2="471.7" y2="464.356975630557" stroke="#000" stroke-width="0.7"/>
<line x1="468.9" y1="482.75" x2="471.7" y2="482.75" stroke="#000" stroke-width="1.2"/>
<text x="469.3" y="484.75" font-size="5.5" font-weight="bold" text-anchor="end" fill="#000">100</text>
<line x1="470.09999999999997" y1="496.22264683357673" x2="471.7" y2="496.22264683357673" stroke="#000" stroke-width="0.7"/>
<line x1="470.09999999999997" y1="492.8284878152785" x2="471.7" y2="492.8284878152785" stroke="#000" stroke-width="0.7"/>
<line x1="470.09999999999997" y1="490.42029366715354" x2="471.7" y2="490.42029366715354" stroke="#000" stroke-width="0.7"/>
<line x1="470.09999999999997" y1="488.55235316642325" x2="471.7" y2="488.55235316642325" stroke="#000" stroke-width="0.7"/>
<line x1="470.09999999999997" y1="487.02613464885525" x2="471.7" y2="487.02613464885525" stroke="#000" stroke-width="0.7"/>
<line x1="470.09999999999997" y1="485.7357352787252" x2="471.7" y2="485.7357352787252" stroke="#000" stroke-width="0.7"/>
<line x1="470.09999999999997" y1="484.6179405007303" x2="471.7" y2="484.6179405007303" stroke="#000" stroke-width="0.7"/>
<line x1="470.09999999999997" y1="483.631975630557" x2="471.7" y2="483.631975630557" stroke="#000" stroke-width="0.7"/>
<line x1="468.9" y1="502.025" x2="471.7" y2="502.025" stroke="#000" stroke-width="1.2"/>
<text x="469.3" y="504.025" font-size="5.5" font-weight="bold" text-anchor="end" fill="#000">10</text>
<line x1="470.09999999999997" y1="515.4976468335767" x2="471.7" y2="515.4976468335767" stroke="#000" stroke-width="0.7"/>
<line x1="470.09999999999997" y1="512.1034878152785" x2="471.7" y2="512.1034878152785" stroke="#000" stroke-width="0.7"/>
<line x1="470.09999999999997" y1="509.6952936671535" x2="471.7" y2="509.6952936671535" stroke="#000" stroke-width="0.7"/>
<line x1="470.09999999999997" y1="507.8273531664232" x2="471.7" y2="507.8273531664232" stroke="#000" stroke-width="0.7"/>
<line x1="470.09999999999997" y1="506.3011346488552" x2="471.7" y2="506.3011346488552" stroke="#000" stroke-width="0.7"/>
<line x1="470.09999999999997" y1="505.0107352787252" x2="471.7" y2="505.0107352787252" stroke="#000" stroke-width="0.7"/>
<line x1="470.09999999999997" y1="503.8929405007303" x2="471.7" y2="503.8929405007303" stroke="#000" stroke-width="0.7"/>
<line x1="470.09999999999997" y1="502.906975630557" x2="471.7" y2="502.906975630557" stroke="#000" stroke-width="0.7"/>
<line x1="468.9" y1="521.3" x2="471.7" y2="521.3" stroke="#000" stroke-width="1.2"/>
<text x="469.3" y="523.3" font-size="5.5" font-weight="bold" text-anchor="end" fill="#000">1</text>
<text x="471.7" y="433.9" font-size="7.48" font-weight="bold" fill="#000" textLength="29.5" lengthAdjust="spacingAndGlyphs">GM-CSF</text>
<text x="445.2" y="482.3" font-size="7.6" font-weight="bold" text-anchor="middle" fill="#000" transform="rotate(-90 445.2 482.3)" textLength="20" lengthAdjust="spacingAndGlyphs">pg/ml</text>
<rect x="476" y="513.2" width="16.19999999999999" height="8.099999999999909" fill="#fff" stroke="#000" stroke-width="1.0"/>
<rect x="499.5" y="451.5" width="16.5" height="69.79999999999995" fill="#000" stroke="none" stroke-width="1"/>
<line x1="485.6" y1="446.8" x2="506.4" y2="446.8" stroke="#000" stroke-width="1.3"/>
<text x="496.0" y="444.0" font-size="5.5" font-weight="bold" text-anchor="middle" fill="#000">***</text>
<line x1="484" y1="521.3" x2="484" y2="523.8" stroke="#000" stroke-width="1"/>
<line x1="507.7" y1="521.3" x2="507.7" y2="523.8" stroke="#000" stroke-width="1"/>
<line x1="290.8" y1="576.4" x2="290.8" y2="652.8" stroke="#000" stroke-width="1.5"/>
<line x1="290.3" y1="652.8" x2="331.7" y2="652.8" stroke="#000" stroke-width="1.2"/>
<line x1="288.0" y1="576.9" x2="290.8" y2="576.9" stroke="#000" stroke-width="1.2"/>
<text x="288.40000000000003" y="578.9" font-size="5.5" font-weight="bold" text-anchor="end" fill="#000">10000</text>
<line x1="289.2" y1="587.5103646658207" x2="290.8" y2="587.5103646658207" stroke="#000" stroke-width="0.7"/>
<line x1="289.2" y1="584.8372993533555" x2="290.8" y2="584.8372993533555" stroke="#000" stroke-width="0.7"/>
<line x1="289.2" y1="582.9407293316415" x2="290.8" y2="582.9407293316415" stroke="#000" stroke-width="0.7"/>
<line x1="289.2" y1="581.4696353341792" x2="290.8" y2="581.4696353341792" stroke="#000" stroke-width="0.7"/>
<line x1="289.2" y1="580.2676640191763" x2="290.8" y2="580.2676640191763" stroke="#000" stroke-width="0.7"/>
<line x1="289.2" y1="579.2514117525835" x2="290.8" y2="579.2514117525835" stroke="#000" stroke-width="0.7"/>
<line x1="289.2" y1="578.3710939974623" x2="290.8" y2="578.3710939974623" stroke="#000" stroke-width="0.7"/>
<line x1="289.2" y1="577.594598706711" x2="290.8" y2="577.594598706711" stroke="#000" stroke-width="0.7"/>
<line x1="288.0" y1="592.0799999999999" x2="290.8" y2="592.0799999999999" stroke="#000" stroke-width="1.2"/>
<text x="288.40000000000003" y="594.0799999999999" font-size="5.5" font-weight="bold" text-anchor="end" fill="#000">1000</text>
<line x1="289.2" y1="602.6903646658207" x2="290.8" y2="602.6903646658207" stroke="#000" stroke-width="0.7"/>
<line x1="289.2" y1="600.0172993533555" x2="290.8" y2="600.0172993533555" stroke="#000" stroke-width="0.7"/>
<line x1="289.2" y1="598.1207293316414" x2="290.8" y2="598.1207293316414" stroke="#000" stroke-width="0.7"/>
<line x1="289.2" y1="596.6496353341792" x2="290.8" y2="596.6496353341792" stroke="#000" stroke-width="0.7"/>
<line x1="289.2" y1="595.4476640191763" x2="290.8" y2="595.4476640191763" stroke="#000" stroke-width="0.7"/>
<line x1="289.2" y1="594.4314117525835" x2="290.8" y2="594.4314117525835" stroke="#000" stroke-width="0.7"/>
<line x1="289.2" y1="593.5510939974622" x2="290.8" y2="593.5510939974622" stroke="#000" stroke-width="0.7"/>
<line x1="289.2" y1="592.774598706711" x2="290.8" y2="592.774598706711" stroke="#000" stroke-width="0.7"/>
<line x1="288.0" y1="607.26" x2="290.8" y2="607.26" stroke="#000" stroke-width="1.2"/>
<text x="288.40000000000003" y="609.26" font-size="5.5" font-weight="bold" text-anchor="end" fill="#000">100</text>
<line x1="289.2" y1="617.8703646658207" x2="290.8" y2="617.8703646658207" stroke="#000" stroke-width="0.7"/>
<line x1="289.2" y1="615.1972993533556" x2="290.8" y2="615.1972993533556" stroke="#000" stroke-width="0.7"/>
<line x1="289.2" y1="613.3007293316415" x2="290.8" y2="613.3007293316415" stroke="#000" stroke-width="0.7"/>
<line x1="289.2" y1="611.8296353341792" x2="290.8" y2="611.8296353341792" stroke="#000" stroke-width="0.7"/>
<line x1="289.2" y1="610.6276640191763" x2="290.8" y2="610.6276640191763" stroke="#000" stroke-width="0.7"/>
<line x1="289.2" y1="609.6114117525835" x2="290.8" y2="609.6114117525835" stroke="#000" stroke-width="0.7"/>
<line x1="289.2" y1="608.7310939974623" x2="290.8" y2="608.7310939974623" stroke="#000" stroke-width="0.7"/>
<line x1="289.2" y1="607.9545987067111" x2="290.8" y2="607.9545987067111" stroke="#000" stroke-width="0.7"/>
<line x1="288.0" y1="622.4399999999999" x2="290.8" y2="622.4399999999999" stroke="#000" stroke-width="1.2"/>
<text x="288.40000000000003" y="624.4399999999999" font-size="5.5" font-weight="bold" text-anchor="end" fill="#000">10</text>
<line x1="289.2" y1="633.0503646658207" x2="290.8" y2="633.0503646658207" stroke="#000" stroke-width="0.7"/>
<line x1="289.2" y1="630.3772993533555" x2="290.8" y2="630.3772993533555" stroke="#000" stroke-width="0.7"/>
<line x1="289.2" y1="628.4807293316414" x2="290.8" y2="628.4807293316414" stroke="#000" stroke-width="0.7"/>
<line x1="289.2" y1="627.0096353341792" x2="290.8" y2="627.0096353341792" stroke="#000" stroke-width="0.7"/>
<line x1="289.2" y1="625.8076640191763" x2="290.8" y2="625.8076640191763" stroke="#000" stroke-width="0.7"/>
<line x1="289.2" y1="624.7914117525835" x2="290.8" y2="624.7914117525835" stroke="#000" stroke-width="0.7"/>
<line x1="289.2" y1="623.9110939974622" x2="290.8" y2="623.9110939974622" stroke="#000" stroke-width="0.7"/>
<line x1="289.2" y1="623.134598706711" x2="290.8" y2="623.134598706711" stroke="#000" stroke-width="0.7"/>
<line x1="288.0" y1="637.62" x2="290.8" y2="637.62" stroke="#000" stroke-width="1.2"/>
<text x="288.40000000000003" y="639.62" font-size="5.5" font-weight="bold" text-anchor="end" fill="#000">1</text>
<line x1="289.2" y1="648.2303646658207" x2="290.8" y2="648.2303646658207" stroke="#000" stroke-width="0.7"/>
<line x1="289.2" y1="645.5572993533556" x2="290.8" y2="645.5572993533556" stroke="#000" stroke-width="0.7"/>
<line x1="289.2" y1="643.6607293316415" x2="290.8" y2="643.6607293316415" stroke="#000" stroke-width="0.7"/>
<line x1="289.2" y1="642.1896353341792" x2="290.8" y2="642.1896353341792" stroke="#000" stroke-width="0.7"/>
<line x1="289.2" y1="640.9876640191763" x2="290.8" y2="640.9876640191763" stroke="#000" stroke-width="0.7"/>
<line x1="289.2" y1="639.9714117525835" x2="290.8" y2="639.9714117525835" stroke="#000" stroke-width="0.7"/>
<line x1="289.2" y1="639.0910939974623" x2="290.8" y2="639.0910939974623" stroke="#000" stroke-width="0.7"/>
<line x1="289.2" y1="638.3145987067111" x2="290.8" y2="638.3145987067111" stroke="#000" stroke-width="0.7"/>
<line x1="288.0" y1="652.8" x2="290.8" y2="652.8" stroke="#000" stroke-width="1.2"/>
<text x="288.40000000000003" y="654.8" font-size="5.5" font-weight="bold" text-anchor="end" fill="#000">0.1</text>
<text x="290.4" y="566.5" font-size="7.28" font-weight="bold" fill="#000" textLength="18.2" lengthAdjust="spacingAndGlyphs">IFN-γ</text>
<text x="260.9" y="614.2" font-size="7.6" font-weight="bold" text-anchor="middle" fill="#000" transform="rotate(-90 260.9 614.2)" textLength="19.1" lengthAdjust="spacingAndGlyphs">pg/ml</text>
<rect x="314.8" y="577" width="14.199999999999989" height="60.39999999999998" fill="#000" stroke="none" stroke-width="1"/>
<rect x="294.3" y="637.4" width="13.899999999999977" height="5.0" fill="#fff" stroke="#000" stroke-width="1.0"/>
<line x1="302.1" y1="573" x2="320.9" y2="573" stroke="#000" stroke-width="1.3"/>
<text x="309.5" y="573.4" font-size="5.5" font-weight="bold" text-anchor="middle" fill="#000">***</text>
<line x1="301.6" y1="652.8" x2="301.6" y2="655.3" stroke="#000" stroke-width="1"/>
<line x1="321.2" y1="652.8" x2="321.2" y2="655.3" stroke="#000" stroke-width="1"/>
<line x1="290.8" y1="637.4" x2="331.7" y2="637.4" stroke="#000" stroke-width="1.2"/>
<line x1="301.3" y1="642.4" x2="301.3" y2="644.7" stroke="#000" stroke-width="1"/>
<line x1="299.3" y1="644.7" x2="303.3" y2="644.7" stroke="#000" stroke-width="1"/>
<line x1="371.3" y1="575.2" x2="371.3" y2="653.4" stroke="#000" stroke-width="1.5"/>
<line x1="370.8" y1="653.4" x2="421.7" y2="653.4" stroke="#000" stroke-width="1.2"/>
<line x1="368.5" y1="575.7" x2="371.3" y2="575.7" stroke="#000" stroke-width="1.2"/>
<text x="368.90000000000003" y="577.7" font-size="5.5" font-weight="bold" text-anchor="end" fill="#000">100</text>
<line x1="369.7" y1="602.8549846684543" x2="371.3" y2="602.8549846684543" stroke="#000" stroke-width="0.7"/>
<line x1="369.7" y1="596.0138392541411" x2="371.3" y2="596.0138392541411" stroke="#000" stroke-width="0.7"/>
<line x1="369.7" y1="591.1599693369087" x2="371.3" y2="591.1599693369087" stroke="#000" stroke-width="0.7"/>
<line x1="369.7" y1="587.3950153315457" x2="371.3" y2="587.3950153315457" stroke="#000" stroke-width="0.7"/>
<line x1="369.7" y1="584.3188239225955" x2="371.3" y2="584.3188239225955" stroke="#000" stroke-width="0.7"/>
<line x1="369.7" y1="581.7179411454462" x2="371.3" y2="581.7179411454462" stroke="#000" stroke-width="0.7"/>
<line x1="369.7" y1="579.464954005363" x2="371.3" y2="579.464954005363" stroke="#000" stroke-width="0.7"/>
<line x1="369.7" y1="577.4776785082822" x2="371.3" y2="577.4776785082822" stroke="#000" stroke-width="0.7"/>
<line x1="368.5" y1="614.55" x2="371.3" y2="614.55" stroke="#000" stroke-width="1.2"/>
<text x="368.90000000000003" y="616.55" font-size="5.5" font-weight="bold" text-anchor="end" fill="#000">10</text>
<line x1="369.7" y1="641.7049846684542" x2="371.3" y2="641.7049846684542" stroke="#000" stroke-width="0.7"/>
<line x1="369.7" y1="634.863839254141" x2="371.3" y2="634.863839254141" stroke="#000" stroke-width="0.7"/>
<line x1="369.7" y1="630.0099693369086" x2="371.3" y2="630.0099693369086" stroke="#000" stroke-width="0.7"/>
<line x1="369.7" y1="626.2450153315456" x2="371.3" y2="626.2450153315456" stroke="#000" stroke-width="0.7"/>
<line x1="369.7" y1="623.1688239225954" x2="371.3" y2="623.1688239225954" stroke="#000" stroke-width="0.7"/>
<line x1="369.7" y1="620.5679411454461" x2="371.3" y2="620.5679411454461" stroke="#000" stroke-width="0.7"/>
<line x1="369.7" y1="618.3149540053629" x2="371.3" y2="618.3149540053629" stroke="#000" stroke-width="0.7"/>
<line x1="369.7" y1="616.3276785082821" x2="371.3" y2="616.3276785082821" stroke="#000" stroke-width="0.7"/>
<line x1="368.5" y1="653.4" x2="371.3" y2="653.4" stroke="#000" stroke-width="1.2"/>
<text x="368.90000000000003" y="655.4" font-size="5.5" font-weight="bold" text-anchor="end" fill="#000">1</text>
<text x="378.6" y="565" font-size="7.99" font-weight="bold" fill="#000" textLength="23.1" lengthAdjust="spacingAndGlyphs">TNF-α</text>
<text x="350.9" y="613" font-size="7.6" font-weight="bold" text-anchor="middle" fill="#000" transform="rotate(-90 350.9 613)" textLength="20" lengthAdjust="spacingAndGlyphs">pg/ml</text>
<rect x="375.6" y="643.5" width="17.399999999999977" height="9.899999999999977" fill="#fff" stroke="#000" stroke-width="1.0"/>
<rect x="400.8" y="592.6" width="17.399999999999977" height="60.799999999999955" fill="#000" stroke="none" stroke-width="1"/>
<line x1="384.8" y1="576.4" x2="409.5" y2="576.4" stroke="#000" stroke-width="1.3"/>
<text x="397.15" y="573.6" font-size="5.5" font-weight="bold" text-anchor="middle" fill="#000">**</text>
<line x1="384.3" y1="653.4" x2="384.3" y2="655.9" stroke="#000" stroke-width="1"/>
<line x1="409.1" y1="653.4" x2="409.1" y2="655.9" stroke="#000" stroke-width="1"/>
<line x1="471.3" y1="575.6" x2="471.3" y2="653.4" stroke="#000" stroke-width="1.5"/>
<line x1="470.8" y1="653.4" x2="515.5" y2="653.4" stroke="#000" stroke-width="1.2"/>
<line x1="468.5" y1="576.1" x2="471.3" y2="576.1" stroke="#000" stroke-width="1.2"/>
<text x="468.90000000000003" y="578.1" font-size="5.5" font-weight="bold" text-anchor="end" fill="#000">10000</text>
<line x1="469.7" y1="589.6075953337936" x2="471.3" y2="589.6075953337936" stroke="#000" stroke-width="0.7"/>
<line x1="469.7" y1="586.2046317525426" x2="471.3" y2="586.2046317525426" stroke="#000" stroke-width="0.7"/>
<line x1="469.7" y1="583.7901906675871" x2="471.3" y2="583.7901906675871" stroke="#000" stroke-width="0.7"/>
<line x1="469.7" y1="581.9174046662065" x2="471.3" y2="581.9174046662065" stroke="#000" stroke-width="0.7"/>
<line x1="469.7" y1="580.3872270863361" x2="471.3" y2="580.3872270863361" stroke="#000" stroke-width="0.7"/>
<line x1="469.7" y1="579.0934803767245" x2="471.3" y2="579.0934803767245" stroke="#000" stroke-width="0.7"/>
<line x1="469.7" y1="577.9727860013808" x2="471.3" y2="577.9727860013808" stroke="#000" stroke-width="0.7"/>
<line x1="469.7" y1="576.9842635050851" x2="471.3" y2="576.9842635050851" stroke="#000" stroke-width="0.7"/>
<line x1="468.5" y1="595.425" x2="471.3" y2="595.425" stroke="#000" stroke-width="1.2"/>
<text x="468.90000000000003" y="597.425" font-size="5.5" font-weight="bold" text-anchor="end" fill="#000">1000</text>
<line x1="469.7" y1="608.9325953337935" x2="471.3" y2="608.9325953337935" stroke="#000" stroke-width="0.7"/>
<line x1="469.7" y1="605.5296317525425" x2="471.3" y2="605.5296317525425" stroke="#000" stroke-width="0.7"/>
<line x1="469.7" y1="603.1151906675871" x2="471.3" y2="603.1151906675871" stroke="#000" stroke-width="0.7"/>
<line x1="469.7" y1="601.2424046662064" x2="471.3" y2="601.2424046662064" stroke="#000" stroke-width="0.7"/>
<line x1="469.7" y1="599.712227086336" x2="471.3" y2="599.712227086336" stroke="#000" stroke-width="0.7"/>
<line x1="469.7" y1="598.4184803767245" x2="471.3" y2="598.4184803767245" stroke="#000" stroke-width="0.7"/>
<line x1="469.7" y1="597.2977860013807" x2="471.3" y2="597.2977860013807" stroke="#000" stroke-width="0.7"/>
<line x1="469.7" y1="596.309263505085" x2="471.3" y2="596.309263505085" stroke="#000" stroke-width="0.7"/>
<line x1="468.5" y1="614.75" x2="471.3" y2="614.75" stroke="#000" stroke-width="1.2"/>
<text x="468.90000000000003" y="616.75" font-size="5.5" font-weight="bold" text-anchor="end" fill="#000">100</text>
<line x1="469.7" y1="628.2575953337936" x2="471.3" y2="628.2575953337936" stroke="#000" stroke-width="0.7"/>
<line x1="469.7" y1="624.8546317525426" x2="471.3" y2="624.8546317525426" stroke="#000" stroke-width="0.7"/>
<line x1="469.7" y1="622.4401906675871" x2="471.3" y2="622.4401906675871" stroke="#000" stroke-width="0.7"/>
<line x1="469.7" y1="620.5674046662065" x2="471.3" y2="620.5674046662065" stroke="#000" stroke-width="0.7"/>
<line x1="469.7" y1="619.0372270863361" x2="471.3" y2="619.0372270863361" stroke="#000" stroke-width="0.7"/>
<line x1="469.7" y1="617.7434803767245" x2="471.3" y2="617.7434803767245" stroke="#000" stroke-width="0.7"/>
<line x1="469.7" y1="616.6227860013807" x2="471.3" y2="616.6227860013807" stroke="#000" stroke-width="0.7"/>
<line x1="469.7" y1="615.6342635050851" x2="471.3" y2="615.6342635050851" stroke="#000" stroke-width="0.7"/>
<line x1="468.5" y1="634.075" x2="471.3" y2="634.075" stroke="#000" stroke-width="1.2"/>
<text x="468.90000000000003" y="636.075" font-size="5.5" font-weight="bold" text-anchor="end" fill="#000">10</text>
<line x1="469.7" y1="647.5825953337936" x2="471.3" y2="647.5825953337936" stroke="#000" stroke-width="0.7"/>
<line x1="469.7" y1="644.1796317525426" x2="471.3" y2="644.1796317525426" stroke="#000" stroke-width="0.7"/>
<line x1="469.7" y1="641.7651906675871" x2="471.3" y2="641.7651906675871" stroke="#000" stroke-width="0.7"/>
<line x1="469.7" y1="639.8924046662065" x2="471.3" y2="639.8924046662065" stroke="#000" stroke-width="0.7"/>
<line x1="469.7" y1="638.3622270863361" x2="471.3" y2="638.3622270863361" stroke="#000" stroke-width="0.7"/>
<line x1="469.7" y1="637.0684803767246" x2="471.3" y2="637.0684803767246" stroke="#000" stroke-width="0.7"/>
<line x1="469.7" y1="635.9477860013808" x2="471.3" y2="635.9477860013808" stroke="#000" stroke-width="0.7"/>
<line x1="469.7" y1="634.9592635050851" x2="471.3" y2="634.9592635050851" stroke="#000" stroke-width="0.7"/>
<line x1="468.5" y1="653.4" x2="471.3" y2="653.4" stroke="#000" stroke-width="1.2"/>
<text x="468.90000000000003" y="655.4" font-size="5.5" font-weight="bold" text-anchor="end" fill="#000">1</text>
<text x="478.3" y="565.5" font-size="7.26" font-weight="bold" fill="#000" textLength="12.9" lengthAdjust="spacingAndGlyphs">IL-2</text>
<text x="447" y="611.7" font-size="7.6" font-weight="bold" text-anchor="middle" fill="#000" transform="rotate(-90 447 611.7)" textLength="22.6" lengthAdjust="spacingAndGlyphs">pg/ml</text>
<rect x="497.8" y="586.5" width="14.699999999999989" height="66.89999999999998" fill="#000" stroke="none" stroke-width="1"/>
<line x1="488.2" y1="576.4" x2="504.4" y2="576.4" stroke="#000" stroke-width="1.3"/>
<text x="496.29999999999995" y="573.6" font-size="5.5" font-weight="bold" text-anchor="middle" fill="#000">***</text>
<line x1="483.5" y1="653.4" x2="483.5" y2="655.9" stroke="#000" stroke-width="1"/>
<line x1="505.2" y1="653.4" x2="505.2" y2="655.9" stroke="#000" stroke-width="1"/>
<rect x="327" y="679.5" width="8.5" height="7.5" fill="#0a0a1e" stroke="none" stroke-width="1"/>
<text x="339.5" y="687" font-size="10.8" fill="#1a1a1a" textLength="40.5" lengthAdjust="spacingAndGlyphs">CART123</text>
<rect x="392.8" y="680.3" width="9" height="6.4" fill="#fff" stroke="#000" stroke-width="1.6"/>
<text x="405" y="687" font-size="10.8" fill="#1a1a1a" textLength="34.5" lengthAdjust="spacingAndGlyphs">CART19</text>
</svg></body></html>
